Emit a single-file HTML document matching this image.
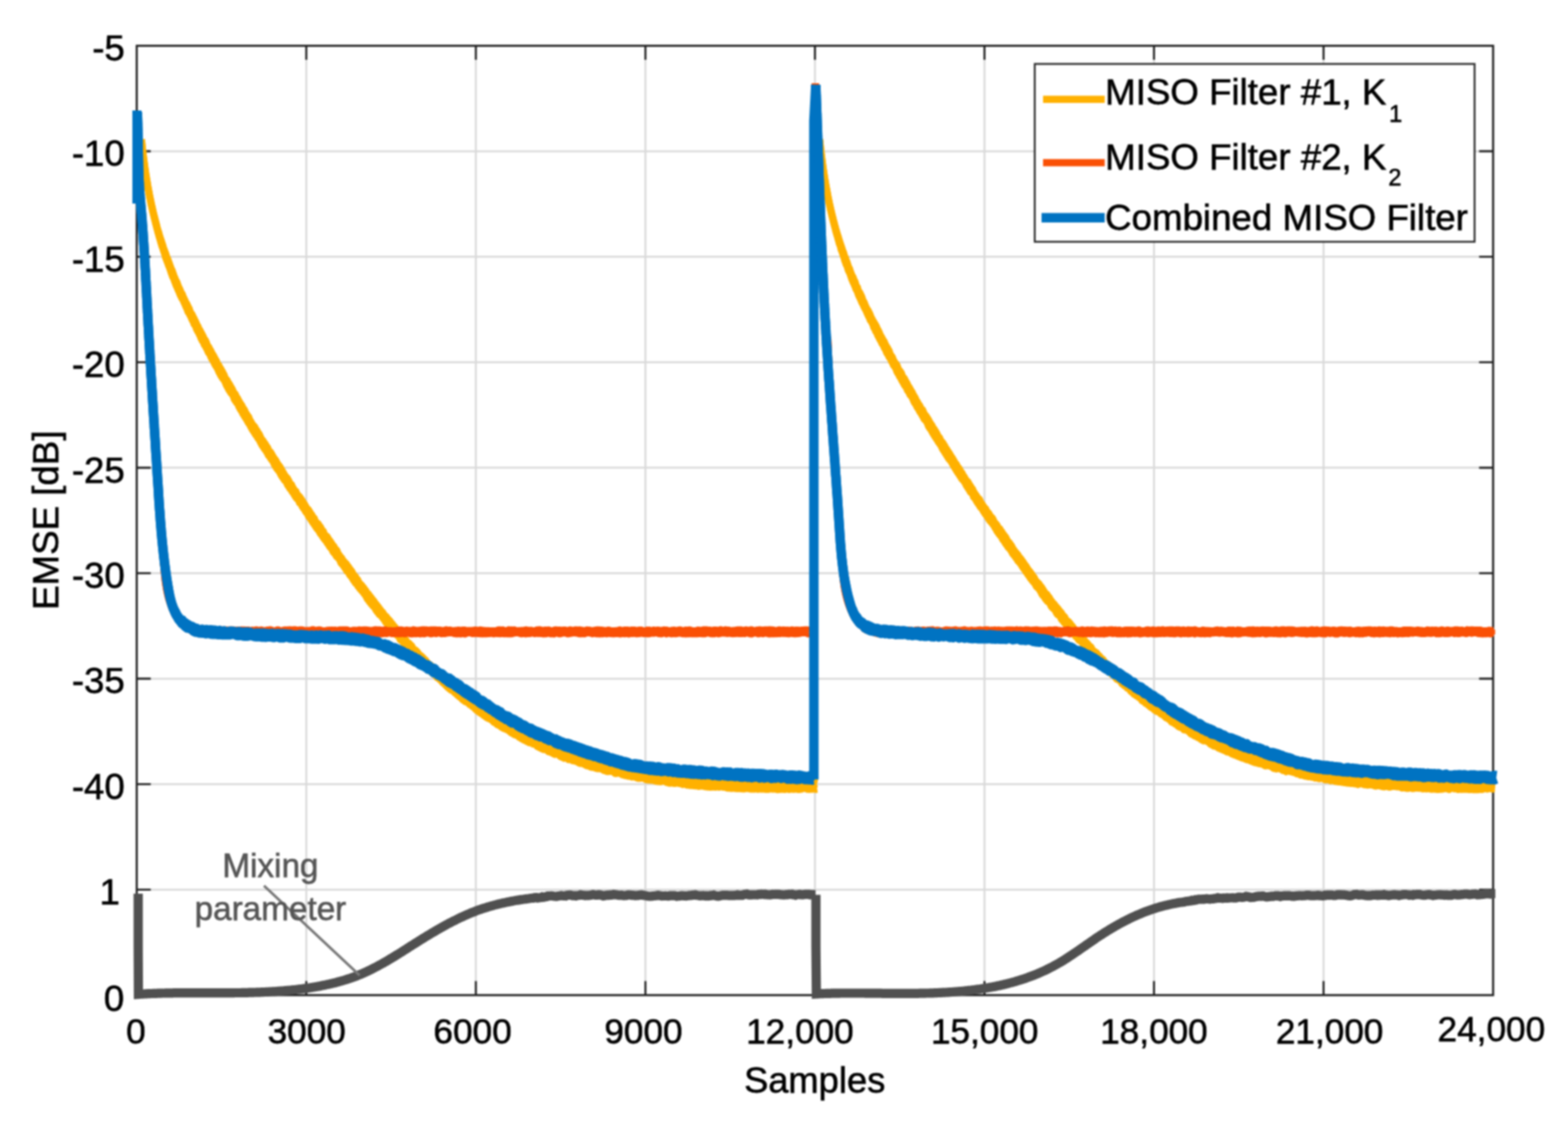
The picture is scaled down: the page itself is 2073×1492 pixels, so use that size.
<!DOCTYPE html>
<html><head><meta charset="utf-8"><title>EMSE plot</title>
<style>html,body{margin:0;padding:0;background:#fff;}svg{display:block;}#wrap{filter:blur(0.8px);width:2073px;height:1492px;overflow:hidden;}</style>
</head><body><div id="wrap">
<svg width="2073" height="1492" viewBox="0 0 2073 1492">
<rect width="2073" height="1492" fill="#fff"/>
<path d="M404.95 60.50V1315.10M629.10 60.50V1315.10M853.25 60.50V1315.10M1077.40 60.50V1315.10M1301.55 60.50V1315.10M1525.70 60.50V1315.10M1749.85 60.50V1315.10M180.80 199.90H1974.00M180.80 339.30H1974.00M180.80 478.70H1974.00M180.80 618.10H1974.00M180.80 757.50H1974.00M180.80 896.90H1974.00M180.80 1036.30H1974.00M180.80 1175.70H1974.00" stroke="#d9d9d9" stroke-width="2.5" fill="none"/>
<path d="M404.95 1315.10v-18.5M404.95 60.50v18.5M629.10 1315.10v-18.5M629.10 60.50v18.5M853.25 1315.10v-18.5M853.25 60.50v18.5M1077.40 1315.10v-18.5M1077.40 60.50v18.5M1301.55 1315.10v-18.5M1301.55 60.50v18.5M1525.70 1315.10v-18.5M1525.70 60.50v18.5M1749.85 1315.10v-18.5M1749.85 60.50v18.5M180.80 199.90h18.5M1974.00 199.90h-18.5M180.80 339.30h18.5M1974.00 339.30h-18.5M180.80 478.70h18.5M1974.00 478.70h-18.5M180.80 618.10h18.5M1974.00 618.10h-18.5M180.80 757.50h18.5M1974.00 757.50h-18.5M180.80 896.90h18.5M1974.00 896.90h-18.5M180.80 1036.30h18.5M1974.00 1036.30h-18.5M180.80 1175.70h18.5M1974.00 1175.70h-18.5" stroke="#1e1e1e" stroke-width="2.6" fill="none"/>
<rect x="180.80" y="60.50" width="1793.20" height="1254.60" stroke="#1e1e1e" stroke-width="2.7" fill="none"/>
<path d="M186.9 184.0L187.0 185.5L187.2 187.0L187.3 188.5L187.5 190.0L187.6 191.5L187.8 193.0L188.0 194.5L188.1 196.0L188.3 197.5L188.5 199.0L188.7 200.5L188.8 202.0L189.0 203.5L189.2 205.0L189.4 206.5L189.6 208.0L189.8 209.4L190.0 210.9L190.2 212.4L190.4 213.9L190.6 215.4L190.8 216.9L191.0 218.4L191.2 219.9L191.4 221.3L191.6 222.8L191.8 224.3L192.1 225.8L192.3 227.3L192.5 228.7L192.7 230.2L193.0 231.7L193.2 233.2L193.4 234.6L193.7 236.1L193.9 237.6L194.2 239.1L194.4 240.5L194.7 242.0L194.9 243.5L195.2 244.9L195.4 246.4L195.7 247.9L196.0 249.3L196.2 250.8L196.5 252.3L196.8 253.7L197.1 255.2L197.3 256.6L197.6 258.1L197.9 259.6L198.2 261.0L198.5 262.4L198.8 263.8L199.1 265.2L199.4 266.7L199.7 268.1L200.0 269.6L200.3 271.0L200.7 272.4L201.0 273.7L201.3 275.1L201.6 276.5L202.0 278.1L202.3 279.5L202.6 280.9L203.0 282.4L203.3 283.7L203.7 285.0L204.0 286.4L204.4 287.8L204.7 289.1L205.1 290.5L205.5 292.0L205.8 293.3L206.2 294.8L206.6 296.3L207.0 297.4L207.3 299.1L207.7 300.7L208.1 302.1L208.5 303.5L208.9 304.7L209.3 305.9L209.7 307.1L210.1 308.6L210.5 310.1L211.0 311.7L211.4 313.2L211.8 314.4L212.2 315.5L212.7 317.0L213.1 318.1L213.6 319.8L214.0 320.8L214.4 322.4L214.9 323.5L215.4 325.2L215.8 327.0L216.3 328.4L216.7 329.2L217.2 330.6L217.7 331.8L218.2 333.5L218.7 334.5L219.2 335.8L219.6 337.1L220.1 338.8L220.6 340.0L221.1 341.2L221.7 342.4L222.2 343.7L222.7 345.5L223.2 346.6L223.7 347.9L224.3 349.8L224.8 351.1L225.3 352.6L225.9 354.4L226.4 355.6L227.0 356.5L227.5 357.6L228.1 359.4L228.6 360.8L229.2 362.4L229.8 364.3L230.3 365.5L230.9 367.0L231.5 368.4L232.1 369.7L232.6 371.2L233.2 372.0L233.8 372.8L234.4 374.8L235.0 376.4L235.6 378.0L236.2 379.4L236.8 380.7L237.4 381.7L238.0 383.5L238.6 384.7L239.2 386.3L239.9 387.6L240.5 388.2L241.1 389.1L241.7 391.7L242.4 392.6L243.0 394.0L243.6 395.4L244.2 396.4L244.9 398.1L245.5 399.3L246.2 401.0L246.8 401.3L247.5 403.1L248.1 404.8L248.8 405.5L249.4 407.3L250.1 408.0L250.7 410.3L251.4 411.7L252.0 413.2L252.7 414.1L253.4 414.8L254.0 416.1L254.7 417.5L255.4 419.1L256.1 420.3L256.7 421.4L257.4 423.2L258.1 424.3L258.8 425.8L259.4 427.2L260.1 428.8L260.8 430.4L261.5 430.8L262.2 433.1L262.9 434.6L263.5 436.2L264.2 436.2L264.9 438.4L265.6 438.9L266.3 441.0L267.0 441.5L267.7 444.1L268.4 444.2L269.1 446.8L269.8 447.4L270.5 449.0L271.2 449.4L271.9 450.7L272.6 452.2L273.3 454.4L274.0 456.3L274.7 457.1L275.4 458.6L276.1 458.9L276.8 460.8L277.5 462.0L278.3 462.8L279.0 464.4L279.7 466.3L280.4 467.1L281.1 468.5L281.8 469.4L282.5 470.6L283.3 472.4L284.0 473.5L284.7 475.2L285.4 475.8L286.2 477.4L286.9 479.7L287.6 481.0L288.3 481.9L289.1 482.5L289.8 484.5L290.5 485.3L291.2 486.9L292.0 487.7L292.7 489.3L293.4 490.4L294.2 491.6L294.9 493.5L295.6 494.5L296.4 496.1L297.1 498.4L297.9 499.8L298.6 500.8L299.3 501.6L300.1 502.4L300.8 503.8L301.6 506.0L302.3 506.3L303.1 507.8L303.8 508.7L304.6 510.4L305.3 511.8L306.1 512.7L306.8 514.2L307.6 515.6L308.3 517.8L309.1 518.9L309.8 520.2L310.6 520.5L311.3 521.7L312.1 523.7L312.8 524.9L313.6 525.8L314.4 527.2L315.1 528.7L315.9 530.0L316.6 532.3L317.4 532.6L318.2 533.7L318.9 535.2L319.7 536.0L320.5 538.0L321.2 539.3L322.0 540.2L322.8 541.2L323.5 542.7L324.3 544.6L325.1 546.4L325.9 547.0L326.6 548.6L327.4 549.6L328.2 550.3L329.0 551.8L329.7 554.1L330.5 555.4L331.3 556.7L332.1 558.3L332.9 559.6L333.6 560.8L334.4 562.1L335.2 562.5L336.0 563.5L336.8 564.3L337.6 566.7L338.4 567.5L339.1 568.7L339.9 569.4L340.7 572.2L341.5 572.4L342.3 573.3L343.1 575.0L343.9 576.6L344.7 578.5L345.5 580.0L346.3 581.3L347.1 581.7L347.9 582.9L348.7 584.6L349.5 585.4L350.2 586.3L351.0 587.6L351.8 589.1L352.6 591.0L353.5 591.1L354.3 593.1L355.1 594.7L355.9 596.6L356.7 597.3L357.5 597.5L358.3 598.9L359.1 600.0L359.9 602.2L360.7 602.9L361.5 604.2L362.3 606.0L363.1 606.5L363.9 607.7L364.8 608.9L365.6 610.7L366.4 612.0L367.2 613.4L368.0 615.1L368.8 615.1L369.6 616.5L370.5 617.6L371.3 619.7L372.1 620.4L372.9 621.9L373.7 623.8L374.5 624.7L375.4 626.8L376.2 627.6L377.0 628.9L377.8 630.4L378.7 630.9L379.5 631.5L380.3 632.9L381.1 634.4L382.0 635.9L382.8 638.1L383.6 639.4L384.4 640.0L385.3 640.5L386.1 642.7L386.9 643.9L387.8 645.6L388.6 646.9L389.4 648.1L390.3 648.9L391.1 649.3L391.9 651.6L392.8 653.1L393.6 653.9L394.4 655.3L395.3 656.8L396.1 656.5L396.9 658.0L397.8 659.1L398.6 660.9L399.4 661.4L400.3 663.6L401.1 664.5L402.0 665.6L402.8 666.8L403.6 668.8L404.5 669.8L405.3 671.7L406.2 673.0L407.0 673.0L407.9 673.9L408.7 675.4L409.6 676.7L410.4 678.3L411.2 679.6L412.1 680.1L412.9 682.7L413.8 683.2L414.6 684.3L415.5 685.1L416.3 687.8L417.2 689.1L418.0 690.3L418.9 691.5L419.7 691.8L420.6 692.3L421.4 693.7L422.3 695.5L423.2 696.0L424.0 697.3L424.9 699.6L425.7 700.7L426.6 701.4L427.4 702.2L428.3 705.1L429.1 706.3L430.0 707.5L430.9 708.7L431.7 708.5L432.6 709.7L433.4 710.8L434.3 713.4L435.2 713.3L436.0 714.9L436.9 715.8L437.7 717.4L438.6 718.4L439.5 720.8L440.3 721.1L441.2 721.8L442.1 723.7L442.9 725.1L443.8 726.1L444.7 726.8L445.5 728.1L446.4 730.8L447.2 732.0L448.1 733.2L449.0 734.4L449.8 735.4L450.7 736.9L451.6 737.5L452.5 739.3L453.3 740.5L454.2 741.5L455.1 742.7L455.9 743.5L456.8 744.2L457.7 745.1L458.5 746.5L459.4 748.4L460.3 748.6L461.2 750.2L462.0 751.3L462.9 752.5L463.8 753.9L464.7 754.7L465.5 756.0L466.4 758.3L467.3 759.3L468.2 761.0L469.1 761.6L469.9 762.0L470.8 763.9L471.7 765.4L472.6 765.8L473.5 767.8L474.4 769.6L475.3 770.8L476.1 771.7L477.0 773.0L477.9 773.2L478.8 774.7L479.7 775.7L480.6 776.7L481.5 778.1L482.4 780.4L483.3 780.1L484.2 781.9L485.1 783.9L486.0 784.6L486.9 785.0L487.8 786.5L488.7 787.7L489.6 788.5L490.5 790.0L491.4 790.9L492.3 792.2L493.2 793.2L494.2 794.4L495.1 796.3L496.0 797.0L496.9 798.4L497.8 799.2L498.8 800.8L499.7 801.6L500.6 802.9L501.5 804.5L502.5 805.3L503.4 807.6L504.3 807.9L505.3 808.5L506.2 809.9L507.1 811.7L508.1 812.8L509.0 813.5L510.0 814.7L510.9 815.3L511.9 817.2L512.8 818.0L513.8 818.9L514.7 820.0L515.7 821.1L516.6 822.4L517.6 823.6L518.6 824.6L519.5 825.9L520.5 827.6L521.5 828.2L522.4 829.2L523.4 831.7L524.4 831.5L525.4 833.7L526.3 834.4L527.3 835.3L528.3 836.2L529.3 837.6L530.3 838.9L531.3 841.0L532.3 842.1L533.3 843.2L534.3 843.7L535.3 844.7L536.3 845.5L537.3 847.7L538.3 848.8L539.3 849.9L540.3 849.9L541.3 850.8L542.4 852.2L543.4 852.9L544.4 853.9L545.4 856.2L546.5 857.4L547.5 858.5L548.5 858.8L549.6 859.5L550.6 861.0L551.7 861.4L552.7 863.3L553.8 864.6L554.8 866.3L555.9 866.2L556.9 867.0L558.0 868.3L559.1 868.9L560.1 871.0L561.2 872.2L562.3 872.1L563.3 873.8L564.4 875.7L565.5 876.4L566.6 878.0L567.6 878.3L568.7 878.9L569.8 879.6L570.9 881.2L572.0 881.6L573.1 882.7L574.2 884.1L575.3 886.3L576.4 886.4L577.5 887.2L578.6 888.8L579.7 889.8L580.8 891.0L581.9 891.8L583.0 892.0L584.2 893.1L585.3 894.5L586.4 895.0L587.5 896.6L588.6 898.2L589.8 899.5L590.9 900.5L592.0 901.5L593.2 901.9L594.3 902.9L595.5 903.4L596.6 904.8L597.8 905.5L598.9 905.7L600.1 907.0L601.2 908.0L602.4 909.5L603.5 910.3L604.7 910.8L605.9 912.1L607.0 912.7L608.2 914.6L609.4 916.0L610.5 916.9L611.7 917.3L612.9 918.4L614.1 919.5L615.2 920.6L616.4 921.6L617.6 922.5L618.8 922.5L620.0 923.5L621.2 924.0L622.4 925.2L623.6 925.6L624.8 926.8L626.0 928.3L627.2 929.6L628.4 930.1L629.6 930.2L630.8 932.5L632.0 933.4L633.2 934.2L634.5 935.1L635.7 935.1L636.9 936.2L638.1 936.6L639.4 938.6L640.6 939.4L641.8 940.2L643.1 941.1L644.3 941.5L645.5 941.7L646.8 942.2L648.0 942.9L649.3 944.2L650.5 944.9L651.8 945.4L653.0 946.5L654.3 947.8L655.5 948.7L656.8 948.6L658.0 949.8L659.3 950.6L660.6 951.5L661.8 952.3L663.1 953.2L664.4 953.5L665.7 954.3L666.9 955.0L668.2 957.0L669.5 956.9L670.8 958.1L672.1 958.3L673.3 959.4L674.6 960.9L675.9 962.0L677.2 961.7L678.5 961.9L679.8 963.6L681.1 963.9L682.4 964.4L683.7 965.5L685.0 966.4L686.3 966.4L687.6 967.1L689.0 968.4L690.3 968.7L691.6 969.2L692.9 970.7L694.2 970.7L695.6 971.5L696.9 973.2L698.2 973.1L699.5 974.6L700.9 974.8L702.2 975.6L703.5 975.2L704.9 976.9L706.2 977.8L707.6 978.6L708.9 977.8L710.2 978.7L711.6 979.2L712.9 980.0L714.3 980.8L715.6 981.7L717.0 982.4L718.4 983.7L719.7 984.4L721.1 984.5L722.4 984.1L723.8 984.7L725.2 985.9L726.5 986.7L727.9 987.9L729.3 988.3L730.7 987.6L732.0 988.6L733.4 989.2L734.8 989.2L736.2 989.8L737.6 990.3L739.0 992.0L740.3 992.9L741.7 993.5L743.1 993.1L744.5 993.4L745.9 993.6L747.3 994.3L748.7 994.9L750.1 995.7L751.5 995.9L752.9 996.7L754.3 997.5L755.7 998.3L757.1 998.5L758.5 998.7L760.0 999.5L761.4 999.0L762.8 999.9L764.2 1000.0L765.6 1000.8L767.0 1001.3L768.5 1001.4L769.9 1003.2L771.3 1003.2L772.7 1004.1L774.2 1004.3L775.6 1003.5L777.0 1004.5L778.4 1005.4L779.9 1006.4L781.3 1006.9L782.7 1007.3L784.2 1006.2L785.6 1007.1L787.1 1007.1L788.5 1008.3L789.9 1008.3L791.4 1009.6L792.8 1010.1L794.3 1009.6L795.7 1010.5L797.2 1010.0L798.6 1010.3L800.1 1010.6L801.5 1011.0L803.0 1011.9L804.4 1013.2L805.9 1013.5L807.3 1013.9L808.8 1013.1L810.3 1014.0L811.7 1013.5L813.2 1014.0L814.7 1014.2L816.1 1014.4L817.6 1015.0L819.0 1015.2L820.5 1015.4L822.0 1016.4L823.5 1017.6L824.9 1017.9L826.4 1018.2L827.9 1017.1L829.3 1018.0L830.8 1017.9L832.3 1019.2L833.8 1018.4L835.2 1018.7L836.7 1019.2L838.2 1020.2L839.7 1019.7L841.2 1020.0L842.6 1020.0L844.1 1020.1L845.6 1020.5L847.1 1020.6L848.6 1021.5L850.1 1022.2L851.5 1021.7L853.0 1021.8L854.5 1022.1L856.0 1023.1L857.5 1023.2L859.0 1023.4L860.5 1023.3L862.0 1024.3L863.5 1024.7L865.0 1024.4L866.5 1023.9L868.0 1025.1L869.4 1024.7L870.9 1024.7L872.4 1025.0L873.9 1025.6L875.4 1025.9L876.9 1026.0L878.4 1025.8L879.9 1026.5L881.4 1026.0L882.9 1026.6L884.4 1027.3L885.9 1028.1L887.4 1028.4L888.9 1028.6L890.4 1027.8L891.9 1027.9L893.4 1028.0L894.9 1028.7L896.5 1028.4L898.0 1028.3L899.5 1028.7L901.0 1028.7L902.5 1028.6L904.0 1028.8L905.5 1029.5L907.0 1029.3L908.5 1029.2L910.0 1029.9L911.5 1030.3L913.0 1030.4L914.5 1030.2L916.0 1030.1L917.5 1030.6L919.1 1031.0L920.6 1031.0L922.1 1031.0L923.6 1030.7L925.1 1031.0L926.6 1031.1L928.1 1031.0L929.6 1031.4L931.1 1031.5L932.6 1031.9L934.2 1032.4L935.7 1032.8L937.2 1032.4L938.7 1032.1L940.2 1032.3L941.7 1033.5L943.2 1033.8L944.7 1033.4L946.2 1033.4L947.7 1032.4L949.3 1032.7L950.8 1033.4L952.3 1034.3L953.8 1034.4L955.3 1034.0L956.8 1033.3L958.3 1033.4L959.8 1033.7L961.3 1033.2L962.8 1033.8L964.4 1033.5L965.9 1034.3L967.4 1034.1L968.9 1034.5L970.4 1035.0L971.9 1033.7L973.4 1034.0L974.9 1034.6L976.4 1035.4L977.9 1034.9L979.4 1035.4L980.9 1035.6L982.4 1034.3L983.9 1035.5L985.5 1035.9L987.0 1034.6L988.5 1035.2L990.0 1035.1L991.5 1035.5L993.0 1035.1L994.5 1035.5L996.0 1034.9L997.5 1036.2L999.0 1036.2L1000.5 1036.3L1002.0 1036.3L1003.5 1035.2L1005.0 1035.4L1006.5 1034.8L1008.0 1035.5L1009.5 1036.4L1011.0 1036.5L1012.5 1036.3L1014.0 1036.0L1015.5 1035.3L1017.0 1036.0L1018.5 1036.5L1019.9 1036.4L1021.4 1036.2L1022.9 1035.1L1024.4 1035.4L1025.9 1035.2L1027.4 1035.1L1028.9 1035.0L1030.4 1035.1L1031.9 1035.8L1033.4 1036.5L1034.8 1036.7L1036.3 1035.8L1037.8 1035.2L1039.3 1036.2L1040.8 1036.7L1042.3 1036.3L1043.7 1036.3L1045.2 1035.7L1046.7 1035.6L1048.2 1035.5L1049.7 1035.4L1051.1 1035.7L1052.6 1035.2L1054.1 1035.8L1055.6 1035.8L1057.0 1034.9L1058.5 1035.1L1060.0 1035.4L1061.4 1035.9L1062.9 1035.2L1064.4 1035.2L1065.8 1035.9L1067.3 1035.8L1068.8 1035.0L1070.2 1035.3L1071.7 1034.8L1073.2 1035.5L1074.6 1036.2L1076.1 1036.4L1077.5 1035.4L1079.0 1034.7L1080.5 1035.1" stroke="#ffb100" stroke-width="9.6" fill="none" stroke-linejoin="round" stroke-linecap="butt"/>
<path d="M186.9 184.0L187.0 185.5L187.2 187.0L187.3 188.5L187.5 190.0L187.6 191.5L187.8 193.0L188.0 194.5L188.1 196.0L188.3 197.5L188.5 199.0L188.7 200.5L188.8 202.0L189.0 203.5L189.2 205.0L189.4 206.5L189.6 208.0L189.8 209.4L190.0 210.9L190.2 212.4L190.4 213.9L190.6 215.4L190.8 216.9L191.0 218.4L191.2 219.9L191.4 221.3L191.6 222.8L191.8 224.3L192.1 225.8L192.3 227.3L192.5 228.7L192.7 230.2L193.0 231.7L193.2 233.2L193.4 234.6L193.7 236.1L193.9 237.6L194.2 239.1L194.4 240.5L194.7 242.0L194.9 243.5L195.2 244.9L195.4 246.4L195.7 247.9L196.0 249.3L196.2 250.8L196.5 252.3L196.8 253.7L197.1 255.2L197.3 256.6L197.6 258.1L197.9 259.6L198.2 261.0L198.5 262.5L198.8 264.0L199.1 265.5L199.4 266.9L199.7 268.5L200.0 269.9L200.3 271.4L200.7 272.9L201.0 274.4L201.3 275.8L201.6 277.3L202.0 278.9L202.3 280.4L202.6 281.8L203.0 283.3L203.3 284.7L203.7 286.3L204.0 287.7L204.4 289.2L204.7 290.4L205.1 292.1L205.5 293.6L205.8 295.2L206.2 296.4L206.6 297.9L207.0 299.5L207.3 300.9L207.7 302.3L208.1 303.8L208.5 305.4L208.9 307.0L209.3 308.4L209.7 309.8L210.1 311.2L210.5 312.8L211.0 314.3L211.4 315.6L211.8 316.8L212.2 318.5L212.7 320.1L213.1 321.7L213.6 323.1L214.0 324.4L214.4 325.9L214.9 326.8L215.4 328.3L215.8 329.7L216.3 331.2L216.7 332.6L217.2 334.1L217.7 335.5L218.2 337.2L218.7 339.2L219.2 340.7L219.6 341.8L220.1 343.2L220.6 344.2L221.1 346.0L221.7 347.0L222.2 348.6L222.7 350.2L223.2 351.3L223.7 352.7L224.3 354.1L224.8 355.5L225.3 357.0L225.9 358.5L226.4 360.5L227.0 361.8L227.5 363.5L228.1 364.9L228.6 366.3L229.2 366.9L229.8 368.6L230.3 369.9L230.9 371.8L231.5 373.1L232.1 374.8L232.6 376.2L233.2 377.7L233.8 379.0L234.4 380.1L235.0 381.7L235.6 383.2L236.2 384.6L236.8 385.2L237.4 387.4L238.0 388.7L238.6 390.2L239.2 391.5L239.9 392.6L240.5 394.2L241.1 394.5L241.7 395.8L242.4 397.3L243.0 398.6L243.6 400.0L244.2 401.3L244.9 402.7L245.5 404.3L246.2 406.0L246.8 407.2L247.5 408.8L248.1 410.6L248.8 412.3L249.4 413.0L250.1 414.0L250.7 415.4L251.4 416.6L252.0 417.8L252.7 419.2L253.4 420.9L254.0 422.2L254.7 423.7L255.4 424.6L256.1 426.5L256.7 428.6L257.4 428.7L258.1 430.1L258.8 431.7L259.4 433.2L260.1 435.4L260.8 436.5L261.5 438.0L262.2 438.9L262.9 439.9L263.5 441.7L264.2 442.7L264.9 444.5L265.6 446.5L266.3 447.9L267.0 449.1L267.7 450.6L268.4 451.0L269.1 452.3L269.8 454.6L270.5 456.0L271.2 457.0L271.9 457.4L272.6 459.6L273.3 460.6L274.0 461.9L274.7 463.8L275.4 465.2L276.1 466.7L276.8 466.7L277.5 468.4L278.3 469.8L279.0 471.9L279.7 473.1L280.4 474.6L281.1 475.5L281.8 476.5L282.5 478.2L283.3 479.5L284.0 481.5L284.7 482.0L285.4 483.7L286.2 484.9L286.9 485.7L287.6 487.2L288.3 488.5L289.1 490.6L289.8 492.0L290.5 493.2L291.2 494.7L292.0 496.1L292.7 497.4L293.4 498.1L294.2 499.8L294.9 500.5L295.6 501.0L296.4 502.3L297.1 503.6L297.9 505.0L298.6 507.1L299.3 508.6L300.1 510.4L300.8 511.6L301.6 512.9L302.3 514.5L303.1 515.8L303.8 516.9L304.6 517.8L305.3 519.6L306.1 519.7L306.8 520.7L307.6 522.0L308.3 523.3L309.1 525.0L309.8 527.5L310.6 528.7L311.3 529.8L312.1 530.1L312.8 532.3L313.6 532.6L314.4 533.8L315.1 535.0L315.9 537.3L316.6 538.2L317.4 540.5L318.2 540.6L318.9 542.9L319.7 543.5L320.5 544.8L321.2 547.0L322.0 547.6L322.8 549.4L323.5 550.5L324.3 551.8L325.1 553.1L325.9 554.0L326.6 555.4L327.4 556.7L328.2 558.3L329.0 559.5L329.7 560.3L330.5 561.5L331.3 563.4L332.1 564.8L332.9 566.2L333.6 567.5L334.4 568.9L335.2 569.7L336.0 571.3L336.8 572.3L337.6 573.8L338.4 575.0L339.1 575.4L339.9 577.0L340.7 578.3L341.5 579.9L342.3 580.1L343.1 581.8L343.9 583.3L344.7 585.2L345.5 586.2L346.3 588.1L347.1 589.2L347.9 589.9L348.7 591.6L349.5 592.8L350.2 593.9L351.0 594.7L351.8 595.8L352.6 597.4L353.5 598.5L354.3 600.4L355.1 602.0L355.9 602.1L356.7 603.7L357.5 605.3L358.3 605.8L359.1 607.6L359.9 608.4L360.7 609.3L361.5 610.8L362.3 612.7L363.1 614.5L363.9 615.5L364.8 617.2L365.6 618.5L366.4 619.7L367.2 620.8L368.0 621.4L368.8 622.6L369.6 623.6L370.5 625.6L371.3 626.9L372.1 628.5L372.9 629.5L373.7 631.1L374.5 631.6L375.4 633.4L376.2 634.6L377.0 635.4L377.8 636.2L378.7 637.0L379.5 639.1L380.3 641.0L381.1 641.9L382.0 643.2L382.8 644.6L383.6 646.0L384.4 645.9L385.3 647.7L386.1 649.5L386.9 649.5L387.8 651.5L388.6 652.9L389.4 654.3L390.3 655.8L391.1 657.0L391.9 658.1L392.8 659.2L393.6 659.4L394.4 660.8L395.3 662.0L396.1 664.8L396.9 665.0L397.8 665.7L398.6 666.9L399.4 668.9L400.3 670.0L401.1 671.6L402.0 672.3L402.8 673.1L403.6 675.2L404.5 676.6L405.3 677.7L406.2 678.1L407.0 680.0L407.9 682.2L408.7 683.2L409.6 684.2L410.4 685.3L411.2 686.6L412.1 688.1L412.9 689.2L413.8 690.8L414.6 691.8L415.5 693.0L416.3 694.3L417.2 695.5L418.0 697.0L418.9 698.0L419.7 699.4L420.6 699.9L421.4 701.1L422.3 702.7L423.2 704.3L424.0 705.7L424.9 706.3L425.7 707.7L426.6 709.1L427.4 709.7L428.3 711.7L429.1 712.3L430.0 713.9L430.9 714.1L431.7 715.6L432.6 717.5L433.4 718.0L434.3 719.8L435.2 720.9L436.0 722.6L436.9 722.4L437.7 723.7L438.6 725.6L439.5 726.8L440.3 729.0L441.2 730.0L442.1 731.3L442.9 731.1L443.8 733.3L444.7 735.0L445.5 735.8L446.4 736.1L447.2 737.4L448.1 738.3L449.0 739.6L449.8 741.3L450.7 743.6L451.6 744.8L452.5 745.7L453.3 746.3L454.2 747.9L455.1 748.6L455.9 750.5L456.8 751.4L457.7 752.8L458.5 754.5L459.4 755.4L460.3 755.5L461.2 757.0L462.0 758.9L462.9 760.3L463.8 761.3L464.7 762.0L465.5 763.6L466.4 764.3L467.3 766.7L468.2 767.1L469.1 769.2L469.9 770.4L470.8 771.4L471.7 771.8L472.6 773.1L473.5 774.9L474.4 775.6L475.3 777.1L476.1 778.3L477.0 778.8L477.9 780.2L478.8 781.2L479.7 782.0L480.6 783.3L481.5 784.5L482.4 785.7L483.3 786.8L484.2 788.5L485.1 790.2L486.0 792.0L486.9 792.0L487.8 794.2L488.7 795.5L489.6 795.9L490.5 797.9L491.4 798.7L492.3 799.6L493.2 801.1L494.2 801.4L495.1 802.6L496.0 803.8L496.9 806.0L497.8 806.9L498.8 808.5L499.7 809.7L500.6 810.3L501.5 812.1L502.5 811.6L503.4 812.8L504.3 814.0L505.3 815.6L506.2 816.4L507.1 817.9L508.1 819.0L509.0 820.0L510.0 822.5L510.9 823.2L511.9 823.8L512.8 825.4L513.8 826.7L514.7 827.7L515.7 828.5L516.6 829.5L517.6 830.8L518.6 831.6L519.5 833.3L520.5 834.0L521.5 836.1L522.4 836.5L523.4 838.1L524.4 838.6L525.4 839.8L526.3 840.5L527.3 841.6L528.3 842.9L529.3 845.5L530.3 846.2L531.3 846.9L532.3 847.3L533.3 849.1L534.3 850.8L535.3 850.6L536.3 851.7L537.3 852.8L538.3 854.1L539.3 855.9L540.3 857.8L541.3 858.3L542.4 859.7L543.4 860.3L544.4 861.2L545.4 862.8L546.5 864.0L547.5 865.2L548.5 866.5L549.6 867.3L550.6 868.1L551.7 869.6L552.7 870.0L553.8 870.6L554.8 871.4L555.9 872.5L556.9 873.6L558.0 874.6L559.1 875.8L560.1 876.8L561.2 878.6L562.3 880.2L563.3 881.6L564.4 881.7L565.5 883.3L566.6 884.4L567.6 885.1L568.7 886.7L569.8 887.7L570.9 888.7L572.0 889.8L573.1 890.5L574.2 891.4L575.3 892.2L576.4 893.2L577.5 894.9L578.6 895.9L579.7 896.1L580.8 896.6L581.9 898.4L583.0 899.3L584.2 900.6L585.3 901.9L586.4 903.1L587.5 903.3L588.6 904.8L589.8 906.3L590.9 907.0L592.0 908.3L593.2 909.0L594.3 910.2L595.5 911.0L596.6 912.1L597.8 912.0L598.9 912.6L600.1 913.8L601.2 915.3L602.4 916.0L603.5 917.1L604.7 918.4L605.9 919.1L607.0 920.5L608.2 920.8L609.4 922.0L610.5 923.2L611.7 924.6L612.9 925.4L614.1 926.1L615.2 927.1L616.4 926.7L617.6 927.9L618.8 929.0L620.0 929.5L621.2 931.2L622.4 931.9L623.6 932.2L624.8 933.8L626.0 934.0L627.2 935.0L628.4 937.1L629.6 937.5L630.8 939.2L632.0 939.5L633.2 940.9L634.5 941.4L635.7 942.7L636.9 943.1L638.1 943.8L639.4 945.3L640.6 945.8L641.8 947.1L643.1 947.8L644.3 948.7L645.5 949.3L646.8 949.6L648.0 950.3L649.3 950.5L650.5 951.3L651.8 953.2L653.0 954.4L654.3 954.6L655.5 955.5L656.8 956.9L658.0 957.8L659.3 958.3L660.6 959.0L661.8 959.6L663.1 961.0L664.4 961.3L665.7 962.5L666.9 962.1L668.2 963.4L669.5 963.8L670.8 964.0L672.1 965.3L673.3 965.9L674.6 967.1L675.9 968.4L677.2 969.0L678.5 969.6L679.8 970.7L681.1 970.0L682.4 971.5L683.7 971.8L685.0 972.2L686.3 974.3L687.6 974.5L689.0 975.8L690.3 976.5L691.6 976.1L692.9 978.1L694.2 978.4L695.6 978.9L696.9 980.0L698.2 980.1L699.5 981.4L700.9 981.0L702.2 981.2L703.5 981.9L704.9 983.3L706.2 983.2L707.6 983.8L708.9 984.5L710.2 986.3L711.6 986.7L712.9 987.8L714.3 987.9L715.6 989.0L717.0 989.6L718.4 990.4L719.7 989.7L721.1 990.7L722.4 990.7L723.8 991.7L725.2 993.3L726.5 993.6L727.9 994.1L729.3 994.7L730.7 995.2L732.0 996.1L733.4 996.8L734.8 996.0L736.2 996.4L737.6 996.9L739.0 997.5L740.3 999.0L741.7 1000.0L743.1 1000.6L744.5 1001.2L745.9 1001.9L747.3 1001.1L748.7 1001.4L750.1 1001.8L751.5 1003.8L752.9 1002.7L754.3 1003.3L755.7 1004.2L757.1 1005.3L758.5 1005.2L760.0 1005.7L761.4 1005.7L762.8 1006.7L764.2 1007.3L765.6 1008.2L767.0 1008.8L768.5 1008.5L769.9 1009.0L771.3 1009.5L772.7 1009.7L774.2 1011.0L775.6 1011.7L777.0 1012.0L778.4 1011.5L779.9 1012.9L781.3 1013.6L782.7 1014.0L784.2 1013.5L785.6 1013.8L787.1 1014.9L788.5 1015.3L789.9 1015.7L791.4 1015.1L792.8 1015.8L794.3 1015.6L795.7 1016.5L797.2 1017.2L798.6 1018.1L800.1 1018.0L801.5 1019.1L803.0 1019.5L804.4 1019.4L805.9 1018.6L807.3 1019.0L808.8 1019.3L810.3 1019.7L811.7 1020.6L813.2 1022.0L814.7 1022.1L816.1 1021.6L817.6 1021.7L819.0 1021.7L820.5 1022.1L822.0 1023.4L823.5 1023.9L824.9 1024.1L826.4 1024.7L827.9 1024.9L829.3 1025.0L830.8 1025.8L832.3 1025.6L833.8 1025.9L835.2 1026.8L836.7 1026.4L838.2 1026.1L839.7 1026.2L841.2 1027.5L842.6 1028.1L844.1 1028.5L845.6 1028.5L847.1 1028.1L848.6 1028.2L850.1 1027.9L851.5 1028.2L853.0 1029.7L854.5 1030.4L856.0 1030.2L857.5 1030.7L859.0 1030.5L860.5 1031.0L862.0 1030.8L863.5 1030.4L865.0 1031.7L866.5 1031.4L868.0 1032.4L869.4 1032.6L870.9 1032.6L872.4 1032.9L873.9 1032.7L875.4 1032.4L876.9 1032.1L878.4 1032.4L879.9 1032.6L881.4 1034.0L882.9 1034.0L884.4 1034.8L885.9 1034.9L887.4 1034.5L888.9 1034.4L890.4 1035.0L891.9 1035.2L893.4 1035.0L894.9 1034.8L896.5 1034.6L898.0 1035.2L899.5 1035.5L901.0 1035.8L902.5 1036.6L904.0 1035.5L905.5 1035.7L907.0 1036.7L908.5 1037.5L910.0 1037.5L911.5 1037.7L913.0 1038.0L914.5 1037.8L916.0 1038.1L917.5 1037.8L919.1 1038.4L920.6 1038.2L922.1 1038.4L923.6 1039.1L925.1 1038.8L926.6 1038.7L928.1 1038.6L929.6 1038.1L931.1 1039.3L932.6 1039.6L934.2 1039.8L935.7 1039.9L937.2 1039.8L938.7 1040.2L940.2 1039.9L941.7 1040.0L943.2 1039.9L944.7 1039.1L946.2 1040.1L947.7 1039.2L949.3 1039.6L950.8 1040.1L952.3 1039.4L953.8 1039.8L955.3 1039.9L956.8 1040.3L958.3 1039.8L959.8 1040.5L961.3 1041.3L962.8 1041.4L964.4 1040.8L965.9 1041.6L967.4 1041.5L968.9 1041.6L970.4 1041.3L971.9 1041.9L973.4 1041.9L974.9 1042.1L976.4 1042.0L977.9 1042.0L979.4 1042.2L980.9 1042.2L982.4 1042.4L983.9 1042.5L985.5 1042.0L987.0 1041.9L988.5 1041.1L990.0 1041.9L991.5 1042.5L993.0 1042.6L994.5 1042.7L996.0 1042.8L997.5 1042.8L999.0 1042.2L1000.5 1041.7L1002.0 1042.9L1003.5 1042.4L1005.0 1042.6L1006.5 1042.2L1008.0 1042.8L1009.5 1042.4L1011.0 1042.8L1012.5 1043.1L1014.0 1042.7L1015.5 1043.1L1017.0 1042.8L1018.5 1042.0L1019.9 1042.0L1021.4 1042.8L1022.9 1042.4L1024.4 1042.7L1025.9 1042.8L1027.4 1043.4L1028.9 1042.4L1030.4 1043.1L1031.9 1043.0L1033.4 1042.9L1034.8 1042.8L1036.3 1043.0L1037.8 1043.3L1039.3 1042.3L1040.8 1042.3L1042.3 1043.0L1043.7 1043.2L1045.2 1042.0L1046.7 1042.8L1048.2 1042.9L1049.7 1043.0L1051.1 1042.8L1052.6 1042.1L1054.1 1042.6L1055.6 1043.3L1057.0 1043.2L1058.5 1042.8L1060.0 1042.8L1061.4 1041.7L1062.9 1041.6L1064.4 1041.6L1065.8 1042.1L1067.3 1043.0L1068.8 1042.6L1070.2 1043.1L1071.7 1042.3L1073.2 1042.9L1074.6 1042.5L1076.1 1042.7L1077.5 1042.2L1079.0 1043.1L1080.5 1042.9" stroke="#ffb100" stroke-width="9.6" fill="none" stroke-linejoin="round" stroke-linecap="butt"/>
<path d="M1083.5 184.0L1083.6 185.5L1083.8 187.0L1083.9 188.5L1084.1 190.0L1084.3 191.5L1084.4 193.0L1084.6 194.5L1084.7 196.0L1084.9 197.5L1085.1 199.0L1085.3 200.5L1085.4 202.0L1085.6 203.5L1085.8 205.0L1086.0 206.5L1086.2 208.0L1086.4 209.5L1086.6 211.0L1086.8 212.4L1087.0 213.9L1087.2 215.4L1087.4 216.9L1087.6 218.4L1087.8 219.9L1088.0 221.4L1088.2 222.9L1088.4 224.3L1088.7 225.8L1088.9 227.3L1089.1 228.8L1089.3 230.3L1089.6 231.7L1089.8 233.2L1090.0 234.7L1090.3 236.2L1090.5 237.6L1090.8 239.1L1091.0 240.6L1091.3 242.0L1091.5 243.5L1091.8 245.0L1092.0 246.4L1092.3 247.9L1092.6 249.4L1092.8 250.8L1093.1 252.3L1093.4 253.8L1093.7 255.2L1094.0 256.7L1094.2 258.1L1094.5 259.6L1094.8 261.0L1095.1 262.5L1095.4 263.9L1095.7 265.3L1096.0 266.7L1096.3 268.2L1096.6 269.6L1097.0 271.0L1097.3 272.5L1097.6 273.8L1097.9 275.2L1098.2 276.6L1098.6 278.0L1098.9 279.5L1099.3 280.9L1099.6 282.4L1099.9 283.8L1100.3 285.0L1100.6 286.4L1101.0 287.8L1101.4 289.2L1101.7 290.6L1102.1 292.0L1102.5 293.5L1102.8 294.8L1103.2 296.3L1103.6 297.9L1104.0 299.1L1104.4 300.4L1104.7 301.8L1105.1 303.2L1105.5 304.5L1105.9 305.9L1106.3 307.2L1106.8 308.7L1107.2 310.3L1107.6 311.6L1108.0 312.6L1108.4 314.1L1108.9 315.6L1109.3 317.3L1109.7 318.5L1110.2 319.5L1110.6 321.0L1111.1 322.4L1111.5 323.6L1112.0 324.9L1112.4 326.4L1112.9 327.6L1113.4 329.3L1113.9 330.9L1114.3 332.1L1114.8 333.2L1115.3 334.4L1115.8 336.4L1116.3 338.1L1116.8 339.3L1117.3 340.4L1117.8 341.1L1118.3 342.9L1118.8 344.0L1119.3 345.7L1119.9 346.9L1120.4 348.6L1120.9 350.0L1121.4 351.7L1122.0 353.3L1122.5 354.7L1123.1 355.1L1123.6 357.1L1124.2 358.9L1124.7 360.2L1125.3 361.6L1125.8 363.0L1126.4 364.4L1127.0 365.4L1127.6 366.2L1128.1 367.5L1128.7 369.3L1129.3 371.0L1129.9 371.5L1130.5 372.8L1131.1 375.0L1131.6 376.8L1132.2 377.9L1132.8 379.2L1133.5 379.7L1134.1 382.3L1134.7 383.7L1135.3 385.0L1135.9 385.8L1136.5 386.5L1137.1 387.8L1137.8 389.4L1138.4 390.5L1139.0 391.9L1139.6 393.4L1140.3 395.6L1140.9 397.3L1141.6 398.7L1142.2 399.2L1142.8 400.7L1143.5 402.7L1144.1 404.1L1144.8 405.5L1145.4 406.8L1146.1 408.2L1146.7 409.2L1147.4 409.9L1148.1 411.3L1148.7 413.2L1149.4 413.6L1150.0 415.5L1150.7 417.0L1151.4 419.0L1152.1 420.3L1152.7 421.2L1153.4 422.9L1154.1 424.3L1154.8 424.8L1155.4 426.8L1156.1 427.2L1156.8 428.4L1157.5 429.7L1158.2 430.9L1158.9 432.2L1159.5 434.3L1160.2 435.3L1160.9 436.3L1161.6 437.8L1162.3 439.2L1163.0 441.3L1163.7 442.7L1164.4 444.5L1165.1 445.0L1165.8 446.5L1166.5 447.5L1167.2 449.0L1167.9 450.5L1168.6 450.9L1169.3 452.6L1170.0 454.6L1170.7 455.6L1171.4 457.4L1172.1 458.3L1172.8 459.0L1173.5 460.3L1174.2 462.1L1175.0 462.9L1175.7 464.6L1176.4 467.0L1177.1 468.3L1177.8 469.7L1178.5 471.0L1179.2 471.1L1180.0 472.9L1180.7 474.9L1181.4 476.3L1182.1 477.6L1182.9 478.7L1183.6 480.0L1184.3 480.7L1185.0 481.6L1185.8 482.7L1186.5 484.6L1187.2 486.5L1187.9 488.2L1188.7 489.3L1189.4 489.8L1190.1 490.9L1190.9 491.9L1191.6 493.2L1192.4 495.6L1193.1 497.4L1193.8 498.7L1194.6 499.4L1195.3 499.7L1196.1 501.4L1196.8 503.1L1197.5 504.1L1198.3 505.4L1199.0 506.4L1199.8 508.5L1200.5 509.9L1201.3 511.0L1202.0 511.9L1202.8 513.6L1203.5 514.7L1204.3 516.1L1205.0 517.3L1205.8 518.1L1206.5 520.6L1207.3 521.3L1208.0 522.7L1208.8 524.2L1209.6 525.2L1210.3 527.0L1211.1 528.8L1211.8 530.1L1212.6 530.8L1213.4 532.7L1214.1 533.6L1214.9 534.8L1215.7 536.0L1216.4 537.4L1217.2 539.1L1218.0 540.5L1218.7 541.2L1219.5 541.4L1220.3 543.4L1221.1 545.2L1221.8 546.7L1222.6 548.0L1223.4 548.9L1224.2 549.6L1224.9 550.8L1225.7 552.0L1226.5 553.3L1227.3 554.5L1228.0 555.8L1228.8 558.4L1229.6 558.6L1230.4 560.1L1231.2 561.4L1232.0 562.2L1232.7 564.2L1233.5 565.2L1234.3 566.5L1235.1 567.1L1235.9 569.3L1236.7 569.7L1237.5 571.5L1238.3 572.6L1239.0 574.1L1239.8 576.4L1240.6 576.8L1241.4 577.9L1242.2 578.6L1243.0 581.1L1243.8 582.6L1244.6 583.1L1245.4 584.4L1246.2 585.0L1247.0 586.4L1247.8 588.4L1248.6 588.8L1249.4 590.6L1250.2 591.8L1251.0 593.7L1251.8 593.9L1252.6 596.0L1253.4 596.5L1254.2 598.4L1255.0 598.9L1255.8 600.8L1256.7 602.0L1257.5 603.6L1258.3 604.4L1259.1 605.4L1259.9 607.3L1260.7 608.2L1261.5 609.7L1262.3 611.4L1263.1 612.7L1264.0 613.2L1264.8 614.6L1265.6 616.4L1266.4 617.6L1267.2 618.1L1268.0 619.8L1268.9 620.7L1269.7 622.7L1270.5 624.3L1271.3 624.3L1272.1 625.9L1273.0 627.9L1273.8 629.1L1274.6 630.0L1275.4 631.5L1276.3 633.1L1277.1 634.6L1277.9 635.9L1278.7 636.9L1279.6 636.7L1280.4 638.4L1281.2 639.7L1282.1 641.2L1282.9 642.3L1283.7 643.7L1284.5 645.4L1285.4 645.9L1286.2 647.9L1287.0 649.6L1287.9 650.9L1288.7 652.1L1289.5 653.4L1290.4 654.4L1291.2 655.9L1292.1 657.1L1292.9 658.4L1293.7 659.6L1294.6 659.5L1295.4 661.4L1296.2 663.3L1297.1 664.6L1297.9 665.8L1298.8 667.1L1299.6 668.3L1300.5 669.6L1301.3 670.8L1302.1 671.5L1303.0 672.3L1303.8 674.2L1304.7 675.8L1305.5 677.0L1306.4 677.6L1307.2 678.6L1308.1 680.2L1308.9 681.7L1309.8 682.5L1310.6 683.5L1311.5 684.2L1312.3 685.4L1313.2 687.2L1314.0 689.4L1314.9 690.6L1315.7 691.3L1316.6 692.2L1317.4 693.3L1318.3 694.7L1319.1 696.6L1320.0 698.0L1320.8 699.2L1321.7 698.8L1322.5 700.7L1323.4 701.8L1324.3 702.6L1325.1 704.9L1326.0 705.5L1326.8 706.6L1327.7 707.9L1328.5 708.8L1329.4 709.9L1330.3 711.6L1331.1 713.9L1332.0 714.7L1332.8 715.9L1333.7 716.7L1334.6 717.6L1335.4 719.2L1336.3 720.1L1337.2 721.4L1338.0 723.0L1338.9 725.0L1339.8 726.2L1340.6 726.9L1341.5 728.6L1342.4 729.7L1343.2 730.2L1344.1 731.9L1345.0 732.3L1345.8 733.5L1346.7 735.6L1347.6 736.7L1348.4 737.1L1349.3 738.5L1350.2 739.4L1351.0 741.0L1351.9 741.8L1352.8 743.2L1353.6 744.6L1354.5 745.6L1355.4 747.4L1356.3 747.8L1357.1 749.8L1358.0 750.7L1358.9 752.6L1359.8 753.5L1360.6 754.4L1361.5 755.4L1362.4 756.8L1363.3 758.0L1364.2 759.1L1365.0 761.5L1365.9 762.4L1366.8 762.5L1367.7 764.4L1368.6 766.4L1369.5 767.6L1370.3 768.8L1371.2 769.2L1372.1 770.7L1373.0 771.0L1373.9 772.0L1374.8 774.1L1375.7 774.8L1376.6 775.6L1377.5 777.1L1378.4 778.4L1379.3 780.1L1380.2 781.2L1381.1 783.2L1382.0 784.4L1382.9 784.8L1383.8 785.2L1384.7 786.7L1385.6 788.3L1386.5 788.9L1387.4 790.1L1388.3 792.1L1389.2 793.1L1390.1 794.3L1391.0 796.0L1392.0 796.9L1392.9 797.8L1393.8 798.5L1394.7 800.2L1395.6 801.2L1396.6 802.2L1397.5 803.1L1398.4 804.1L1399.4 805.4L1400.3 807.2L1401.2 807.8L1402.2 809.1L1403.1 809.9L1404.0 812.1L1405.0 813.2L1405.9 813.8L1406.9 814.8L1407.8 816.1L1408.8 818.5L1409.7 819.2L1410.7 820.6L1411.6 821.1L1412.6 821.5L1413.5 823.0L1414.5 823.8L1415.5 825.5L1416.4 826.3L1417.4 827.4L1418.4 828.7L1419.3 830.2L1420.3 832.1L1421.3 833.0L1422.3 833.0L1423.3 835.6L1424.2 836.6L1425.2 837.7L1426.2 837.5L1427.2 838.9L1428.2 839.9L1429.2 841.2L1430.2 842.3L1431.2 843.4L1432.2 844.2L1433.2 846.3L1434.2 846.9L1435.2 848.6L1436.3 849.0L1437.3 850.4L1438.3 851.3L1439.3 853.2L1440.3 853.9L1441.4 854.4L1442.4 855.4L1443.4 857.6L1444.5 859.1L1445.5 859.9L1446.5 861.2L1447.6 861.4L1448.6 862.2L1449.7 862.9L1450.7 864.5L1451.8 865.8L1452.8 866.4L1453.9 867.7L1455.0 869.1L1456.0 870.4L1457.1 870.8L1458.2 871.7L1459.2 873.6L1460.3 874.9L1461.4 876.3L1462.5 877.3L1463.5 878.1L1464.6 878.0L1465.7 878.8L1466.8 879.9L1467.9 881.6L1469.0 882.4L1470.1 883.8L1471.2 885.7L1472.3 886.7L1473.4 887.1L1474.5 888.2L1475.6 888.1L1476.7 889.2L1477.8 890.3L1478.9 891.8L1480.0 893.2L1481.2 894.5L1482.3 895.0L1483.4 896.0L1484.5 896.5L1485.7 897.9L1486.8 898.4L1487.9 899.2L1489.1 900.2L1490.2 901.2L1491.3 902.7L1492.5 904.8L1493.6 905.2L1494.8 905.2L1495.9 907.1L1497.1 908.7L1498.2 909.7L1499.4 910.0L1500.6 910.7L1501.7 910.9L1502.9 912.9L1504.1 913.2L1505.2 913.8L1506.4 914.8L1507.6 916.9L1508.8 916.8L1509.9 918.4L1511.1 918.6L1512.3 920.0L1513.5 920.6L1514.7 922.9L1515.9 923.8L1517.1 924.7L1518.2 925.6L1519.4 926.5L1520.6 926.9L1521.8 927.4L1523.1 927.6L1524.3 928.6L1525.5 929.7L1526.7 930.6L1527.9 932.2L1529.1 932.6L1530.3 933.9L1531.5 934.4L1532.8 934.8L1534.0 936.4L1535.2 937.1L1536.5 938.1L1537.7 938.2L1538.9 939.3L1540.2 940.9L1541.4 942.0L1542.6 941.9L1543.9 943.3L1545.1 944.7L1546.4 945.1L1547.6 945.3L1548.9 946.3L1550.1 946.7L1551.4 947.6L1552.6 948.2L1553.9 950.0L1555.2 949.9L1556.4 950.9L1557.7 951.8L1559.0 953.0L1560.2 954.1L1561.5 954.3L1562.8 954.9L1564.1 956.4L1565.3 956.2L1566.6 957.7L1567.9 959.1L1569.2 959.8L1570.5 960.6L1571.8 960.5L1573.1 961.0L1574.4 961.5L1575.7 962.4L1577.0 963.3L1578.3 963.8L1579.6 964.6L1580.9 966.3L1582.2 966.8L1583.5 967.8L1584.8 968.2L1586.1 968.2L1587.4 969.5L1588.7 970.4L1590.1 971.6L1591.4 972.2L1592.7 971.6L1594.0 972.1L1595.4 973.1L1596.7 973.8L1598.0 974.3L1599.4 975.1L1600.7 976.0L1602.0 976.0L1603.4 977.0L1604.7 977.9L1606.1 978.5L1607.4 979.1L1608.8 979.4L1610.1 980.4L1611.5 981.8L1612.8 982.3L1614.2 983.4L1615.6 984.0L1616.9 984.1L1618.3 985.2L1619.6 985.2L1621.0 986.3L1622.4 987.0L1623.7 987.6L1625.1 987.6L1626.5 987.2L1627.9 988.5L1629.3 989.3L1630.6 990.4L1632.0 991.0L1633.4 991.5L1634.8 992.1L1636.2 991.9L1637.6 992.0L1639.0 992.7L1640.3 993.2L1641.7 994.2L1643.1 995.3L1644.5 995.3L1645.9 995.8L1647.3 995.6L1648.7 995.9L1650.1 996.8L1651.6 997.2L1653.0 998.2L1654.4 998.5L1655.8 999.2L1657.2 999.7L1658.6 999.8L1660.0 1000.7L1661.4 1001.2L1662.9 1002.2L1664.3 1002.7L1665.7 1003.1L1667.1 1003.1L1668.6 1003.0L1670.0 1003.3L1671.4 1004.2L1672.8 1003.9L1674.3 1004.5L1675.7 1005.5L1677.1 1005.4L1678.6 1006.5L1680.0 1007.5L1681.5 1007.1L1682.9 1008.1L1684.3 1008.7L1685.8 1009.1L1687.2 1009.3L1688.7 1009.5L1690.1 1009.8L1691.6 1009.9L1693.0 1010.1L1694.5 1010.2L1695.9 1010.5L1697.4 1010.6L1698.8 1011.0L1700.3 1011.3L1701.7 1011.7L1703.2 1012.7L1704.6 1012.5L1706.1 1012.9L1707.6 1013.5L1709.0 1013.7L1710.5 1014.1L1712.0 1014.6L1713.4 1015.5L1714.9 1014.8L1716.4 1015.5L1717.8 1017.1L1719.3 1017.4L1720.8 1017.1L1722.2 1017.2L1723.7 1018.1L1725.2 1017.6L1726.7 1017.4L1728.1 1017.9L1729.6 1019.5L1731.1 1018.4L1732.6 1018.5L1734.1 1019.4L1735.5 1020.0L1737.0 1019.7L1738.5 1020.5L1740.0 1020.2L1741.5 1020.2L1742.9 1020.7L1744.4 1021.3L1745.9 1021.9L1747.4 1021.4L1748.9 1022.0L1750.4 1022.1L1751.9 1022.3L1753.4 1022.5L1754.9 1022.6L1756.3 1023.0L1757.8 1023.2L1759.3 1023.9L1760.8 1023.7L1762.3 1024.0L1763.8 1024.6L1765.3 1025.8L1766.8 1026.0L1768.3 1026.1L1769.8 1025.9L1771.3 1025.8L1772.8 1026.1L1774.3 1025.9L1775.8 1025.8L1777.3 1025.9L1778.8 1026.3L1780.3 1026.8L1781.8 1026.6L1783.3 1027.6L1784.8 1028.5L1786.3 1028.7L1787.8 1028.5L1789.3 1027.9L1790.8 1028.7L1792.3 1029.1L1793.8 1028.8L1795.3 1028.8L1796.8 1028.5L1798.4 1028.6L1799.9 1029.0L1801.4 1029.1L1802.9 1029.4L1804.4 1029.2L1805.9 1029.5L1807.4 1030.5L1808.9 1030.2L1810.4 1030.6L1811.9 1030.8L1813.4 1031.1L1814.9 1031.0L1816.5 1031.0L1818.0 1030.5L1819.5 1032.2L1821.0 1032.3L1822.5 1032.5L1824.0 1032.1L1825.5 1031.1L1827.0 1031.7L1828.5 1032.4L1830.1 1032.5L1831.6 1032.5L1833.1 1031.9L1834.6 1031.7L1836.1 1032.1L1837.6 1032.1L1839.1 1033.5L1840.6 1033.8L1842.1 1033.1L1843.7 1033.0L1845.2 1033.0L1846.7 1033.5L1848.2 1032.9L1849.7 1033.2L1851.2 1033.5L1852.7 1032.9L1854.2 1033.7L1855.7 1034.6L1857.3 1034.3L1858.8 1033.4L1860.3 1034.1L1861.8 1034.5L1863.3 1033.9L1864.8 1034.5L1866.3 1034.8L1867.8 1034.3L1869.3 1033.9L1870.8 1034.8L1872.3 1034.0L1873.9 1034.9L1875.4 1034.8L1876.9 1035.4L1878.4 1034.1L1879.9 1034.1L1881.4 1035.3L1882.9 1035.4L1884.4 1035.9L1885.9 1034.9L1887.4 1034.6L1888.9 1034.8L1890.4 1034.7L1891.9 1035.4L1893.4 1035.7L1894.9 1036.2L1896.4 1036.1L1897.9 1035.7L1899.4 1035.9L1900.9 1035.5L1902.4 1035.7L1903.9 1036.0L1905.4 1035.2L1906.9 1035.7L1908.4 1035.3L1909.9 1035.4L1911.4 1035.0L1912.9 1035.0L1914.4 1035.3L1915.9 1035.1L1917.4 1035.2L1918.9 1036.0L1920.4 1036.6L1921.9 1036.4L1923.4 1036.3L1924.9 1034.9L1926.3 1035.1L1927.8 1035.1L1929.3 1035.5L1930.8 1036.0L1932.3 1035.1L1933.8 1035.5L1935.3 1035.4L1936.8 1036.2L1938.2 1036.1L1939.7 1035.5L1941.2 1035.7L1942.7 1035.1L1944.2 1035.4L1945.6 1036.0L1947.1 1036.1L1948.6 1036.1L1950.1 1035.3L1951.5 1035.4L1953.0 1035.7L1954.5 1035.7L1956.0 1036.0L1957.4 1036.6L1958.9 1036.0L1960.4 1035.1L1961.8 1034.9L1963.3 1035.8L1964.8 1035.1L1966.2 1034.8L1967.7 1035.2L1969.2 1035.1L1970.6 1035.5L1972.1 1035.2L1973.5 1034.9L1975.0 1035.6L1976.5 1035.6" stroke="#ffb100" stroke-width="9.6" fill="none" stroke-linejoin="round" stroke-linecap="butt"/>
<path d="M1083.5 184.0L1083.6 185.5L1083.8 187.0L1083.9 188.5L1084.1 190.0L1084.3 191.5L1084.4 193.0L1084.6 194.5L1084.7 196.0L1084.9 197.5L1085.1 199.0L1085.3 200.5L1085.4 202.0L1085.6 203.5L1085.8 205.0L1086.0 206.5L1086.2 208.0L1086.4 209.5L1086.6 211.0L1086.8 212.4L1087.0 213.9L1087.2 215.4L1087.4 216.9L1087.6 218.4L1087.8 219.9L1088.0 221.4L1088.2 222.9L1088.4 224.3L1088.7 225.8L1088.9 227.3L1089.1 228.8L1089.3 230.3L1089.6 231.7L1089.8 233.2L1090.0 234.7L1090.3 236.2L1090.5 237.6L1090.8 239.1L1091.0 240.6L1091.3 242.0L1091.5 243.5L1091.8 245.0L1092.0 246.4L1092.3 247.9L1092.6 249.4L1092.8 250.8L1093.1 252.3L1093.4 253.8L1093.7 255.2L1094.0 256.7L1094.2 258.1L1094.5 259.6L1094.8 261.1L1095.1 262.6L1095.4 264.0L1095.7 265.5L1096.0 267.0L1096.3 268.5L1096.6 270.0L1097.0 271.4L1097.3 272.9L1097.6 274.4L1097.9 276.0L1098.2 277.4L1098.6 278.8L1098.9 280.3L1099.3 281.8L1099.6 283.3L1099.9 284.8L1100.3 286.2L1100.6 287.6L1101.0 289.2L1101.4 290.7L1101.7 292.2L1102.1 293.7L1102.5 295.3L1102.8 296.6L1103.2 298.1L1103.6 299.7L1104.0 300.9L1104.4 302.5L1104.7 304.0L1105.1 305.5L1105.5 307.1L1105.9 308.3L1106.3 309.9L1106.8 311.4L1107.2 312.6L1107.6 314.2L1108.0 315.7L1108.4 316.9L1108.9 318.7L1109.3 320.2L1109.7 321.9L1110.2 323.0L1110.6 324.0L1111.1 325.5L1111.5 327.0L1112.0 329.2L1112.4 330.6L1112.9 331.5L1113.4 332.8L1113.9 334.6L1114.3 335.8L1114.8 337.2L1115.3 338.5L1115.8 340.3L1116.3 341.5L1116.8 343.9L1117.3 345.2L1117.8 346.5L1118.3 348.2L1118.8 349.6L1119.3 350.5L1119.9 351.6L1120.4 352.8L1120.9 354.8L1121.4 356.5L1122.0 358.1L1122.5 358.7L1123.1 360.1L1123.6 361.2L1124.2 362.6L1124.7 364.2L1125.3 366.0L1125.8 367.6L1126.4 369.2L1127.0 370.5L1127.6 372.1L1128.1 373.5L1128.7 374.1L1129.3 375.6L1129.9 377.2L1130.5 378.5L1131.1 380.1L1131.6 381.7L1132.2 383.0L1132.8 383.5L1133.5 385.3L1134.1 386.9L1134.7 388.9L1135.3 390.1L1135.9 391.8L1136.5 392.5L1137.1 393.9L1137.8 395.7L1138.4 396.2L1139.0 398.5L1139.6 400.0L1140.3 401.0L1140.9 402.2L1141.6 403.6L1142.2 405.1L1142.8 406.3L1143.5 407.4L1144.1 408.8L1144.8 409.9L1145.4 411.1L1146.1 413.0L1146.7 414.3L1147.4 416.0L1148.1 417.1L1148.7 418.7L1149.4 419.5L1150.0 421.4L1150.7 423.3L1151.4 423.7L1152.1 424.8L1152.7 426.2L1153.4 427.5L1154.1 429.0L1154.8 431.1L1155.4 433.0L1156.1 433.0L1156.8 434.6L1157.5 437.2L1158.2 438.5L1158.9 439.1L1159.5 440.0L1160.2 442.4L1160.9 443.8L1161.6 445.0L1162.3 446.5L1163.0 447.8L1163.7 449.4L1164.4 449.8L1165.1 451.5L1165.8 453.4L1166.5 454.4L1167.2 455.3L1167.9 456.7L1168.6 457.9L1169.3 460.1L1170.0 460.2L1170.7 461.9L1171.4 463.6L1172.1 465.5L1172.8 466.9L1173.5 467.9L1174.2 468.7L1175.0 470.4L1175.7 472.2L1176.4 472.5L1177.1 473.7L1177.8 475.0L1178.5 476.8L1179.2 478.4L1180.0 479.0L1180.7 481.2L1181.4 482.7L1182.1 483.6L1182.9 484.3L1183.6 485.7L1184.3 486.7L1185.0 488.7L1185.8 491.0L1186.5 492.2L1187.2 493.6L1187.9 494.4L1188.7 495.1L1189.4 497.6L1190.1 498.4L1190.9 499.2L1191.6 501.3L1192.4 502.5L1193.1 504.1L1193.8 505.1L1194.6 506.6L1195.3 507.9L1196.1 509.2L1196.8 510.1L1197.5 511.2L1198.3 511.9L1199.0 513.6L1199.8 515.9L1200.5 516.8L1201.3 517.7L1202.0 519.0L1202.8 520.7L1203.5 522.2L1204.3 522.9L1205.0 523.5L1205.8 524.8L1206.5 526.4L1207.3 528.0L1208.0 529.8L1208.8 531.6L1209.6 532.7L1210.3 533.8L1211.1 534.3L1211.8 536.7L1212.6 538.0L1213.4 539.5L1214.1 539.5L1214.9 541.4L1215.7 543.2L1216.4 544.5L1217.2 545.5L1218.0 546.5L1218.7 548.1L1219.5 549.4L1220.3 550.0L1221.1 552.3L1221.8 553.6L1222.6 554.7L1223.4 554.6L1224.2 555.9L1224.9 557.2L1225.7 558.5L1226.5 560.0L1227.3 562.5L1228.0 564.0L1228.8 565.1L1229.6 566.4L1230.4 567.2L1231.2 568.3L1232.0 570.1L1232.7 571.2L1233.5 572.8L1234.3 573.8L1235.1 575.5L1235.9 576.4L1236.7 577.9L1237.5 578.7L1238.3 580.4L1239.0 581.3L1239.8 582.3L1240.6 584.2L1241.4 585.0L1242.2 586.2L1243.0 587.2L1243.8 588.4L1244.6 589.7L1245.4 591.5L1246.2 593.3L1247.0 594.5L1247.8 595.8L1248.6 596.6L1249.4 598.4L1250.2 599.6L1251.0 600.6L1251.8 602.2L1252.6 603.2L1253.4 604.5L1254.2 606.1L1255.0 606.5L1255.8 608.0L1256.7 608.6L1257.5 609.8L1258.3 611.3L1259.1 612.8L1259.9 614.1L1260.7 615.7L1261.5 616.4L1262.3 618.1L1263.1 619.2L1264.0 620.9L1264.8 622.3L1265.6 623.0L1266.4 625.0L1267.2 625.0L1268.0 627.1L1268.9 628.3L1269.7 630.0L1270.5 630.0L1271.3 632.3L1272.1 633.6L1273.0 633.9L1273.8 635.0L1274.6 636.0L1275.4 637.2L1276.3 638.7L1277.1 640.3L1277.9 642.3L1278.7 642.8L1279.6 644.7L1280.4 645.7L1281.2 647.1L1282.1 648.3L1282.9 650.1L1283.7 650.8L1284.5 651.0L1285.4 652.3L1286.2 653.5L1287.0 656.3L1287.9 657.7L1288.7 657.9L1289.5 659.4L1290.4 660.7L1291.2 662.5L1292.1 663.7L1292.9 665.2L1293.7 665.9L1294.6 667.5L1295.4 668.6L1296.2 670.0L1297.1 671.2L1297.9 670.9L1298.8 672.3L1299.6 674.5L1300.5 676.1L1301.3 677.1L1302.1 678.4L1303.0 679.7L1303.8 680.4L1304.7 682.0L1305.5 683.4L1306.4 684.4L1307.2 685.9L1308.1 687.0L1308.9 688.6L1309.8 688.5L1310.6 689.5L1311.5 691.4L1312.3 692.0L1313.2 693.6L1314.0 694.5L1314.9 695.7L1315.7 697.7L1316.6 698.5L1317.4 700.4L1318.3 702.3L1319.1 702.8L1320.0 704.5L1320.8 705.7L1321.7 706.5L1322.5 707.9L1323.4 708.4L1324.3 709.7L1325.1 711.6L1326.0 713.4L1326.8 713.8L1327.7 715.0L1328.5 716.6L1329.4 718.2L1330.3 719.3L1331.1 720.5L1332.0 721.2L1332.8 723.2L1333.7 723.8L1334.6 724.9L1335.4 725.3L1336.3 727.0L1337.2 728.5L1338.0 729.7L1338.9 731.7L1339.8 732.8L1340.6 733.6L1341.5 734.8L1342.4 735.6L1343.2 737.4L1344.1 738.1L1345.0 739.6L1345.8 741.5L1346.7 741.6L1347.6 743.2L1348.4 744.0L1349.3 744.8L1350.2 746.2L1351.0 747.8L1351.9 748.9L1352.8 750.7L1353.6 751.4L1354.5 752.5L1355.4 753.8L1356.3 755.6L1357.1 756.3L1358.0 757.5L1358.9 759.2L1359.8 759.8L1360.6 761.5L1361.5 762.6L1362.4 764.3L1363.3 765.3L1364.2 766.2L1365.0 767.6L1365.9 768.3L1366.8 769.7L1367.7 770.3L1368.6 771.8L1369.5 773.6L1370.3 775.3L1371.2 775.9L1372.1 776.3L1373.0 777.5L1373.9 778.7L1374.8 779.9L1375.7 781.6L1376.6 783.1L1377.5 785.1L1378.4 786.4L1379.3 787.4L1380.2 788.4L1381.1 788.9L1382.0 791.2L1382.9 792.4L1383.8 793.2L1384.7 794.6L1385.6 794.6L1386.5 795.5L1387.4 796.6L1388.3 797.8L1389.2 799.8L1390.1 801.7L1391.0 802.6L1392.0 803.9L1392.9 804.3L1393.8 805.1L1394.7 806.1L1395.6 807.3L1396.6 809.7L1397.5 811.1L1398.4 812.2L1399.4 812.9L1400.3 813.2L1401.2 814.3L1402.2 815.5L1403.1 817.8L1404.0 819.2L1405.0 820.2L1405.9 821.1L1406.9 822.7L1407.8 823.4L1408.8 824.6L1409.7 824.8L1410.7 826.8L1411.6 827.3L1412.6 828.9L1413.5 831.0L1414.5 832.3L1415.5 832.1L1416.4 833.9L1417.4 835.5L1418.4 836.6L1419.3 837.4L1420.3 838.1L1421.3 839.7L1422.3 841.1L1423.3 841.9L1424.2 842.6L1425.2 844.1L1426.2 845.7L1427.2 846.5L1428.2 846.5L1429.2 847.6L1430.2 848.7L1431.2 849.8L1432.2 851.1L1433.2 853.6L1434.2 854.8L1435.2 855.0L1436.3 856.5L1437.3 857.4L1438.3 858.3L1439.3 858.7L1440.3 859.8L1441.4 860.9L1442.4 862.0L1443.4 863.2L1444.5 864.3L1445.5 866.9L1446.5 867.2L1447.6 867.5L1448.6 868.6L1449.7 869.6L1450.7 870.9L1451.8 873.0L1452.8 874.1L1453.9 875.3L1455.0 876.5L1456.0 877.8L1457.1 878.8L1458.2 879.3L1459.2 880.2L1460.3 881.6L1461.4 882.8L1462.5 883.2L1463.5 884.6L1464.6 885.2L1465.7 887.0L1466.8 887.5L1467.9 888.3L1469.0 888.8L1470.1 891.2L1471.2 891.6L1472.3 892.1L1473.4 892.9L1474.5 894.7L1475.6 896.4L1476.7 897.6L1477.8 898.1L1478.9 898.1L1480.0 899.2L1481.2 900.3L1482.3 901.4L1483.4 903.6L1484.5 903.5L1485.7 905.3L1486.8 906.4L1487.9 906.4L1489.1 907.0L1490.2 909.3L1491.3 908.9L1492.5 909.9L1493.6 910.9L1494.8 913.2L1495.9 914.2L1497.1 915.3L1498.2 915.9L1499.4 917.4L1500.6 918.1L1501.7 918.7L1502.9 919.7L1504.1 920.3L1505.2 921.3L1506.4 922.0L1507.6 922.4L1508.8 923.6L1509.9 925.8L1511.1 926.7L1512.3 926.9L1513.5 928.1L1514.7 929.4L1515.9 929.6L1517.1 930.4L1518.2 931.9L1519.4 932.4L1520.6 933.8L1521.8 934.8L1523.1 935.2L1524.3 936.3L1525.5 937.1L1526.7 938.6L1527.9 938.4L1529.1 940.2L1530.3 940.0L1531.5 940.6L1532.8 941.4L1534.0 942.4L1535.2 943.7L1536.5 944.1L1537.7 944.9L1538.9 945.7L1540.2 946.9L1541.4 948.2L1542.6 948.7L1543.9 949.1L1545.1 950.4L1546.4 950.8L1547.6 952.1L1548.9 954.1L1550.1 954.3L1551.4 955.4L1552.6 955.2L1553.9 957.1L1555.2 957.3L1556.4 958.3L1557.7 959.7L1559.0 960.6L1560.2 961.1L1561.5 961.0L1562.8 961.9L1564.1 962.8L1565.3 964.4L1566.6 964.2L1567.9 964.7L1569.2 965.1L1570.5 965.9L1571.8 966.6L1573.1 968.1L1574.4 969.6L1575.7 970.4L1577.0 970.7L1578.3 971.7L1579.6 972.6L1580.9 972.2L1582.2 973.2L1583.5 974.4L1584.8 974.8L1586.1 975.8L1587.4 976.8L1588.7 977.5L1590.1 978.3L1591.4 979.0L1592.7 978.2L1594.0 978.8L1595.4 979.5L1596.7 980.2L1598.0 980.8L1599.4 982.2L1600.7 983.8L1602.0 983.5L1603.4 984.1L1604.7 985.8L1606.1 986.1L1607.4 986.3L1608.8 987.0L1610.1 987.8L1611.5 988.8L1612.8 988.6L1614.2 989.9L1615.6 989.8L1616.9 991.1L1618.3 990.7L1619.6 992.1L1621.0 992.8L1622.4 993.7L1623.7 993.5L1625.1 993.3L1626.5 994.8L1627.9 995.7L1629.3 996.5L1630.6 996.7L1632.0 997.7L1633.4 997.6L1634.8 998.5L1636.2 999.2L1637.6 999.7L1639.0 1000.2L1640.3 1000.8L1641.7 1001.5L1643.1 1001.8L1644.5 1002.1L1645.9 1002.9L1647.3 1003.3L1648.7 1004.0L1650.1 1004.0L1651.6 1004.0L1653.0 1005.4L1654.4 1005.5L1655.8 1006.6L1657.2 1006.4L1658.6 1007.6L1660.0 1007.7L1661.4 1008.2L1662.9 1008.6L1664.3 1009.1L1665.7 1008.8L1667.1 1009.4L1668.6 1009.5L1670.0 1010.4L1671.4 1011.2L1672.8 1011.9L1674.3 1011.9L1675.7 1011.3L1677.1 1011.7L1678.6 1012.2L1680.0 1012.6L1681.5 1013.3L1682.9 1014.6L1684.3 1015.5L1685.8 1015.6L1687.2 1016.1L1688.7 1015.8L1690.1 1015.4L1691.6 1015.8L1693.0 1016.2L1694.5 1016.7L1695.9 1018.1L1697.4 1018.1L1698.8 1018.1L1700.3 1019.6L1701.7 1018.4L1703.2 1018.8L1704.6 1019.2L1706.1 1019.5L1707.6 1019.9L1709.0 1020.2L1710.5 1020.8L1712.0 1020.9L1713.4 1021.9L1714.9 1022.6L1716.4 1022.8L1717.8 1022.8L1719.3 1024.2L1720.8 1023.6L1722.2 1023.7L1723.7 1024.9L1725.2 1025.4L1726.7 1025.8L1728.1 1025.3L1729.6 1026.4L1731.1 1025.7L1732.6 1025.6L1734.1 1026.9L1735.5 1026.7L1737.0 1026.4L1738.5 1028.1L1740.0 1027.3L1741.5 1027.3L1742.9 1028.8L1744.4 1029.0L1745.9 1028.6L1747.4 1028.1L1748.9 1028.4L1750.4 1029.5L1751.9 1030.5L1753.4 1030.4L1754.9 1030.3L1756.3 1029.8L1757.8 1030.9L1759.3 1031.7L1760.8 1031.4L1762.3 1031.3L1763.8 1031.3L1765.3 1032.6L1766.8 1032.8L1768.3 1032.7L1769.8 1033.3L1771.3 1033.1L1772.8 1033.4L1774.3 1033.7L1775.8 1033.8L1777.3 1034.2L1778.8 1033.6L1780.3 1034.7L1781.8 1034.5L1783.3 1035.0L1784.8 1034.7L1786.3 1035.3L1787.8 1034.9L1789.3 1035.3L1790.8 1035.8L1792.3 1035.1L1793.8 1035.0L1795.3 1036.6L1796.8 1035.9L1798.4 1035.3L1799.9 1035.6L1801.4 1036.0L1802.9 1036.6L1804.4 1037.0L1805.9 1036.6L1807.4 1037.5L1808.9 1037.1L1810.4 1037.3L1811.9 1036.6L1813.4 1036.8L1814.9 1037.7L1816.5 1037.6L1818.0 1038.8L1819.5 1038.7L1821.0 1038.0L1822.5 1038.1L1824.0 1038.1L1825.5 1038.8L1827.0 1039.1L1828.5 1039.6L1830.1 1039.8L1831.6 1039.3L1833.1 1039.2L1834.6 1039.1L1836.1 1039.9L1837.6 1040.1L1839.1 1039.5L1840.6 1038.9L1842.1 1039.3L1843.7 1039.1L1845.2 1039.3L1846.7 1039.7L1848.2 1039.7L1849.7 1039.8L1851.2 1040.1L1852.7 1041.0L1854.2 1041.3L1855.7 1040.8L1857.3 1040.9L1858.8 1041.5L1860.3 1041.7L1861.8 1041.8L1863.3 1041.3L1864.8 1040.6L1866.3 1041.7L1867.8 1041.9L1869.3 1041.7L1870.8 1041.5L1872.3 1041.0L1873.9 1041.5L1875.4 1041.0L1876.9 1041.5L1878.4 1041.8L1879.9 1041.6L1881.4 1042.4L1882.9 1041.8L1884.4 1042.2L1885.9 1042.4L1887.4 1042.3L1888.9 1041.7L1890.4 1042.5L1891.9 1042.8L1893.4 1043.0L1894.9 1042.3L1896.4 1042.8L1897.9 1042.9L1899.4 1043.1L1900.9 1043.0L1902.4 1043.1L1903.9 1042.8L1905.4 1042.9L1906.9 1042.8L1908.4 1042.5L1909.9 1042.0L1911.4 1041.7L1912.9 1042.2L1914.4 1042.8L1915.9 1043.3L1917.4 1042.1L1918.9 1041.7L1920.4 1041.7L1921.9 1041.9L1923.4 1042.5L1924.9 1041.8L1926.3 1042.2L1927.8 1043.3L1929.3 1043.1L1930.8 1042.8L1932.3 1043.1L1933.8 1042.4L1935.3 1042.9L1936.8 1042.9L1938.2 1043.0L1939.7 1043.0L1941.2 1043.1L1942.7 1043.4L1944.2 1043.1L1945.6 1043.1L1947.1 1043.4L1948.6 1043.3L1950.1 1043.4L1951.5 1043.3L1953.0 1043.4L1954.5 1043.4L1956.0 1042.0L1957.4 1042.2L1958.9 1043.3L1960.4 1042.9L1961.8 1041.6L1963.3 1041.6L1964.8 1041.6L1966.2 1042.7L1967.7 1042.2L1969.2 1041.6L1970.6 1041.5L1972.1 1042.3L1973.5 1042.7L1975.0 1042.2L1976.5 1042.3" stroke="#ffb100" stroke-width="9.6" fill="none" stroke-linejoin="round" stroke-linecap="butt"/>
<path d="M181.5 149.8L181.7 151.4L181.8 152.9L181.9 154.4L182.0 155.9L182.2 157.4L182.3 158.9L182.4 160.4L182.4 161.9L182.5 163.5L182.6 165.0L182.6 166.5L182.7 168.0L182.7 169.5L182.8 171.0L182.8 172.5L182.8 174.0L182.8 175.5L182.9 177.0L182.9 178.5L182.9 180.1L182.9 181.6L182.9 183.1L182.9 184.6L182.8 186.1L182.8 187.6L182.8 189.1L182.8 190.6L182.8 192.1L182.7 193.6L182.7 195.1L182.7 196.6L182.7 198.1L182.6 199.7L182.6 201.2L182.6 202.7L182.5 204.2L182.5 205.7L182.5 207.2L182.5 208.7L182.4 210.2L182.4 211.7L182.4 213.2L182.4 214.7L182.3 216.2L182.3 217.7L182.3 219.2L182.3 220.7L182.3 222.2L182.3 223.7L182.3 225.2L182.3 226.7L182.3 228.2L182.3 229.7L182.4 231.2L182.4 232.7L182.4 234.3L182.5 235.8L182.5 237.3L182.6 238.8L182.7 240.3L182.7 241.8L182.8 243.3L182.9 244.8L183.0 246.3L183.1 247.8L183.2 249.3L183.4 250.8L183.5 252.3L183.7 253.8L183.8 255.3L184.0 256.8L184.2 258.3L184.4 259.8L184.6 261.3L184.8 262.8L185.0 264.3L185.2 265.8L185.4 267.3L185.7 268.8L185.9 270.3L186.1 271.8L186.3 273.3L186.5 274.8L186.7 276.3L186.9 277.8L187.1 279.3L187.2 280.8L187.4 282.3L187.6 283.8L187.7 285.3L187.8 286.8L188.0 288.3L188.1 289.8L188.2 291.3L188.3 292.8L188.4 294.3L188.5 295.8L188.6 297.3L188.7 298.8L188.7 300.3L188.8 301.7L188.9 303.2L189.0 304.7L189.0 306.2L189.1 307.7L189.2 309.2L189.2 310.7L189.3 312.2L189.4 313.7L189.4 315.2L189.5 316.7L189.6 318.2L189.7 319.7L189.7 321.2L189.8 322.7L189.9 324.2L190.0 325.7L190.0 327.2L190.1 328.7L190.2 330.2L190.3 331.7L190.3 333.2L190.4 334.7L190.5 336.2L190.6 337.7L190.7 339.2L190.8 340.7L190.8 342.2L190.9 343.7L191.0 345.2L191.1 346.7L191.2 348.2L191.3 349.7L191.3 351.2L191.4 352.6L191.5 354.1L191.6 355.6L191.7 357.1L191.8 358.6L191.9 360.1L192.0 361.6L192.0 363.1L192.1 364.6L192.2 366.1L192.3 367.6L192.4 369.1L192.5 370.6L192.6 372.1L192.6 373.6L192.7 375.1L192.8 376.6L192.9 378.1L193.0 379.6L193.1 381.1L193.1 382.6L193.2 384.1L193.3 385.6L193.4 387.1L193.5 388.6L193.6 390.1L193.7 391.6L193.7 393.0L193.8 394.5L193.9 396.0L194.0 397.5L194.1 399.0L194.2 400.5L194.2 402.0L194.3 403.5L194.4 405.0L194.5 406.5L194.6 408.0L194.7 409.5L194.8 411.0L194.8 412.5L194.9 414.0L195.0 415.5L195.1 417.0L195.2 418.5L195.3 420.0L195.3 421.5L195.4 423.0L195.5 424.5L195.6 426.0L195.7 427.5L195.8 429.0L195.8 430.5L195.9 432.0L196.0 433.5L196.1 435.0L196.2 436.5L196.3 438.0L196.3 439.5L196.4 441.0L196.5 442.5L196.6 443.9L196.7 445.4L196.8 446.9L196.8 448.4L196.9 449.9L197.0 451.4L197.1 452.9L197.2 454.4L197.3 455.9L197.4 457.4L197.4 458.9L197.5 460.4L197.6 461.9L197.7 463.4L197.8 464.9L197.9 466.4L197.9 467.9L198.0 469.4L198.1 470.9L198.2 472.4L198.3 473.9L198.4 475.4L198.5 476.9L198.5 478.4L198.6 479.9L198.7 481.4L198.8 482.9L198.9 484.4L199.0 485.9L199.0 487.4L199.1 488.9L199.2 490.4L199.3 491.9L199.4 493.4L199.5 494.9L199.6 496.4L199.6 497.9L199.7 499.4L199.8 500.9L199.9 502.4L200.0 503.9L200.1 505.4L200.2 507.0L200.3 508.5L200.3 510.0L200.4 511.5L200.5 513.0L200.6 514.5L200.7 516.0L200.8 517.5L200.9 519.0L201.0 520.5L201.0 522.0L201.1 523.5L201.2 525.0L201.3 526.5L201.4 528.0L201.5 529.5L201.6 531.0L201.7 532.5L201.7 534.0L201.8 535.5L201.9 537.0L202.0 538.5L202.1 540.0L202.2 541.5L202.3 543.1L202.4 544.6L202.5 546.1L202.6 547.6L202.6 549.1L202.7 550.6L202.8 552.1L202.9 553.6L203.0 555.1L203.1 556.6L203.2 558.1L203.3 559.6L203.4 561.1L203.5 562.7L203.6 564.2L203.7 565.7L203.7 567.2L203.8 568.7L203.9 570.2L204.0 571.7L204.1 573.2L204.2 574.7L204.3 576.2L204.4 577.8L204.5 579.3L204.6 580.8L204.7 582.3L204.8 583.8L204.9 585.3L205.0 586.8L205.1 588.3L205.2 589.8L205.3 591.4L205.4 592.9L205.5 594.4L205.6 595.9L205.6 597.4L205.7 598.9L205.8 600.4L205.9 601.9L206.0 603.5L206.1 605.0L206.2 606.5L206.3 608.0L206.4 609.5L206.5 611.0L206.6 612.5L206.7 614.1L206.8 615.6L206.9 617.1L207.0 618.6L207.1 620.1L207.2 621.6L207.3 623.1L207.4 624.7L207.5 626.2L207.6 627.7L207.7 629.2L207.9 630.7L208.0 632.2L208.1 633.7L208.2 635.3L208.3 636.8L208.4 638.3L208.5 639.8L208.6 641.3L208.7 642.8L208.8 644.3L208.9 645.8L209.0 647.4L209.1 648.9L209.2 650.4L209.3 651.9L209.4 653.4L209.5 654.9L209.6 656.4L209.7 657.9L209.9 659.5L210.0 661.0L210.1 662.5L210.2 664.0L210.3 665.5L210.4 667.0L210.5 668.5L210.6 670.0L210.7 671.5L210.8 673.0L210.9 674.5L211.1 676.0L211.2 677.6L211.3 679.1L211.4 680.6L211.5 682.1L211.6 683.6L211.7 685.1L211.8 686.6L212.0 688.1L212.1 689.6L212.2 691.1L212.3 692.6L212.4 694.1L212.5 695.6L212.6 697.1L212.8 698.6L212.9 700.1L213.0 701.6L213.1 703.1L213.2 704.6L213.3 706.1L213.5 707.6L213.6 709.1L213.7 710.6L213.8 712.1L213.9 713.6L214.0 715.1L214.2 716.6L214.3 718.0L214.4 719.5L214.5 721.0L214.6 722.5L214.8 724.0L214.9 725.5L215.0 727.0L215.1 728.5L215.3 730.0L215.4 731.4L215.5 732.9L215.6 734.4L215.7 735.9L215.9 737.4L216.0 738.8L216.1 740.3L216.2 741.8L216.4 743.3L216.5 744.8L216.6 746.2L216.7 747.7L216.9 749.2L217.0 750.7L217.1 752.1L217.3 753.6L217.4 755.1L217.5 756.6L217.7 758.0L217.8 759.5L218.0 761.0L218.1 762.4L218.3 763.9L218.4 765.4L218.6 766.8L218.8 768.3L219.0 769.7L219.2 771.2L219.4 772.7L219.7 774.1L219.9 775.6L220.1 777.0L220.4 778.5L220.7 779.9L221.0 781.4L221.3 782.8L221.6 784.3L221.9 785.7L222.3 787.2L222.6 788.6L223.0 790.1L223.4 791.5L223.9 792.9L224.3 794.2L224.8 795.7L225.3 797.0L225.8 798.4L226.3 799.7L226.8 801.2L227.4 802.4L228.0 803.5L228.6 804.8L229.3 806.5L230.0 807.9L230.7 808.8L231.4 810.1L232.1 811.3L232.9 812.4L233.7 813.4L234.6 814.5L235.4 815.9L236.3 817.4L237.3 818.3L238.2 819.8L239.2 820.8L240.2 821.7L241.3 822.1L242.4 823.1L243.5 824.8L244.7 825.1L245.9 825.8L247.1 826.7L248.3 827.4L249.7 828.2L251.0 829.6L252.4 830.2L253.8 830.9L255.2 831.5L256.7 832.2L258.2 832.0L259.7 832.0L261.2 832.8L262.7 833.8L264.3 833.4L265.8 833.2L267.4 833.8L269.0 833.5L270.6 833.6L272.1 833.9L273.7 834.6L275.3 833.4L275.0 833.0L276.5 832.9L278.0 833.2L279.5 832.7L281.0 832.6L282.5 832.6L284.0 832.5L285.5 832.8L287.0 833.2L288.5 833.5L290.0 833.2L291.5 832.5L293.0 832.6L294.5 833.0L296.0 833.0L297.5 832.7L299.0 832.6L300.5 832.8L302.0 832.9L303.5 832.6L305.0 832.7L306.5 832.7L308.0 832.6L309.5 832.9L311.0 833.1L312.5 833.1L314.0 832.9L315.5 833.0L317.0 832.8L318.5 833.0L320.0 832.6L321.5 833.1L323.0 832.6L324.5 833.4L326.0 833.0L327.5 833.0L329.0 833.0L330.5 833.8L332.0 833.8L333.5 833.0L335.0 833.3L336.5 833.3L338.0 832.6L339.5 832.6L341.0 833.1L342.5 833.8L344.0 833.1L345.5 832.7L347.0 833.4L348.5 833.5L350.0 833.9L351.5 833.8L353.0 832.8L354.5 832.8L356.0 832.6L357.5 832.5L359.0 832.9L360.5 833.5L362.0 833.9L363.5 833.9L365.0 833.9L366.5 832.7L368.0 832.7L369.5 833.9L371.0 833.9L372.5 833.8L374.0 833.5L375.5 832.8L377.0 832.7L378.5 833.2L380.0 832.6L381.5 832.8L383.0 832.5L384.5 832.6L386.0 832.6L387.5 832.9L389.0 832.5L390.5 832.5L392.0 832.8L393.5 833.4L395.0 832.8L396.5 832.6L398.0 832.9L399.5 832.7L401.0 833.2L402.5 833.3L404.0 833.9L405.5 833.5L407.0 833.4L408.5 833.5L410.0 833.4L411.5 833.9L413.0 832.5L414.5 832.5L416.0 833.5L417.5 833.9L419.0 833.0L420.5 832.8L422.0 832.6L423.5 832.8L425.0 833.9L426.5 833.9L428.0 833.9L429.5 833.9L431.0 833.9L432.5 833.2L434.0 833.4L435.5 833.0L437.0 833.5L438.5 832.8L440.0 833.0L441.5 833.3L443.0 832.9L444.5 833.4L446.0 833.9L447.5 833.2L449.0 832.7L450.5 832.8L452.0 832.6L453.5 832.7L455.0 832.6L456.5 832.6L458.0 832.7L459.5 832.9L461.0 833.7L462.5 833.9L464.0 833.9L465.5 833.6L467.0 833.2L468.5 833.1L470.0 833.2L471.5 833.3L473.0 833.4L474.5 832.6L476.0 833.0L477.5 832.9L479.0 833.2L480.5 832.7L482.0 832.8L483.5 832.6L485.0 832.8L486.5 832.9L488.0 833.3L489.5 833.7L491.0 833.4L492.5 833.4L494.0 833.0L495.5 832.6L497.0 832.5L498.5 833.0L500.0 832.7L501.5 832.7L503.0 832.8L504.5 833.3L506.0 833.1L507.5 832.9L509.0 832.6L510.5 833.1L512.0 833.7L513.5 833.6L515.0 833.9L516.5 833.7L518.0 833.8L519.5 833.9L521.0 833.9L522.5 833.9L524.0 833.4L525.5 833.7L527.0 833.0L528.5 832.9L530.0 832.7L531.5 832.8L533.0 833.5L534.5 833.6L536.0 833.5L537.5 833.0L539.0 833.1L540.5 833.3L542.0 833.6L543.5 833.3L545.0 833.3L546.5 832.5L548.0 832.9L549.5 833.1L551.0 833.9L552.5 833.4L554.0 833.2L555.5 833.3L557.0 832.6L558.5 832.9L560.0 832.5L561.5 832.8L563.0 832.6L564.5 833.0L566.0 833.0L567.5 833.4L569.0 832.7L570.5 832.8L572.0 832.6L573.5 832.7L575.0 832.9L576.5 832.7L578.0 833.0L579.5 833.0L581.0 832.8L582.5 833.1L584.0 833.3L585.5 833.9L587.0 833.4L588.5 832.9L590.0 832.5L591.5 833.1L593.0 833.2L594.5 832.8L596.0 833.2L597.5 833.6L599.0 833.9L600.5 833.7L602.0 833.4L603.5 833.3L605.0 833.1L606.5 832.9L608.0 833.7L609.5 833.2L611.0 833.2L612.5 832.8L614.0 832.9L615.5 833.2L617.0 833.7L618.5 833.9L620.0 833.4L621.5 833.9L623.0 833.7L624.5 833.3L626.0 833.9L627.5 833.0L629.0 832.9L630.5 833.1L632.0 833.6L633.5 833.4L635.0 832.6L636.5 833.1L638.0 833.1L639.5 833.6L641.0 833.9L642.5 833.6L644.0 833.8L645.5 833.7L647.0 833.9L648.5 833.9L650.0 833.9L651.5 833.9L653.0 833.9L654.5 833.9L656.0 833.9L657.5 833.2L659.0 832.6L660.5 832.6L662.0 833.0L663.5 832.9L665.0 832.7L666.5 833.5L668.0 833.9L669.5 833.7L671.0 833.6L672.5 832.6L674.0 833.6L675.5 832.6L677.0 832.9L678.5 832.8L680.0 832.6L681.5 833.6L683.0 833.9L684.5 833.9L686.0 833.6L687.5 833.6L689.0 833.9L690.5 833.3L692.0 833.7L693.5 833.4L695.0 832.6L696.5 832.9L698.0 833.1L699.5 833.4L701.0 833.4L702.5 833.2L704.0 833.9L705.5 833.9L707.0 833.9L708.5 833.4L710.0 832.6L711.5 832.6L713.0 832.5L714.5 832.6L716.0 833.1L717.5 833.6L719.0 833.5L720.5 832.9L722.0 833.1L723.5 833.0L725.0 832.7L726.5 833.2L728.0 833.9L729.5 833.9L731.0 833.7L732.5 833.1L734.0 832.6L735.5 832.6L737.0 833.1L738.5 832.9L740.0 832.9L741.5 833.1L743.0 833.9L744.5 832.8L746.0 833.0L747.5 832.9L749.0 833.9L750.5 833.9L752.0 833.2L753.5 832.6L755.0 833.0L756.5 833.5L758.0 833.9L759.5 833.0L761.0 832.6L762.5 832.6L764.0 833.2L765.5 832.6L767.0 832.7L768.5 833.0L770.0 833.3L771.5 833.7L773.0 833.8L774.5 833.3L776.0 832.6L777.5 833.1L779.0 832.8L780.5 833.3L782.0 833.9L783.5 833.9L785.0 833.3L786.5 833.1L788.0 832.8L789.5 832.6L791.0 832.6L792.5 833.0L794.0 832.8L795.5 832.9L797.0 833.4L798.5 833.4L800.0 833.7L801.5 833.9L803.0 833.4L804.5 832.8L806.0 833.4L807.5 833.9L809.0 833.9L810.5 833.9L812.0 833.9L813.5 833.9L815.0 833.7L816.5 833.7L818.0 833.2L819.5 832.6L821.0 833.4L822.5 833.9L824.0 833.9L825.5 832.8L827.0 832.9L828.5 833.0L830.0 832.8L831.5 833.9L833.0 833.7L834.5 832.9L836.0 833.0L837.5 832.8L839.0 832.9L840.5 833.7L842.0 833.6L843.5 833.3L845.0 832.8L846.5 832.9L848.0 833.0L849.5 833.9L851.0 833.9L852.5 833.9L854.0 833.9L855.5 833.0L857.0 833.1L858.5 833.0L860.0 833.3L861.5 833.5L863.0 833.2L864.5 832.8L866.0 833.4L867.5 833.9L869.0 832.9L870.5 833.0L872.0 833.3L873.5 833.7L875.0 833.3L876.5 833.2L878.0 832.7L879.5 833.1L881.0 832.8L882.5 833.4L884.0 833.9L885.5 833.9L887.0 833.5L888.5 833.2L890.0 833.1L891.5 833.0L893.0 833.7L894.5 833.5L896.0 833.6L897.5 832.8L899.0 832.6L900.5 833.2L902.0 833.7L903.5 833.7L905.0 833.5L906.5 833.0L908.0 833.1L909.5 833.3L911.0 832.6L912.5 832.8L914.0 833.9L915.5 833.9L917.0 833.9L918.5 833.9L920.0 833.9L921.5 833.5L923.0 832.8L924.5 833.0L926.0 833.8L927.5 833.5L929.0 832.8L930.5 832.5L932.0 832.8L933.5 832.5L935.0 832.7L936.5 833.3L938.0 832.9L939.5 833.2L941.0 833.7L942.5 833.5L944.0 832.9L945.5 832.8L947.0 832.9L948.5 833.6L950.0 833.5L951.5 832.6L953.0 832.5L954.5 833.5L956.0 833.1L957.5 833.1L959.0 832.5L960.5 832.9L962.0 832.8L963.5 832.9L965.0 833.8L966.5 833.9L968.0 833.6L969.5 833.5L971.0 833.6L972.5 833.2L974.0 832.8L975.5 832.6L977.0 832.6L978.5 832.6L980.0 832.7L981.5 833.3L983.0 833.6L984.5 833.1L986.0 832.7L987.5 832.9L989.0 833.5L990.5 833.5L992.0 832.7L993.5 832.5L995.0 833.1L996.5 833.9L998.0 833.6L999.5 833.5L1001.0 832.8L1002.5 832.8L1004.0 832.5L1005.5 832.7L1007.0 833.4L1008.5 832.9L1010.0 832.8L1011.5 832.6L1013.0 832.8L1014.5 832.6L1016.0 832.6L1017.5 832.5L1019.0 832.6L1020.5 832.6L1022.0 832.8L1023.5 833.2L1025.0 833.9L1026.5 833.7L1028.0 833.4L1029.5 832.6L1031.0 832.6L1032.5 833.1L1034.0 833.4L1035.5 832.6L1037.0 833.4L1038.5 832.8L1040.0 833.6L1041.5 832.9L1043.0 833.9L1044.5 833.4L1046.0 832.8L1047.5 832.7L1049.0 833.7L1050.5 833.6L1052.0 832.8L1053.5 833.2L1055.0 833.0L1056.5 833.1L1058.0 833.9L1059.5 833.0L1061.0 833.0L1062.5 832.9L1064.0 832.6L1065.5 832.9L1067.0 832.6L1068.5 833.0L1070.0 833.5" stroke="#fa5005" stroke-width="9.8" fill="none" stroke-linejoin="round" stroke-linecap="butt"/>
<path d="M181.5 149.8L181.7 151.4L181.8 152.9L181.9 154.4L182.0 155.9L182.2 157.4L182.3 158.9L182.4 160.4L182.4 161.9L182.5 163.5L182.6 165.0L182.6 166.5L182.7 168.0L182.7 169.5L182.8 171.0L182.8 172.5L182.8 174.0L182.8 175.5L182.9 177.0L182.9 178.5L182.9 180.1L182.9 181.6L182.9 183.1L182.9 184.6L182.8 186.1L182.8 187.6L182.8 189.1L182.8 190.6L182.8 192.1L182.7 193.6L182.7 195.1L182.7 196.6L182.7 198.1L182.6 199.7L182.6 201.2L182.6 202.7L182.5 204.2L182.5 205.7L182.5 207.2L182.5 208.7L182.4 210.2L182.4 211.7L182.4 213.2L182.4 214.7L182.3 216.2L182.3 217.7L182.3 219.2L182.3 220.7L182.3 222.2L182.3 223.7L182.3 225.2L182.3 226.7L182.3 228.2L182.3 229.7L182.4 231.2L182.4 232.7L182.4 234.3L182.5 235.8L182.5 237.3L182.6 238.8L182.7 240.3L182.7 241.8L182.8 243.3L182.9 244.8L183.0 246.3L183.1 247.8L183.2 249.3L183.4 250.8L183.5 252.3L183.7 253.8L183.8 255.3L184.0 256.8L184.2 258.3L184.4 259.8L184.6 261.3L184.8 262.8L185.0 264.3L185.2 265.8L185.4 267.3L185.7 268.8L185.9 270.3L186.1 271.8L186.3 273.3L186.5 274.8L186.7 276.3L186.9 277.8L187.1 279.3L187.2 280.8L187.4 282.3L187.6 283.8L187.7 285.3L187.8 286.8L188.0 288.3L188.1 289.8L188.2 291.3L188.3 292.8L188.4 294.3L188.5 295.8L188.6 297.3L188.7 298.8L188.7 300.3L188.8 301.7L188.9 303.2L189.0 304.7L189.0 306.2L189.1 307.7L189.2 309.2L189.2 310.7L189.3 312.2L189.4 313.7L189.4 315.2L189.5 316.7L189.6 318.2L189.7 319.7L189.7 321.2L189.8 322.7L189.9 324.2L190.0 325.7L190.0 327.2L190.1 328.7L190.2 330.2L190.3 331.7L190.3 333.2L190.4 334.7L190.5 336.2L190.6 337.7L190.7 339.2L190.8 340.7L190.8 342.2L190.9 343.7L191.0 345.2L191.1 346.7L191.2 348.2L191.3 349.7L191.3 351.2L191.4 352.6L191.5 354.1L191.6 355.6L191.7 357.1L191.8 358.6L191.9 360.1L192.0 361.6L192.0 363.1L192.1 364.6L192.2 366.1L192.3 367.6L192.4 369.1L192.5 370.6L192.6 372.1L192.6 373.6L192.7 375.1L192.8 376.6L192.9 378.1L193.0 379.6L193.1 381.1L193.1 382.6L193.2 384.1L193.3 385.6L193.4 387.1L193.5 388.6L193.6 390.1L193.7 391.6L193.7 393.0L193.8 394.5L193.9 396.0L194.0 397.5L194.1 399.0L194.2 400.5L194.2 402.0L194.3 403.5L194.4 405.0L194.5 406.5L194.6 408.0L194.7 409.5L194.8 411.0L194.8 412.5L194.9 414.0L195.0 415.5L195.1 417.0L195.2 418.5L195.3 420.0L195.3 421.5L195.4 423.0L195.5 424.5L195.6 426.0L195.7 427.5L195.8 429.0L195.8 430.5L195.9 432.0L196.0 433.5L196.1 435.0L196.2 436.5L196.3 438.0L196.3 439.5L196.4 441.0L196.5 442.5L196.6 443.9L196.7 445.4L196.8 446.9L196.8 448.4L196.9 449.9L197.0 451.4L197.1 452.9L197.2 454.4L197.3 455.9L197.4 457.4L197.4 458.9L197.5 460.4L197.6 461.9L197.7 463.4L197.8 464.9L197.9 466.4L197.9 467.9L198.0 469.4L198.1 470.9L198.2 472.4L198.3 473.9L198.4 475.4L198.5 476.9L198.5 478.4L198.6 479.9L198.7 481.4L198.8 482.9L198.9 484.4L199.0 485.9L199.0 487.4L199.1 488.9L199.2 490.4L199.3 491.9L199.4 493.4L199.5 494.9L199.6 496.4L199.6 497.9L199.7 499.4L199.8 500.9L199.9 502.4L200.0 503.9L200.1 505.4L200.2 507.0L200.3 508.5L200.3 510.0L200.4 511.5L200.5 513.0L200.6 514.5L200.7 516.0L200.8 517.5L200.9 519.0L201.0 520.5L201.0 522.0L201.1 523.5L201.2 525.0L201.3 526.5L201.4 528.0L201.5 529.5L201.6 531.0L201.7 532.5L201.7 534.0L201.8 535.5L201.9 537.0L202.0 538.5L202.1 540.0L202.2 541.5L202.3 543.1L202.4 544.6L202.5 546.1L202.6 547.6L202.6 549.1L202.7 550.6L202.8 552.1L202.9 553.6L203.0 555.1L203.1 556.6L203.2 558.1L203.3 559.6L203.4 561.1L203.5 562.7L203.6 564.2L203.7 565.7L203.7 567.2L203.8 568.7L203.9 570.2L204.0 571.7L204.1 573.2L204.2 574.7L204.3 576.2L204.4 577.8L204.5 579.3L204.6 580.8L204.7 582.3L204.8 583.8L204.9 585.3L205.0 586.8L205.1 588.3L205.2 589.8L205.3 591.4L205.4 592.9L205.5 594.4L205.6 595.9L205.6 597.4L205.7 598.9L205.8 600.4L205.9 601.9L206.0 603.5L206.1 605.0L206.2 606.5L206.3 608.0L206.4 609.5L206.5 611.0L206.6 612.5L206.7 614.1L206.8 615.6L206.9 617.1L207.0 618.6L207.1 620.1L207.2 621.6L207.3 623.1L207.4 624.7L207.5 626.2L207.6 627.7L207.7 629.2L207.9 630.7L208.0 632.2L208.1 633.7L208.2 635.3L208.3 636.8L208.4 638.3L208.5 639.8L208.6 641.3L208.7 642.8L208.8 644.3L208.9 645.8L209.0 647.4L209.1 648.9L209.2 650.4L209.3 651.9L209.4 653.4L209.5 654.9L209.6 656.4L209.7 657.9L209.9 659.5L210.0 661.0L210.1 662.5L210.2 664.0L210.3 665.5L210.4 667.0L210.5 668.5L210.6 670.0L210.7 671.5L210.8 673.0L210.9 674.5L211.1 676.0L211.2 677.6L211.3 679.1L211.4 680.6L211.5 682.1L211.6 683.6L211.7 685.1L211.8 686.6L212.0 688.1L212.1 689.6L212.2 691.1L212.3 692.6L212.4 694.1L212.5 695.6L212.6 697.1L212.8 698.6L212.9 700.1L213.0 701.6L213.1 703.1L213.2 704.6L213.3 706.1L213.5 707.6L213.6 709.1L213.7 710.6L213.8 712.1L213.9 713.6L214.0 715.1L214.2 716.6L214.3 718.0L214.4 719.5L214.5 721.0L214.6 722.5L214.8 724.0L214.9 725.5L215.0 727.0L215.1 728.5L215.3 730.0L215.4 731.4L215.5 732.9L215.6 734.4L215.7 735.9L215.9 737.4L216.0 738.8L216.1 740.3L216.2 741.8L216.4 743.3L216.5 744.8L216.6 746.2L216.7 747.7L216.9 749.2L217.0 750.7L217.1 752.1L217.3 753.6L217.4 755.1L217.5 756.6L217.7 758.0L217.8 759.5L218.0 761.0L218.1 762.4L218.3 763.9L218.4 765.4L218.6 766.8L218.8 768.3L219.0 769.7L219.2 771.2L219.4 772.7L219.7 774.1L219.9 775.6L220.1 777.0L220.4 778.5L220.7 779.9L221.0 781.4L221.3 782.8L221.6 784.3L221.9 785.7L222.3 787.2L222.6 788.6L223.0 790.1L223.4 791.6L223.9 793.1L224.3 794.5L224.8 796.0L225.3 797.5L225.8 798.9L226.3 800.4L226.8 801.8L227.4 803.3L228.0 805.1L228.6 806.4L229.3 807.8L230.0 809.2L230.7 810.9L231.4 812.3L232.1 813.7L232.9 814.4L233.7 815.8L234.6 817.6L235.4 818.6L236.3 819.2L237.3 820.4L238.2 822.0L239.2 823.1L240.2 823.8L241.3 825.0L242.4 826.4L243.5 827.9L244.7 828.0L245.9 829.9L247.1 830.3L248.3 830.8L249.7 831.3L251.0 831.9L252.4 832.8L253.8 833.5L255.2 835.1L256.7 834.9L258.2 835.6L259.7 835.3L261.2 835.8L262.7 836.8L264.3 837.2L265.8 837.5L267.4 837.4L269.0 837.4L270.6 836.9L272.1 837.0L273.7 837.5L275.3 837.5L275.0 837.3L276.5 836.7L278.0 837.1L279.5 837.3L281.0 837.4L282.5 837.3L284.0 836.8L285.5 836.8L287.0 837.2L288.5 837.5L290.0 836.7L291.5 836.8L293.0 836.9L294.5 836.3L296.0 836.3L297.5 836.2L299.0 836.6L300.5 837.4L302.0 836.8L303.5 836.6L305.0 837.3L306.5 837.5L308.0 836.3L309.5 836.4L311.0 836.7L312.5 836.7L314.0 836.9L315.5 837.4L317.0 837.4L318.5 836.5L320.0 836.3L321.5 836.1L323.0 837.2L324.5 837.0L326.0 836.1L327.5 836.2L329.0 837.5L330.5 836.4L332.0 836.8L333.5 836.8L335.0 836.7L336.5 837.2L338.0 836.3L339.5 836.1L341.0 836.1L342.5 837.1L344.0 837.1L345.5 836.8L347.0 836.5L348.5 837.2L350.0 837.3L351.5 836.3L353.0 837.1L354.5 836.6L356.0 837.0L357.5 836.3L359.0 836.7L360.5 836.5L362.0 836.2L363.5 836.5L365.0 837.3L366.5 837.3L368.0 836.5L369.5 836.6L371.0 836.1L372.5 836.1L374.0 836.1L375.5 836.1L377.0 836.1L378.5 836.5L380.0 836.4L381.5 837.0L383.0 837.2L384.5 836.8L386.0 836.7L387.5 836.1L389.0 836.1L390.5 836.7L392.0 837.5L393.5 836.5L395.0 837.1L396.5 836.8L398.0 836.4L399.5 836.5L401.0 836.3L402.5 837.1L404.0 837.1L405.5 837.2L407.0 837.1L408.5 837.4L410.0 837.4L411.5 837.5L413.0 836.7L414.5 837.5L416.0 836.8L417.5 837.3L419.0 836.9L420.5 837.2L422.0 837.4L423.5 837.2L425.0 837.4L426.5 836.2L428.0 836.1L429.5 836.4L431.0 837.0L432.5 837.3L434.0 836.2L435.5 836.1L437.0 836.3L438.5 836.2L440.0 837.0L441.5 836.6L443.0 837.1L444.5 837.1L446.0 837.5L447.5 836.5L449.0 836.9L450.5 836.1L452.0 836.1L453.5 836.3L455.0 836.1L456.5 836.3L458.0 836.7L459.5 837.0L461.0 837.2L462.5 836.9L464.0 836.7L465.5 836.4L467.0 837.4L468.5 837.0L470.0 836.7L471.5 837.3L473.0 836.5L474.5 836.3L476.0 836.1L477.5 836.5L479.0 837.0L480.5 836.3L482.0 836.4L483.5 836.9L485.0 837.4L486.5 836.2L488.0 836.6L489.5 836.6L491.0 836.8L492.5 837.0L494.0 837.0L495.5 837.3L497.0 837.4L498.5 836.6L500.0 837.0L501.5 836.8L503.0 837.1L504.5 837.3L506.0 837.3L507.5 836.6L509.0 836.7L510.5 837.1L512.0 836.9L513.5 836.1L515.0 836.1L516.5 836.1L518.0 837.1L519.5 837.1L521.0 836.8L522.5 837.1L524.0 836.4L525.5 837.2L527.0 837.4L528.5 836.2L530.0 837.1L531.5 836.8L533.0 836.4L534.5 837.4L536.0 837.4L537.5 836.5L539.0 836.1L540.5 836.2L542.0 837.2L543.5 837.5L545.0 837.4L546.5 837.3L548.0 836.4L549.5 837.3L551.0 836.8L552.5 837.2L554.0 836.9L555.5 837.5L557.0 837.1L558.5 836.8L560.0 837.3L561.5 837.3L563.0 836.6L564.5 836.1L566.0 836.3L567.5 836.2L569.0 837.3L570.5 837.3L572.0 836.9L573.5 836.1L575.0 836.8L576.5 837.1L578.0 836.3L579.5 836.1L581.0 836.2L582.5 836.9L584.0 837.3L585.5 837.0L587.0 837.2L588.5 837.1L590.0 836.1L591.5 836.4L593.0 836.1L594.5 836.1L596.0 836.1L597.5 836.1L599.0 836.1L600.5 837.1L602.0 837.2L603.5 837.5L605.0 837.2L606.5 837.3L608.0 837.1L609.5 837.5L611.0 836.7L612.5 837.1L614.0 837.5L615.5 837.5L617.0 836.3L618.5 836.1L620.0 836.1L621.5 836.1L623.0 836.1L624.5 837.1L626.0 836.8L627.5 837.0L629.0 836.9L630.5 836.5L632.0 837.2L633.5 837.2L635.0 837.4L636.5 836.8L638.0 837.5L639.5 837.3L641.0 837.4L642.5 837.3L644.0 837.3L645.5 837.0L647.0 837.1L648.5 836.7L650.0 836.5L651.5 837.0L653.0 837.4L654.5 836.8L656.0 836.6L657.5 837.2L659.0 837.0L660.5 837.3L662.0 837.1L663.5 837.0L665.0 836.3L666.5 837.4L668.0 836.6L669.5 837.3L671.0 837.1L672.5 837.3L674.0 837.5L675.5 837.2L677.0 837.3L678.5 836.7L680.0 836.3L681.5 836.1L683.0 836.1L684.5 836.1L686.0 836.1L687.5 836.9L689.0 837.3L690.5 837.3L692.0 837.0L693.5 836.9L695.0 837.5L696.5 837.2L698.0 836.6L699.5 837.1L701.0 836.9L702.5 836.5L704.0 836.1L705.5 836.1L707.0 837.1L708.5 836.6L710.0 836.7L711.5 837.0L713.0 836.6L714.5 837.0L716.0 836.7L717.5 837.4L719.0 837.5L720.5 836.9L722.0 837.4L723.5 836.1L725.0 836.5L726.5 836.8L728.0 837.4L729.5 836.4L731.0 837.4L732.5 837.5L734.0 836.4L735.5 836.1L737.0 836.4L738.5 837.1L740.0 837.4L741.5 837.1L743.0 836.3L744.5 836.4L746.0 836.4L747.5 836.3L749.0 836.6L750.5 837.4L752.0 837.3L753.5 837.0L755.0 836.7L756.5 836.3L758.0 836.1L759.5 836.2L761.0 836.4L762.5 836.4L764.0 836.7L765.5 837.4L767.0 837.2L768.5 837.4L770.0 837.0L771.5 837.3L773.0 837.3L774.5 836.4L776.0 836.1L777.5 836.1L779.0 836.1L780.5 836.5L782.0 836.8L783.5 837.3L785.0 836.7L786.5 836.9L788.0 837.1L789.5 837.4L791.0 836.9L792.5 837.5L794.0 837.4L795.5 837.4L797.0 837.3L798.5 836.1L800.0 836.4L801.5 837.4L803.0 837.1L804.5 836.3L806.0 836.1L807.5 837.2L809.0 837.1L810.5 837.4L812.0 837.3L813.5 837.2L815.0 837.2L816.5 836.8L818.0 837.1L819.5 837.5L821.0 837.4L822.5 837.2L824.0 836.6L825.5 837.3L827.0 837.1L828.5 836.1L830.0 837.0L831.5 837.5L833.0 837.1L834.5 836.5L836.0 837.0L837.5 836.3L839.0 837.0L840.5 836.8L842.0 837.4L843.5 836.9L845.0 837.2L846.5 836.6L848.0 836.1L849.5 836.9L851.0 837.1L852.5 836.5L854.0 836.9L855.5 837.3L857.0 836.8L858.5 837.4L860.0 836.7L861.5 836.6L863.0 836.6L864.5 836.7L866.0 836.1L867.5 836.1L869.0 836.2L870.5 837.1L872.0 837.0L873.5 837.4L875.0 837.3L876.5 836.5L878.0 836.5L879.5 836.1L881.0 837.5L882.5 836.6L884.0 836.5L885.5 836.1L887.0 837.4L888.5 837.4L890.0 837.0L891.5 836.8L893.0 837.3L894.5 837.2L896.0 836.4L897.5 836.7L899.0 836.1L900.5 836.5L902.0 837.1L903.5 837.4L905.0 836.8L906.5 837.5L908.0 837.4L909.5 837.3L911.0 837.3L912.5 836.9L914.0 837.4L915.5 837.4L917.0 837.0L918.5 837.4L920.0 837.4L921.5 837.4L923.0 837.1L924.5 836.6L926.0 837.2L927.5 837.1L929.0 837.3L930.5 837.3L932.0 837.4L933.5 836.2L935.0 836.3L936.5 836.1L938.0 836.1L939.5 837.2L941.0 837.4L942.5 837.2L944.0 837.4L945.5 836.6L947.0 836.5L948.5 836.9L950.0 837.4L951.5 836.9L953.0 836.8L954.5 836.2L956.0 836.4L957.5 836.5L959.0 836.3L960.5 836.8L962.0 837.0L963.5 836.1L965.0 836.1L966.5 837.1L968.0 836.9L969.5 837.3L971.0 836.6L972.5 837.0L974.0 836.9L975.5 836.9L977.0 837.0L978.5 837.2L980.0 836.9L981.5 837.0L983.0 836.6L984.5 837.1L986.0 836.1L987.5 836.1L989.0 836.1L990.5 837.0L992.0 837.4L993.5 837.5L995.0 837.0L996.5 836.4L998.0 836.1L999.5 836.2L1001.0 836.9L1002.5 837.4L1004.0 837.0L1005.5 836.6L1007.0 837.0L1008.5 837.3L1010.0 836.3L1011.5 836.4L1013.0 836.6L1014.5 836.2L1016.0 837.4L1017.5 837.5L1019.0 837.1L1020.5 837.4L1022.0 837.4L1023.5 837.4L1025.0 837.0L1026.5 837.3L1028.0 836.9L1029.5 836.9L1031.0 837.2L1032.5 836.1L1034.0 836.4L1035.5 837.0L1037.0 836.8L1038.5 836.9L1040.0 837.2L1041.5 837.0L1043.0 837.4L1044.5 836.9L1046.0 836.7L1047.5 837.1L1049.0 837.2L1050.5 837.4L1052.0 837.3L1053.5 837.2L1055.0 837.0L1056.5 836.9L1058.0 836.6L1059.5 836.1L1061.0 836.1L1062.5 836.1L1064.0 836.1L1065.5 836.1L1067.0 836.7L1068.5 837.5L1070.0 837.3" stroke="#fa5005" stroke-width="9.8" fill="none" stroke-linejoin="round" stroke-linecap="butt"/>
<path d="M1078.0 110.0L1078.0 111.5L1078.1 113.0L1078.2 114.5L1078.3 116.0L1078.3 117.6L1078.4 119.1L1078.5 120.6L1078.6 122.1L1078.6 123.6L1078.7 125.1L1078.8 126.6L1078.8 128.2L1078.9 129.7L1079.0 131.2L1079.0 132.7L1079.1 134.2L1079.2 135.7L1079.2 137.2L1079.3 138.7L1079.4 140.2L1079.4 141.7L1079.5 143.3L1079.6 144.8L1079.6 146.3L1079.7 147.8L1079.8 149.3L1079.8 150.8L1079.9 152.3L1080.0 153.8L1080.0 155.3L1080.1 156.8L1080.1 158.3L1080.2 159.8L1080.3 161.3L1080.3 162.8L1080.4 164.3L1080.4 165.8L1080.5 167.3L1080.6 168.8L1080.6 170.3L1080.7 171.8L1080.7 173.3L1080.8 174.8L1080.9 176.3L1080.9 177.8L1081.0 179.3L1081.0 180.8L1081.1 182.3L1081.1 183.8L1081.2 185.3L1081.3 186.8L1081.3 188.3L1081.4 189.8L1081.4 191.2L1081.5 192.7L1081.5 194.2L1081.6 195.7L1081.7 197.2L1081.7 198.7L1081.8 200.2L1081.8 201.7L1081.9 203.2L1081.9 204.7L1082.0 206.2L1082.0 207.7L1082.1 209.2L1082.1 210.7L1082.2 212.2L1082.3 213.7L1082.3 215.2L1082.4 216.7L1082.4 218.2L1082.5 219.7L1082.5 221.1L1082.6 222.6L1082.6 224.1L1082.7 225.6L1082.7 227.1L1082.8 228.6L1082.8 230.1L1082.9 231.6L1082.9 233.1L1083.0 234.6L1083.0 236.1L1083.1 237.6L1083.2 239.1L1083.2 240.6L1083.3 242.1L1083.3 243.6L1083.4 245.1L1083.4 246.6L1083.5 248.1L1083.5 249.6L1083.6 251.1L1083.6 252.6L1083.7 254.1L1083.7 255.6L1083.8 257.1L1083.8 258.6L1083.9 260.1L1083.9 261.6L1084.0 263.1L1084.0 264.6L1084.1 266.1L1084.2 267.6L1084.2 269.1L1084.3 270.6L1084.3 272.1L1084.4 273.6L1084.4 275.1L1084.5 276.6L1084.5 278.1L1084.6 279.7L1084.6 281.2L1084.7 282.7L1084.7 284.2L1084.8 285.7L1084.9 287.2L1084.9 288.7L1085.0 290.2L1085.0 291.7L1085.1 293.3L1085.1 294.8L1085.2 296.3L1085.2 297.8L1085.3 299.3L1085.3 300.8L1085.4 302.3L1085.5 303.9L1085.5 305.4L1085.6 306.9L1085.6 308.4L1085.7 309.9L1085.7 311.5L1085.8 313.0L1085.9 314.5L1085.9 316.0L1086.0 317.5L1086.0 319.1L1086.1 320.6L1086.2 322.1L1086.2 323.6L1086.3 325.1L1086.3 326.7L1086.4 328.2L1086.5 329.7L1086.5 331.2L1086.6 332.8L1086.6 334.3L1086.7 335.8L1086.8 337.3L1086.8 338.8L1086.9 340.3L1087.0 341.9L1087.0 343.4L1087.1 344.9L1087.1 346.4L1087.2 347.9L1087.3 349.4L1087.3 350.9L1087.4 352.4L1087.5 353.9L1087.5 355.5L1087.6 357.0L1087.7 358.5L1087.7 360.0L1087.8 361.5L1087.9 363.0L1088.0 364.5L1088.0 366.0L1088.1 367.4L1088.2 368.9L1088.2 370.4L1088.3 371.9L1088.4 373.4L1088.5 374.9L1088.5 376.4L1088.6 377.9L1088.7 379.3L1088.7 380.8L1088.8 382.3L1088.9 383.8L1089.0 385.2L1089.0 386.7L1089.1 388.2L1089.2 389.6L1089.3 391.1L1089.4 392.5L1089.4 394.0L1089.5 395.4L1089.6 396.9L1089.7 398.3L1089.8 399.8L1089.8 401.2L1089.9 402.6L1090.0 404.1L1090.1 405.5L1090.2 406.9L1090.3 408.4L1090.3 409.8L1090.4 411.2L1090.5 412.6L1090.6 414.1L1090.7 415.5L1090.8 417.0L1090.9 418.5L1091.0 420.0L1091.1 421.6L1091.1 423.2L1091.2 424.8L1091.3 426.5L1091.4 428.3L1091.5 430.1L1091.6 432.0L1091.7 434.0L1091.8 436.0L1091.9 438.1L1092.0 440.3L1092.1 442.5L1092.2 444.7L1092.3 446.9L1092.4 449.1L1092.5 451.3L1092.6 453.5L1092.6 455.7L1092.7 457.8L1092.8 459.8L1092.9 461.8L1093.0 463.7L1093.1 465.5L1093.2 467.2L1093.2 468.8L1093.3 470.2L1093.4 471.6L1093.4 472.7L1093.5 473.7L1093.6 474.5L1093.6 475.2L1093.7 475.6L1093.7 475.8L1093.7 475.8L1093.8 475.6L1093.8 475.1L1093.8 474.3L1093.8 473.3L1093.9 472.2L1093.9 470.8L1093.9 469.3L1093.9 467.6L1093.9 465.9L1093.9 464.1L1093.9 462.3L1093.9 460.4L1093.9 458.6L1093.9 456.8L1093.9 455.1L1093.9 453.5L1093.9 452.0L1093.9 450.7L1093.9 449.6L1093.9 448.7L1093.9 448.0L1094.0 447.5L1094.0 447.3L1094.0 447.3L1094.1 447.5L1094.1 447.8L1094.2 448.4L1094.2 449.1L1094.3 450.0L1094.3 451.1L1094.4 452.3L1094.5 453.6L1094.5 455.1L1094.6 456.7L1094.7 458.4L1094.7 460.2L1094.8 462.1L1094.9 464.1L1095.0 466.1L1095.1 468.2L1095.2 470.4L1095.2 472.6L1095.3 474.9L1095.4 477.2L1095.5 479.5L1095.6 481.8L1095.7 484.1L1095.8 486.4L1095.9 488.7L1096.0 490.9L1096.1 493.2L1096.2 495.3L1096.3 497.5L1096.3 499.5L1096.4 501.5L1096.5 503.4L1096.6 505.3L1096.7 507.1L1096.8 508.8L1096.9 510.5L1097.0 512.2L1097.1 513.8L1097.2 515.3L1097.3 516.8L1097.3 518.3L1097.4 519.8L1097.5 521.2L1097.6 522.6L1097.7 524.0L1097.8 525.3L1097.9 526.7L1098.0 528.0L1098.0 529.3L1098.1 530.7L1098.2 532.0L1098.3 533.3L1098.4 534.7L1098.5 536.0L1098.6 537.4L1098.6 538.8L1098.7 540.2L1098.8 541.6L1098.9 543.0L1099.0 544.4L1099.1 545.8L1099.2 547.2L1099.2 548.7L1099.3 550.1L1099.4 551.6L1099.5 553.0L1099.6 554.5L1099.7 555.9L1099.8 557.4L1099.8 558.9L1099.9 560.4L1100.0 561.9L1100.1 563.4L1100.2 564.9L1100.3 566.4L1100.4 567.9L1100.5 569.4L1100.5 570.9L1100.6 572.4L1100.7 574.0L1100.8 575.5L1100.9 577.0L1101.0 578.5L1101.1 580.1L1101.2 581.6L1101.3 583.1L1101.4 584.7L1101.4 586.2L1101.5 587.7L1101.6 589.2L1101.7 590.8L1101.8 592.3L1101.9 593.8L1102.0 595.4L1102.1 596.9L1102.2 598.4L1102.3 599.9L1102.4 601.5L1102.5 603.0L1102.6 604.5L1102.7 606.0L1102.8 607.6L1102.9 609.1L1103.0 610.6L1103.1 612.1L1103.2 613.7L1103.3 615.2L1103.4 616.7L1103.5 618.2L1103.6 619.7L1103.7 621.3L1103.8 622.8L1103.9 624.3L1104.0 625.8L1104.1 627.3L1104.2 628.9L1104.3 630.4L1104.5 631.9L1104.6 633.4L1104.7 634.9L1104.8 636.4L1104.9 638.0L1105.0 639.5L1105.1 641.0L1105.2 642.5L1105.3 644.0L1105.4 645.5L1105.5 647.0L1105.6 648.6L1105.8 650.1L1105.9 651.6L1106.0 653.1L1106.1 654.6L1106.2 656.1L1106.3 657.6L1106.4 659.1L1106.5 660.6L1106.7 662.2L1106.8 663.7L1106.9 665.2L1107.0 666.7L1107.1 668.2L1107.2 669.7L1107.3 671.2L1107.4 672.7L1107.6 674.2L1107.7 675.7L1107.8 677.2L1107.9 678.7L1108.0 680.2L1108.1 681.7L1108.3 683.2L1108.4 684.7L1108.5 686.2L1108.6 687.7L1108.7 689.2L1108.8 690.7L1109.0 692.2L1109.1 693.7L1109.2 695.2L1109.3 696.7L1109.4 698.2L1109.6 699.7L1109.7 701.2L1109.8 702.7L1109.9 704.2L1110.0 705.7L1110.1 707.2L1110.3 708.7L1110.4 710.2L1110.5 711.7L1110.6 713.2L1110.7 714.7L1110.9 716.2L1111.0 717.7L1111.1 719.2L1111.2 720.7L1111.3 722.1L1111.5 723.6L1111.6 725.1L1111.7 726.6L1111.8 728.1L1112.0 729.6L1112.1 731.1L1112.2 732.6L1112.3 734.1L1112.4 735.5L1112.6 737.0L1112.7 738.5L1112.8 740.0L1112.9 741.5L1113.0 743.0L1113.2 744.5L1113.3 745.9L1113.4 747.4L1113.5 748.9L1113.7 750.4L1113.8 751.9L1113.9 753.3L1114.0 754.8L1114.2 756.3L1114.3 757.8L1114.4 759.3L1114.6 760.7L1114.7 762.2L1114.9 763.7L1115.0 765.2L1115.2 766.7L1115.4 768.1L1115.6 769.6L1115.8 771.1L1116.0 772.5L1116.2 774.0L1116.4 775.5L1116.7 777.0L1117.0 778.4L1117.2 779.9L1117.5 781.4L1117.8 782.9L1118.1 784.3L1118.5 785.8L1118.8 787.3L1119.2 788.7L1119.6 790.2L1120.0 791.6L1120.4 793.0L1120.9 794.4L1121.3 795.7L1121.8 797.1L1122.3 798.6L1122.9 799.9L1123.4 801.2L1124.0 802.5L1124.6 804.1L1125.2 805.5L1125.9 807.0L1126.6 807.9L1127.3 809.0L1128.0 810.3L1128.8 811.5L1129.6 813.0L1130.4 814.1L1131.2 815.3L1132.1 816.1L1133.0 817.3L1133.9 818.8L1134.9 820.2L1135.9 821.3L1136.9 822.0L1138.0 822.5L1139.0 823.5L1140.2 824.4L1141.3 825.1L1142.5 825.9L1143.7 826.6L1145.0 827.4L1146.3 828.0L1147.6 829.7L1149.0 829.9L1150.4 830.1L1151.8 830.8L1153.2 831.8L1154.7 832.8L1156.2 832.7L1157.7 832.6L1159.2 833.6L1160.8 834.0L1162.3 834.2L1163.9 834.2L1165.5 833.5L1167.1 833.5L1168.7 833.5L1170.3 833.4L1171.9 832.3L1171.6 833.4L1173.1 833.6L1174.6 833.8L1176.1 833.5L1177.6 833.7L1179.1 833.0L1180.6 833.7L1182.1 833.8L1183.6 832.6L1185.1 833.2L1186.6 833.1L1188.1 832.6L1189.6 833.4L1191.1 833.3L1192.6 833.2L1194.1 833.5L1195.6 833.0L1197.1 833.3L1198.6 832.8L1200.1 832.8L1201.6 832.8L1203.1 833.0L1204.6 833.3L1206.1 833.9L1207.6 833.9L1209.1 833.5L1210.6 833.0L1212.1 833.1L1213.6 832.7L1215.1 833.1L1216.6 833.3L1218.1 833.6L1219.6 832.8L1221.1 832.8L1222.6 833.2L1224.1 833.5L1225.6 833.2L1227.1 832.8L1228.6 833.1L1230.1 832.6L1231.6 832.6L1233.1 832.5L1234.6 833.5L1236.1 833.4L1237.6 833.6L1239.1 833.0L1240.6 833.2L1242.1 833.6L1243.6 833.9L1245.1 833.9L1246.6 833.8L1248.1 833.6L1249.6 832.8L1251.1 832.6L1252.6 832.9L1254.1 832.8L1255.6 833.3L1257.1 833.1L1258.6 833.8L1260.1 832.8L1261.6 832.8L1263.1 832.5L1264.6 833.5L1266.1 833.1L1267.6 833.6L1269.1 833.8L1270.6 833.1L1272.1 833.2L1273.6 833.0L1275.1 832.5L1276.6 832.9L1278.1 833.7L1279.6 833.3L1281.1 833.6L1282.6 833.9L1284.1 833.0L1285.6 833.2L1287.1 833.9L1288.6 833.5L1290.1 833.4L1291.6 833.5L1293.1 832.9L1294.6 833.0L1296.1 832.6L1297.6 833.1L1299.1 833.1L1300.6 832.9L1302.1 832.8L1303.6 832.5L1305.1 832.7L1306.6 832.7L1308.1 833.5L1309.6 833.4L1311.1 832.9L1312.6 833.4L1314.1 832.8L1315.6 832.7L1317.1 833.4L1318.6 833.0L1320.1 832.7L1321.6 833.0L1323.1 833.2L1324.6 833.1L1326.1 833.6L1327.6 833.1L1329.1 833.1L1330.6 832.9L1332.1 832.7L1333.6 833.0L1335.1 832.6L1336.6 833.1L1338.1 832.6L1339.6 833.3L1341.1 832.9L1342.6 833.5L1344.1 832.6L1345.6 833.8L1347.1 833.6L1348.6 832.7L1350.1 832.9L1351.6 833.1L1353.1 833.3L1354.6 832.9L1356.1 832.5L1357.6 832.7L1359.1 832.7L1360.6 832.9L1362.1 833.7L1363.6 833.1L1365.1 833.4L1366.6 832.8L1368.1 832.9L1369.6 832.6L1371.1 832.6L1372.6 833.2L1374.1 833.1L1375.6 833.4L1377.1 833.8L1378.6 833.2L1380.1 833.5L1381.6 833.2L1383.1 833.3L1384.6 833.3L1386.1 832.8L1387.6 832.8L1389.1 832.9L1390.6 833.1L1392.1 833.3L1393.6 832.7L1395.1 832.6L1396.6 832.7L1398.1 833.2L1399.6 833.5L1401.1 833.3L1402.6 833.9L1404.1 833.9L1405.6 833.6L1407.1 833.2L1408.6 833.4L1410.1 833.0L1411.6 832.6L1413.1 832.9L1414.6 833.9L1416.1 833.9L1417.6 833.6L1419.1 833.7L1420.6 833.7L1422.1 833.1L1423.6 833.6L1425.1 833.4L1426.6 833.4L1428.1 833.7L1429.6 833.0L1431.1 832.6L1432.6 833.6L1434.1 833.8L1435.6 833.1L1437.1 833.0L1438.6 832.7L1440.1 833.5L1441.6 833.5L1443.1 832.6L1444.6 833.2L1446.1 833.0L1447.6 833.2L1449.1 833.3L1450.6 833.9L1452.1 833.7L1453.6 833.9L1455.1 833.2L1456.6 833.1L1458.1 833.1L1459.6 832.7L1461.1 832.9L1462.6 833.1L1464.1 833.7L1465.6 832.9L1467.1 832.7L1468.6 832.6L1470.1 832.5L1471.6 833.1L1473.1 833.0L1474.6 832.7L1476.1 833.8L1477.6 833.9L1479.1 832.8L1480.6 833.1L1482.1 833.9L1483.6 833.9L1485.1 833.9L1486.6 833.1L1488.1 833.0L1489.6 832.8L1491.1 832.9L1492.6 832.8L1494.1 833.1L1495.6 833.0L1497.1 832.9L1498.6 833.4L1500.1 833.2L1501.6 833.5L1503.1 833.3L1504.6 832.7L1506.1 832.7L1507.6 833.6L1509.1 833.9L1510.6 833.9L1512.1 833.9L1513.6 833.8L1515.1 833.1L1516.6 832.7L1518.1 832.7L1519.6 833.1L1521.1 833.6L1522.6 833.7L1524.1 832.7L1525.6 832.8L1527.1 833.3L1528.6 833.6L1530.1 833.1L1531.6 832.6L1533.1 833.2L1534.6 833.2L1536.1 832.6L1537.6 832.5L1539.1 833.3L1540.6 833.3L1542.1 832.8L1543.6 833.1L1545.1 832.6L1546.6 832.7L1548.1 832.6L1549.6 832.6L1551.1 832.9L1552.6 833.0L1554.1 832.9L1555.6 832.7L1557.1 832.7L1558.6 832.7L1560.1 832.8L1561.6 833.5L1563.1 833.2L1564.6 832.6L1566.1 833.1L1567.6 833.3L1569.1 833.9L1570.6 832.6L1572.1 833.0L1573.6 832.9L1575.1 833.1L1576.6 833.0L1578.1 833.1L1579.6 832.5L1581.1 832.9L1582.6 833.7L1584.1 833.9L1585.6 833.9L1587.1 833.9L1588.6 833.9L1590.1 832.9L1591.6 833.2L1593.1 833.4L1594.6 833.9L1596.1 833.5L1597.6 833.6L1599.1 833.7L1600.6 833.9L1602.1 833.9L1603.6 833.9L1605.1 833.9L1606.6 833.2L1608.1 833.1L1609.6 832.7L1611.1 833.6L1612.6 833.7L1614.1 833.0L1615.6 833.7L1617.1 833.4L1618.6 833.9L1620.1 833.9L1621.6 833.8L1623.1 833.2L1624.6 832.9L1626.1 833.0L1627.6 833.8L1629.1 832.9L1630.6 833.0L1632.1 833.7L1633.6 833.9L1635.1 833.7L1636.6 832.6L1638.1 833.4L1639.6 833.0L1641.1 833.6L1642.6 833.9L1644.1 833.9L1645.6 833.9L1647.1 833.8L1648.6 833.2L1650.1 833.1L1651.6 832.7L1653.1 833.7L1654.6 832.9L1656.1 832.6L1657.6 832.6L1659.1 833.5L1660.6 833.5L1662.1 832.9L1663.6 833.1L1665.1 833.6L1666.6 832.9L1668.1 833.2L1669.6 832.7L1671.1 833.1L1672.6 832.8L1674.1 833.2L1675.6 832.9L1677.1 833.2L1678.6 832.9L1680.1 833.6L1681.6 833.3L1683.1 833.3L1684.6 833.7L1686.1 832.7L1687.6 832.6L1689.1 833.2L1690.6 833.8L1692.1 833.4L1693.6 832.6L1695.1 832.6L1696.6 832.5L1698.1 832.7L1699.6 833.0L1701.1 832.7L1702.6 832.8L1704.1 832.5L1705.6 832.7L1707.1 832.6L1708.6 832.7L1710.1 833.4L1711.6 833.2L1713.1 833.9L1714.6 833.9L1716.1 833.5L1717.6 833.8L1719.1 833.3L1720.6 833.1L1722.1 833.1L1723.6 833.2L1725.1 833.0L1726.6 833.4L1728.1 833.8L1729.6 833.4L1731.1 833.6L1732.6 832.9L1734.1 832.5L1735.6 832.6L1737.1 833.5L1738.6 833.7L1740.1 832.7L1741.6 832.7L1743.1 833.9L1744.6 833.9L1746.1 833.7L1747.6 833.1L1749.1 832.8L1750.6 832.7L1752.1 832.6L1753.6 832.8L1755.1 832.9L1756.6 832.9L1758.1 833.3L1759.6 833.5L1761.1 833.4L1762.6 832.8L1764.1 833.0L1765.6 833.5L1767.1 833.6L1768.6 833.9L1770.1 833.0L1771.6 832.9L1773.1 832.6L1774.6 832.6L1776.1 833.1L1777.6 832.9L1779.1 833.0L1780.6 833.2L1782.1 833.0L1783.6 833.2L1785.1 832.9L1786.6 833.9L1788.1 833.9L1789.6 833.9L1791.1 833.9L1792.6 833.4L1794.1 833.6L1795.6 832.8L1797.1 833.0L1798.6 833.5L1800.1 833.8L1801.6 833.2L1803.1 833.1L1804.6 833.0L1806.1 832.8L1807.6 833.0L1809.1 832.6L1810.6 832.6L1812.1 832.6L1813.6 833.6L1815.1 833.2L1816.6 833.1L1818.1 832.8L1819.6 833.6L1821.1 833.3L1822.6 832.6L1824.1 832.6L1825.6 833.2L1827.1 833.7L1828.6 832.7L1830.1 832.8L1831.6 833.9L1833.1 833.1L1834.6 833.5L1836.1 833.7L1837.6 832.7L1839.1 832.7L1840.6 832.6L1842.1 833.1L1843.6 833.8L1845.1 833.3L1846.6 833.7L1848.1 833.9L1849.6 833.9L1851.1 833.9L1852.6 833.9L1854.1 833.6L1855.6 832.9L1857.1 833.2L1858.6 832.8L1860.1 832.8L1861.6 833.0L1863.1 832.8L1864.6 832.9L1866.1 833.1L1867.6 833.4L1869.1 833.3L1870.6 833.9L1872.1 833.6L1873.6 832.8L1875.1 832.9L1876.6 833.5L1878.1 833.5L1879.6 833.3L1881.1 833.8L1882.6 833.9L1884.1 833.9L1885.6 833.4L1887.1 832.7L1888.6 833.1L1890.1 833.2L1891.6 833.2L1893.1 833.0L1894.6 833.1L1896.1 833.3L1897.6 833.0L1899.1 833.5L1900.6 833.3L1902.1 833.9L1903.6 833.9L1905.1 832.8L1906.6 832.6L1908.1 833.4L1909.6 833.9L1911.1 833.7L1912.6 833.1L1914.1 832.8L1915.6 833.2L1917.1 833.5L1918.6 833.6L1920.1 833.3L1921.6 833.3L1923.1 832.7L1924.6 832.7L1926.1 832.9L1927.6 832.7L1929.1 833.0L1930.6 833.5L1932.1 832.9L1933.6 833.1L1935.1 833.8L1936.6 833.9L1938.1 833.5L1939.6 832.5L1941.1 832.7L1942.6 833.1L1944.1 832.7L1945.6 832.7L1947.1 832.7L1948.6 832.8L1950.1 833.0L1951.6 833.0L1953.1 832.8L1954.6 833.0L1956.1 833.0L1957.6 833.0L1959.1 833.7L1960.6 833.9L1962.1 833.9L1963.6 833.9L1965.1 833.8L1966.6 833.8L1968.1 833.1L1969.6 833.1L1971.1 833.7L1972.6 833.5L1974.1 833.7L1975.6 833.2" stroke="#fa5005" stroke-width="9.8" fill="none" stroke-linejoin="round" stroke-linecap="butt"/>
<path d="M1078.0 110.0L1078.0 111.5L1078.1 113.0L1078.2 114.5L1078.3 116.0L1078.3 117.6L1078.4 119.1L1078.5 120.6L1078.6 122.1L1078.6 123.6L1078.7 125.1L1078.8 126.6L1078.8 128.2L1078.9 129.7L1079.0 131.2L1079.0 132.7L1079.1 134.2L1079.2 135.7L1079.2 137.2L1079.3 138.7L1079.4 140.2L1079.4 141.7L1079.5 143.3L1079.6 144.8L1079.6 146.3L1079.7 147.8L1079.8 149.3L1079.8 150.8L1079.9 152.3L1080.0 153.8L1080.0 155.3L1080.1 156.8L1080.1 158.3L1080.2 159.8L1080.3 161.3L1080.3 162.8L1080.4 164.3L1080.4 165.8L1080.5 167.3L1080.6 168.8L1080.6 170.3L1080.7 171.8L1080.7 173.3L1080.8 174.8L1080.9 176.3L1080.9 177.8L1081.0 179.3L1081.0 180.8L1081.1 182.3L1081.1 183.8L1081.2 185.3L1081.3 186.8L1081.3 188.3L1081.4 189.8L1081.4 191.2L1081.5 192.7L1081.5 194.2L1081.6 195.7L1081.7 197.2L1081.7 198.7L1081.8 200.2L1081.8 201.7L1081.9 203.2L1081.9 204.7L1082.0 206.2L1082.0 207.7L1082.1 209.2L1082.1 210.7L1082.2 212.2L1082.3 213.7L1082.3 215.2L1082.4 216.7L1082.4 218.2L1082.5 219.7L1082.5 221.1L1082.6 222.6L1082.6 224.1L1082.7 225.6L1082.7 227.1L1082.8 228.6L1082.8 230.1L1082.9 231.6L1082.9 233.1L1083.0 234.6L1083.0 236.1L1083.1 237.6L1083.2 239.1L1083.2 240.6L1083.3 242.1L1083.3 243.6L1083.4 245.1L1083.4 246.6L1083.5 248.1L1083.5 249.6L1083.6 251.1L1083.6 252.6L1083.7 254.1L1083.7 255.6L1083.8 257.1L1083.8 258.6L1083.9 260.1L1083.9 261.6L1084.0 263.1L1084.0 264.6L1084.1 266.1L1084.2 267.6L1084.2 269.1L1084.3 270.6L1084.3 272.1L1084.4 273.6L1084.4 275.1L1084.5 276.6L1084.5 278.1L1084.6 279.7L1084.6 281.2L1084.7 282.7L1084.7 284.2L1084.8 285.7L1084.9 287.2L1084.9 288.7L1085.0 290.2L1085.0 291.7L1085.1 293.3L1085.1 294.8L1085.2 296.3L1085.2 297.8L1085.3 299.3L1085.3 300.8L1085.4 302.3L1085.5 303.9L1085.5 305.4L1085.6 306.9L1085.6 308.4L1085.7 309.9L1085.7 311.5L1085.8 313.0L1085.9 314.5L1085.9 316.0L1086.0 317.5L1086.0 319.1L1086.1 320.6L1086.2 322.1L1086.2 323.6L1086.3 325.1L1086.3 326.7L1086.4 328.2L1086.5 329.7L1086.5 331.2L1086.6 332.8L1086.6 334.3L1086.7 335.8L1086.8 337.3L1086.8 338.8L1086.9 340.3L1087.0 341.9L1087.0 343.4L1087.1 344.9L1087.1 346.4L1087.2 347.9L1087.3 349.4L1087.3 350.9L1087.4 352.4L1087.5 353.9L1087.5 355.5L1087.6 357.0L1087.7 358.5L1087.7 360.0L1087.8 361.5L1087.9 363.0L1088.0 364.5L1088.0 366.0L1088.1 367.4L1088.2 368.9L1088.2 370.4L1088.3 371.9L1088.4 373.4L1088.5 374.9L1088.5 376.4L1088.6 377.9L1088.7 379.3L1088.7 380.8L1088.8 382.3L1088.9 383.8L1089.0 385.2L1089.0 386.7L1089.1 388.2L1089.2 389.6L1089.3 391.1L1089.4 392.5L1089.4 394.0L1089.5 395.4L1089.6 396.9L1089.7 398.3L1089.8 399.8L1089.8 401.2L1089.9 402.6L1090.0 404.1L1090.1 405.5L1090.2 406.9L1090.3 408.4L1090.3 409.8L1090.4 411.2L1090.5 412.6L1090.6 414.1L1090.7 415.5L1090.8 417.0L1090.9 418.5L1091.0 420.0L1091.1 421.6L1091.1 423.2L1091.2 424.8L1091.3 426.5L1091.4 428.3L1091.5 430.1L1091.6 432.0L1091.7 434.0L1091.8 436.0L1091.9 438.1L1092.0 440.3L1092.1 442.5L1092.2 444.7L1092.3 446.9L1092.4 449.1L1092.5 451.3L1092.6 453.5L1092.6 455.7L1092.7 457.8L1092.8 459.8L1092.9 461.8L1093.0 463.7L1093.1 465.5L1093.2 467.2L1093.2 468.8L1093.3 470.2L1093.4 471.6L1093.4 472.7L1093.5 473.7L1093.6 474.5L1093.6 475.2L1093.7 475.6L1093.7 475.8L1093.7 475.8L1093.8 475.6L1093.8 475.1L1093.8 474.3L1093.8 473.3L1093.9 472.2L1093.9 470.8L1093.9 469.3L1093.9 467.6L1093.9 465.9L1093.9 464.1L1093.9 462.3L1093.9 460.4L1093.9 458.6L1093.9 456.8L1093.9 455.1L1093.9 453.5L1093.9 452.0L1093.9 450.7L1093.9 449.6L1093.9 448.7L1093.9 448.0L1094.0 447.5L1094.0 447.3L1094.0 447.3L1094.1 447.5L1094.1 447.8L1094.2 448.4L1094.2 449.1L1094.3 450.0L1094.3 451.1L1094.4 452.3L1094.5 453.6L1094.5 455.1L1094.6 456.7L1094.7 458.4L1094.7 460.2L1094.8 462.1L1094.9 464.1L1095.0 466.1L1095.1 468.2L1095.2 470.4L1095.2 472.6L1095.3 474.9L1095.4 477.2L1095.5 479.5L1095.6 481.8L1095.7 484.1L1095.8 486.4L1095.9 488.7L1096.0 490.9L1096.1 493.2L1096.2 495.3L1096.3 497.5L1096.3 499.5L1096.4 501.5L1096.5 503.4L1096.6 505.3L1096.7 507.1L1096.8 508.8L1096.9 510.5L1097.0 512.2L1097.1 513.8L1097.2 515.3L1097.3 516.8L1097.3 518.3L1097.4 519.8L1097.5 521.2L1097.6 522.6L1097.7 524.0L1097.8 525.3L1097.9 526.7L1098.0 528.0L1098.0 529.3L1098.1 530.7L1098.2 532.0L1098.3 533.3L1098.4 534.7L1098.5 536.0L1098.6 537.4L1098.6 538.8L1098.7 540.2L1098.8 541.6L1098.9 543.0L1099.0 544.4L1099.1 545.8L1099.2 547.2L1099.2 548.7L1099.3 550.1L1099.4 551.6L1099.5 553.0L1099.6 554.5L1099.7 555.9L1099.8 557.4L1099.8 558.9L1099.9 560.4L1100.0 561.9L1100.1 563.4L1100.2 564.9L1100.3 566.4L1100.4 567.9L1100.5 569.4L1100.5 570.9L1100.6 572.4L1100.7 574.0L1100.8 575.5L1100.9 577.0L1101.0 578.5L1101.1 580.1L1101.2 581.6L1101.3 583.1L1101.4 584.7L1101.4 586.2L1101.5 587.7L1101.6 589.2L1101.7 590.8L1101.8 592.3L1101.9 593.8L1102.0 595.4L1102.1 596.9L1102.2 598.4L1102.3 599.9L1102.4 601.5L1102.5 603.0L1102.6 604.5L1102.7 606.0L1102.8 607.6L1102.9 609.1L1103.0 610.6L1103.1 612.1L1103.2 613.7L1103.3 615.2L1103.4 616.7L1103.5 618.2L1103.6 619.7L1103.7 621.3L1103.8 622.8L1103.9 624.3L1104.0 625.8L1104.1 627.3L1104.2 628.9L1104.3 630.4L1104.5 631.9L1104.6 633.4L1104.7 634.9L1104.8 636.4L1104.9 638.0L1105.0 639.5L1105.1 641.0L1105.2 642.5L1105.3 644.0L1105.4 645.5L1105.5 647.0L1105.6 648.6L1105.8 650.1L1105.9 651.6L1106.0 653.1L1106.1 654.6L1106.2 656.1L1106.3 657.6L1106.4 659.1L1106.5 660.6L1106.7 662.2L1106.8 663.7L1106.9 665.2L1107.0 666.7L1107.1 668.2L1107.2 669.7L1107.3 671.2L1107.4 672.7L1107.6 674.2L1107.7 675.7L1107.8 677.2L1107.9 678.7L1108.0 680.2L1108.1 681.7L1108.3 683.2L1108.4 684.7L1108.5 686.2L1108.6 687.7L1108.7 689.2L1108.8 690.7L1109.0 692.2L1109.1 693.7L1109.2 695.2L1109.3 696.7L1109.4 698.2L1109.6 699.7L1109.7 701.2L1109.8 702.7L1109.9 704.2L1110.0 705.7L1110.1 707.2L1110.3 708.7L1110.4 710.2L1110.5 711.7L1110.6 713.2L1110.7 714.7L1110.9 716.2L1111.0 717.7L1111.1 719.2L1111.2 720.7L1111.3 722.1L1111.5 723.6L1111.6 725.1L1111.7 726.6L1111.8 728.1L1112.0 729.6L1112.1 731.1L1112.2 732.6L1112.3 734.1L1112.4 735.5L1112.6 737.0L1112.7 738.5L1112.8 740.0L1112.9 741.5L1113.0 743.0L1113.2 744.5L1113.3 745.9L1113.4 747.4L1113.5 748.9L1113.7 750.4L1113.8 751.9L1113.9 753.3L1114.0 754.8L1114.2 756.3L1114.3 757.8L1114.4 759.3L1114.6 760.7L1114.7 762.2L1114.9 763.7L1115.0 765.2L1115.2 766.7L1115.4 768.1L1115.6 769.6L1115.8 771.1L1116.0 772.5L1116.2 774.0L1116.4 775.5L1116.7 777.0L1117.0 778.4L1117.2 779.9L1117.5 781.4L1117.8 782.9L1118.1 784.3L1118.5 785.8L1118.8 787.3L1119.2 788.7L1119.6 790.2L1120.0 791.7L1120.4 793.3L1120.9 794.9L1121.3 796.4L1121.8 797.7L1122.3 799.5L1122.9 800.9L1123.4 802.5L1124.0 804.0L1124.6 805.5L1125.2 807.0L1125.9 808.3L1126.6 809.6L1127.3 811.4L1128.0 812.5L1128.8 814.2L1129.6 815.4L1130.4 816.7L1131.2 818.3L1132.1 819.3L1133.0 820.8L1133.9 821.7L1134.9 823.2L1135.9 823.7L1136.9 824.4L1138.0 825.4L1139.0 826.4L1140.2 827.9L1141.3 828.9L1142.5 830.4L1143.7 831.4L1145.0 832.1L1146.3 832.8L1147.6 832.6L1149.0 833.1L1150.4 833.6L1151.8 834.1L1153.2 835.0L1154.7 835.2L1156.2 836.1L1157.7 836.4L1159.2 836.8L1160.8 837.3L1162.3 837.4L1163.9 837.7L1165.5 837.7L1167.1 837.4L1168.7 837.1L1170.3 837.0L1171.9 837.3L1171.6 836.7L1173.1 836.3L1174.6 836.9L1176.1 836.8L1177.6 836.6L1179.1 836.6L1180.6 836.1L1182.1 836.3L1183.6 836.8L1185.1 836.4L1186.6 837.2L1188.1 837.4L1189.6 837.1L1191.1 836.5L1192.6 837.0L1194.1 836.9L1195.6 836.5L1197.1 837.5L1198.6 837.2L1200.1 837.5L1201.6 837.2L1203.1 837.1L1204.6 837.3L1206.1 836.6L1207.6 837.5L1209.1 837.4L1210.6 837.4L1212.1 837.4L1213.6 837.0L1215.1 837.2L1216.6 837.1L1218.1 836.7L1219.6 837.2L1221.1 836.7L1222.6 836.1L1224.1 837.1L1225.6 836.6L1227.1 837.0L1228.6 837.0L1230.1 837.3L1231.6 837.5L1233.1 836.9L1234.6 837.3L1236.1 837.5L1237.6 836.9L1239.1 836.9L1240.6 837.3L1242.1 837.5L1243.6 837.3L1245.1 837.3L1246.6 837.5L1248.1 837.2L1249.6 837.0L1251.1 836.6L1252.6 836.9L1254.1 836.5L1255.6 837.0L1257.1 837.3L1258.6 837.3L1260.1 836.5L1261.6 836.5L1263.1 836.3L1264.6 836.7L1266.1 837.5L1267.6 837.3L1269.1 836.8L1270.6 837.5L1272.1 837.5L1273.6 837.1L1275.1 837.4L1276.6 837.3L1278.1 837.5L1279.6 837.4L1281.1 836.4L1282.6 836.6L1284.1 837.1L1285.6 837.1L1287.1 837.4L1288.6 836.6L1290.1 836.5L1291.6 836.7L1293.1 836.3L1294.6 837.1L1296.1 836.1L1297.6 836.1L1299.1 836.1L1300.6 836.1L1302.1 836.1L1303.6 836.9L1305.1 837.3L1306.6 837.1L1308.1 837.1L1309.6 837.0L1311.1 836.9L1312.6 837.0L1314.1 836.1L1315.6 836.5L1317.1 836.9L1318.6 837.4L1320.1 837.4L1321.6 836.7L1323.1 836.6L1324.6 836.1L1326.1 836.7L1327.6 836.8L1329.1 836.1L1330.6 836.4L1332.1 836.1L1333.6 836.1L1335.1 836.3L1336.6 836.1L1338.1 836.1L1339.6 836.9L1341.1 836.9L1342.6 837.0L1344.1 836.9L1345.6 837.1L1347.1 837.4L1348.6 837.4L1350.1 837.3L1351.6 837.2L1353.1 836.9L1354.6 837.5L1356.1 837.3L1357.6 837.2L1359.1 837.1L1360.6 837.4L1362.1 836.6L1363.6 837.2L1365.1 836.8L1366.6 837.2L1368.1 836.1L1369.6 836.1L1371.1 836.1L1372.6 836.3L1374.1 836.7L1375.6 836.7L1377.1 836.7L1378.6 836.4L1380.1 837.4L1381.6 837.0L1383.1 836.7L1384.6 836.2L1386.1 836.1L1387.6 836.1L1389.1 836.1L1390.6 836.1L1392.1 836.1L1393.6 836.7L1395.1 836.9L1396.6 837.0L1398.1 837.5L1399.6 837.2L1401.1 836.9L1402.6 837.5L1404.1 836.1L1405.6 836.1L1407.1 836.1L1408.6 836.1L1410.1 836.1L1411.6 836.1L1413.1 836.8L1414.6 837.3L1416.1 836.1L1417.6 836.1L1419.1 836.1L1420.6 836.1L1422.1 836.1L1423.6 836.1L1425.1 836.3L1426.6 836.8L1428.1 836.9L1429.6 836.8L1431.1 837.1L1432.6 837.4L1434.1 836.7L1435.6 836.5L1437.1 837.3L1438.6 837.0L1440.1 836.7L1441.6 837.4L1443.1 836.6L1444.6 836.9L1446.1 836.1L1447.6 836.3L1449.1 837.3L1450.6 836.4L1452.1 837.3L1453.6 837.4L1455.1 836.8L1456.6 837.4L1458.1 837.0L1459.6 837.5L1461.1 837.0L1462.6 837.1L1464.1 836.3L1465.6 836.5L1467.1 836.3L1468.6 836.2L1470.1 836.8L1471.6 837.0L1473.1 836.6L1474.6 836.7L1476.1 837.2L1477.6 837.4L1479.1 837.1L1480.6 837.1L1482.1 837.4L1483.6 837.0L1485.1 837.1L1486.6 837.3L1488.1 836.7L1489.6 836.4L1491.1 837.5L1492.6 837.3L1494.1 837.3L1495.6 837.2L1497.1 836.7L1498.6 836.6L1500.1 837.0L1501.6 836.7L1503.1 836.8L1504.6 836.6L1506.1 837.0L1507.6 837.5L1509.1 837.2L1510.6 836.8L1512.1 836.8L1513.6 836.2L1515.1 837.0L1516.6 837.2L1518.1 837.3L1519.6 836.1L1521.1 836.9L1522.6 836.9L1524.1 837.1L1525.6 837.4L1527.1 837.0L1528.6 837.4L1530.1 837.1L1531.6 836.9L1533.1 837.0L1534.6 837.1L1536.1 836.6L1537.6 836.8L1539.1 837.1L1540.6 836.6L1542.1 836.9L1543.6 836.1L1545.1 836.8L1546.6 837.1L1548.1 837.1L1549.6 836.6L1551.1 837.3L1552.6 837.2L1554.1 837.3L1555.6 836.7L1557.1 836.4L1558.6 836.8L1560.1 837.2L1561.6 837.5L1563.1 836.5L1564.6 837.0L1566.1 837.2L1567.6 836.9L1569.1 836.3L1570.6 837.4L1572.1 837.2L1573.6 837.1L1575.1 836.5L1576.6 836.6L1578.1 836.2L1579.6 837.5L1581.1 836.4L1582.6 836.4L1584.1 836.5L1585.6 837.0L1587.1 836.3L1588.6 837.3L1590.1 836.7L1591.6 837.4L1593.1 837.3L1594.6 836.8L1596.1 837.1L1597.6 836.7L1599.1 837.3L1600.6 836.3L1602.1 836.4L1603.6 836.4L1605.1 836.1L1606.6 836.1L1608.1 836.1L1609.6 836.1L1611.1 836.3L1612.6 836.6L1614.1 836.1L1615.6 836.2L1617.1 836.3L1618.6 836.1L1620.1 836.9L1621.6 837.1L1623.1 837.1L1624.6 836.9L1626.1 837.2L1627.6 837.4L1629.1 837.5L1630.6 836.8L1632.1 836.8L1633.6 837.0L1635.1 836.7L1636.6 837.5L1638.1 837.1L1639.6 837.3L1641.1 836.4L1642.6 836.2L1644.1 836.4L1645.6 836.1L1647.1 836.1L1648.6 836.5L1650.1 836.7L1651.6 836.9L1653.1 836.8L1654.6 837.2L1656.1 837.5L1657.6 837.2L1659.1 837.3L1660.6 837.2L1662.1 836.1L1663.6 836.5L1665.1 837.0L1666.6 837.1L1668.1 836.4L1669.6 836.2L1671.1 836.3L1672.6 837.4L1674.1 837.5L1675.6 837.2L1677.1 837.0L1678.6 836.7L1680.1 836.8L1681.6 836.9L1683.1 836.9L1684.6 837.2L1686.1 836.8L1687.6 836.8L1689.1 837.4L1690.6 837.3L1692.1 837.5L1693.6 837.4L1695.1 836.5L1696.6 836.4L1698.1 837.3L1699.6 837.5L1701.1 836.5L1702.6 836.7L1704.1 836.4L1705.6 836.4L1707.1 837.1L1708.6 836.9L1710.1 836.8L1711.6 836.2L1713.1 836.1L1714.6 836.1L1716.1 836.4L1717.6 836.6L1719.1 836.8L1720.6 837.0L1722.1 837.0L1723.6 836.8L1725.1 837.2L1726.6 837.5L1728.1 837.5L1729.6 837.0L1731.1 837.0L1732.6 837.2L1734.1 837.2L1735.6 837.4L1737.1 837.2L1738.6 837.4L1740.1 837.1L1741.6 837.0L1743.1 836.3L1744.6 836.2L1746.1 837.1L1747.6 837.0L1749.1 837.4L1750.6 837.1L1752.1 837.5L1753.6 836.2L1755.1 836.2L1756.6 836.2L1758.1 837.0L1759.6 836.7L1761.1 836.6L1762.6 836.3L1764.1 837.0L1765.6 837.5L1767.1 837.4L1768.6 837.5L1770.1 836.7L1771.6 836.4L1773.1 836.2L1774.6 836.1L1776.1 836.8L1777.6 837.0L1779.1 836.8L1780.6 836.5L1782.1 836.5L1783.6 837.4L1785.1 837.4L1786.6 836.7L1788.1 836.6L1789.6 836.5L1791.1 836.7L1792.6 837.4L1794.1 836.9L1795.6 837.2L1797.1 837.5L1798.6 837.4L1800.1 836.8L1801.6 837.5L1803.1 836.9L1804.6 836.6L1806.1 836.8L1807.6 836.2L1809.1 836.1L1810.6 836.1L1812.1 836.5L1813.6 837.1L1815.1 837.2L1816.6 837.5L1818.1 837.1L1819.6 837.2L1821.1 836.8L1822.6 837.1L1824.1 837.5L1825.6 837.2L1827.1 836.9L1828.6 837.2L1830.1 836.1L1831.6 836.4L1833.1 837.0L1834.6 836.8L1836.1 837.1L1837.6 837.3L1839.1 836.8L1840.6 836.9L1842.1 837.0L1843.6 837.0L1845.1 836.4L1846.6 837.1L1848.1 837.5L1849.6 837.2L1851.1 837.2L1852.6 837.1L1854.1 837.3L1855.6 837.2L1857.1 837.1L1858.6 836.9L1860.1 836.6L1861.6 837.2L1863.1 836.8L1864.6 836.1L1866.1 836.2L1867.6 836.7L1869.1 836.1L1870.6 836.1L1872.1 836.1L1873.6 836.1L1875.1 836.4L1876.6 836.6L1878.1 836.9L1879.6 837.1L1881.1 837.1L1882.6 837.0L1884.1 837.1L1885.6 836.1L1887.1 836.5L1888.6 836.7L1890.1 836.6L1891.6 836.9L1893.1 836.7L1894.6 836.1L1896.1 836.1L1897.6 836.2L1899.1 837.3L1900.6 836.9L1902.1 837.4L1903.6 836.6L1905.1 837.0L1906.6 836.6L1908.1 836.7L1909.6 837.0L1911.1 837.1L1912.6 837.2L1914.1 837.0L1915.6 836.9L1917.1 836.5L1918.6 836.1L1920.1 836.1L1921.6 836.4L1923.1 837.2L1924.6 836.7L1926.1 836.4L1927.6 837.2L1929.1 837.2L1930.6 836.4L1932.1 836.1L1933.6 836.4L1935.1 836.1L1936.6 836.6L1938.1 837.1L1939.6 836.9L1941.1 836.2L1942.6 836.1L1944.1 836.2L1945.6 836.8L1947.1 836.1L1948.6 836.1L1950.1 836.1L1951.6 836.1L1953.1 836.5L1954.6 837.0L1956.1 837.1L1957.6 837.3L1959.1 837.4L1960.6 837.5L1962.1 836.9L1963.6 837.4L1965.1 837.4L1966.6 836.8L1968.1 836.3L1969.6 837.5L1971.1 837.4L1972.6 836.4L1974.1 836.8L1975.6 837.3" stroke="#fa5005" stroke-width="9.8" fill="none" stroke-linejoin="round" stroke-linecap="butt"/>
<path d="M181 146V269" stroke="#0073c2" stroke-width="12" fill="none"/>
<path d="M181.5 148.2L181.6 149.6L181.7 151.1L181.7 152.6L181.8 154.1L181.8 155.6L181.9 157.1L181.9 158.6L182.0 160.1L182.0 161.6L182.1 163.1L182.1 164.6L182.1 166.1L182.2 167.6L182.2 169.1L182.3 170.6L182.3 172.1L182.3 173.5L182.3 175.0L182.4 176.5L182.4 178.0L182.4 179.5L182.5 181.0L182.5 182.5L182.5 184.0L182.5 185.5L182.6 187.0L182.6 188.5L182.6 190.0L182.6 191.5L182.7 193.0L182.7 194.5L182.7 196.0L182.7 197.5L182.8 199.0L182.8 200.5L182.8 202.0L182.8 203.5L182.9 205.0L182.9 206.4L182.9 207.9L183.0 209.4L183.0 210.9L183.0 212.4L183.1 213.9L183.1 215.4L183.1 216.9L183.2 218.4L183.2 219.9L183.2 221.4L183.3 222.9L183.3 224.4L183.4 225.9L183.4 227.4L183.5 228.9L183.5 230.4L183.6 231.9L183.6 233.4L183.7 234.9L183.8 236.4L183.8 237.9L183.9 239.4L184.0 240.9L184.1 242.4L184.1 243.9L184.2 245.4L184.3 246.9L184.4 248.4L184.5 249.9L184.6 251.4L184.7 252.9L184.8 254.4L184.9 255.9L185.0 257.4L185.1 258.9L185.2 260.4L185.4 261.9L185.5 263.4L185.6 264.9L185.7 266.4L185.9 267.9L186.0 269.4L186.1 270.9L186.3 272.4L186.4 273.9L186.5 275.4L186.7 276.8L186.8 278.3L186.9 279.8L187.0 281.3L187.2 282.8L187.3 284.3L187.4 285.8L187.5 287.3L187.7 288.8L187.8 290.3L187.9 291.8L188.0 293.3L188.1 294.8L188.2 296.3L188.4 297.8L188.5 299.3L188.6 300.8L188.7 302.3L188.8 303.8L188.9 305.3L189.0 306.8L189.1 308.3L189.2 309.8L189.3 311.3L189.4 312.8L189.5 314.3L189.6 315.8L189.7 317.3L189.8 318.8L189.9 320.3L190.0 321.8L190.1 323.3L190.2 324.8L190.3 326.3L190.4 327.8L190.5 329.3L190.6 330.8L190.7 332.3L190.8 333.8L190.9 335.3L191.0 336.8L191.1 338.3L191.1 339.8L191.2 341.4L191.3 342.9L191.4 344.4L191.5 345.9L191.6 347.4L191.7 348.9L191.8 350.4L191.8 351.9L191.9 353.4L192.0 354.9L192.1 356.4L192.2 357.9L192.3 359.4L192.3 360.9L192.4 362.4L192.5 363.9L192.6 365.4L192.7 366.9L192.7 368.4L192.8 369.9L192.9 371.4L193.0 372.9L193.1 374.4L193.1 375.9L193.2 377.4L193.3 378.9L193.4 380.4L193.5 381.9L193.5 383.4L193.6 384.9L193.7 386.4L193.8 387.9L193.9 389.4L193.9 390.9L194.0 392.4L194.1 393.9L194.2 395.4L194.2 396.9L194.3 398.4L194.4 399.9L194.5 401.4L194.6 402.9L194.6 404.4L194.7 405.9L194.8 407.4L194.9 408.9L195.0 410.4L195.0 411.9L195.1 413.4L195.2 414.9L195.3 416.4L195.4 417.9L195.4 419.4L195.5 420.9L195.6 422.4L195.7 423.9L195.8 425.4L195.8 426.9L195.9 428.4L196.0 429.9L196.1 431.4L196.2 432.9L196.3 434.4L196.3 435.9L196.4 437.4L196.5 438.9L196.6 440.4L196.7 441.9L196.8 443.4L196.8 444.9L196.9 446.4L197.0 447.9L197.1 449.4L197.2 450.9L197.3 452.4L197.4 453.9L197.4 455.4L197.5 456.9L197.6 458.4L197.7 459.9L197.8 461.4L197.9 462.9L198.0 464.4L198.0 465.9L198.1 467.4L198.2 468.9L198.3 470.4L198.4 471.9L198.5 473.4L198.6 474.9L198.7 476.4L198.7 477.9L198.8 479.4L198.9 480.9L199.0 482.4L199.1 483.9L199.2 485.4L199.3 486.9L199.4 488.4L199.5 489.9L199.5 491.4L199.6 492.9L199.7 494.4L199.8 495.9L199.9 497.4L200.0 498.9L200.1 500.4L200.2 501.9L200.3 503.4L200.3 504.9L200.4 506.4L200.5 507.9L200.6 509.4L200.7 510.9L200.8 512.4L200.9 513.9L201.0 515.4L201.1 516.9L201.2 518.4L201.3 519.9L201.3 521.4L201.4 522.9L201.5 524.4L201.6 525.9L201.7 527.4L201.8 528.9L201.9 530.4L202.0 531.9L202.1 533.4L202.2 534.9L202.3 536.4L202.4 537.9L202.5 539.4L202.5 540.9L202.6 542.4L202.7 543.9L202.8 545.4L202.9 546.9L203.0 548.4L203.1 549.9L203.2 551.4L203.3 552.9L203.4 554.4L203.5 555.9L203.6 557.4L203.7 558.9L203.8 560.3L203.9 561.8L203.9 563.3L204.0 564.8L204.1 566.3L204.2 567.8L204.3 569.3L204.4 570.8L204.5 572.3L204.6 573.8L204.7 575.3L204.8 576.8L204.9 578.3L205.0 579.8L205.1 581.3L205.2 582.8L205.3 584.3L205.4 585.8L205.5 587.3L205.5 588.8L205.6 590.3L205.7 591.8L205.8 593.3L205.9 594.8L206.0 596.3L206.1 597.8L206.2 599.2L206.3 600.7L206.4 602.2L206.5 603.7L206.6 605.2L206.7 606.7L206.8 608.2L206.9 609.7L207.0 611.2L207.1 612.7L207.2 614.2L207.3 615.7L207.4 617.2L207.5 618.7L207.5 620.2L207.6 621.7L207.7 623.2L207.8 624.7L207.9 626.1L208.0 627.6L208.1 629.1L208.2 630.6L208.3 632.1L208.4 633.6L208.5 635.1L208.6 636.6L208.7 638.1L208.8 639.6L208.9 641.1L209.0 642.6L209.1 644.1L209.2 645.6L209.3 647.0L209.4 648.5L209.5 650.0L209.6 651.5L209.6 653.0L209.7 654.5L209.8 656.0L209.9 657.5L210.0 659.0L210.1 660.5L210.2 662.0L210.3 663.5L210.4 665.0L210.5 666.4L210.6 667.9L210.7 669.4L210.8 670.9L210.9 672.4L211.0 673.9L211.2 675.4L211.3 676.9L211.4 678.4L211.5 679.9L211.6 681.4L211.7 682.9L211.8 684.4L211.9 685.9L212.0 687.3L212.1 688.8L212.3 690.3L212.4 691.8L212.5 693.3L212.6 694.8L212.7 696.3L212.9 697.8L213.0 699.3L213.1 700.8L213.2 702.3L213.4 703.8L213.5 705.3L213.6 706.8L213.8 708.3L213.9 709.8L214.0 711.3L214.2 712.8L214.3 714.3L214.5 715.8L214.6 717.3L214.8 718.8L214.9 720.3L215.1 721.8L215.2 723.3L215.4 724.8L215.5 726.3L215.7 727.8L215.9 729.3L216.0 730.8L216.2 732.3L216.4 733.8L216.5 735.3L216.7 736.8L216.9 738.3L217.1 739.8L217.2 741.3L217.4 742.8L217.6 744.3L217.8 745.8L218.0 747.3L218.2 748.8L218.4 750.3L218.6 751.8L218.8 753.4L219.0 754.9L219.2 756.4L219.4 757.9L219.7 759.4L219.9 760.9L220.1 762.4L220.3 763.9L220.6 765.4L220.8 767.0L221.0 768.5L221.3 770.0L221.5 771.5L221.7 773.0L222.0 774.5L222.3 776.1L222.5 777.6L222.8 779.1L223.0 780.6L223.3 782.1L223.6 783.6L223.9 785.1L224.2 786.6L224.5 788.1L224.9 789.6L225.2 791.1L225.6 792.5L226.0 793.8L226.4 795.2L226.8 796.6L227.2 798.0L227.7 799.3L228.2 800.6L228.7 802.1L229.2 803.3L229.8 804.4L230.3 805.5L231.0 806.9L231.6 808.2L232.3 809.1L233.0 810.8L233.7 812.3L234.5 813.5L235.3 814.6L236.2 815.8L237.1 816.9L238.0 817.9L238.9 818.9L239.9 820.0L241.0 819.7L242.0 821.5L243.1 822.1L244.3 822.7L245.4 824.2L246.6 824.2L247.8 825.0L249.1 826.2L250.3 826.2L251.6 827.5L252.9 827.5L254.3 828.1L255.7 828.9L257.0 829.8L258.5 830.0L259.9 830.3L261.3 831.5L262.8 832.2L264.3 832.4L265.7 832.5L267.2 831.6L268.7 832.4L270.3 832.4L271.8 832.2L273.3 831.9L274.9 833.0L276.4 833.1L277.9 832.3L279.5 832.5L281.0 832.6L282.5 833.3L284.1 832.7L285.6 833.6L287.1 833.9L288.6 834.4L290.2 833.1L291.7 834.2L293.2 834.6L294.7 834.8L296.2 833.6L297.8 834.9L299.3 835.1L300.8 835.2L302.3 834.7L303.8 834.1L305.3 833.9L306.8 834.2L308.3 834.3L309.8 834.9L311.3 834.8L312.8 835.5L314.4 835.1L315.9 834.5L317.4 836.0L318.9 835.3L320.3 835.2L321.8 836.1L323.3 835.5L324.8 835.3L326.3 835.3L327.8 835.5L329.3 835.6L330.8 835.5L332.3 837.0L333.8 837.1L335.3 837.2L336.8 837.3L338.3 836.8L339.8 837.4L341.2 836.8L342.7 836.7L344.2 836.7L345.7 836.8L347.2 836.7L348.7 836.8L350.2 837.2L351.7 837.4L353.2 837.2L354.6 837.7L356.1 837.9L357.6 837.6L359.1 836.9L360.6 837.1L362.1 838.4L363.6 838.5L365.1 837.5L366.5 838.3L368.0 837.3L369.5 837.7L371.0 838.5L372.5 837.6L374.0 837.5L375.5 837.8L377.0 837.9L378.5 837.7L380.0 838.7L381.5 838.8L383.0 838.1L384.5 838.4L386.0 839.2L387.5 839.5L389.0 839.3L390.5 839.3L392.0 839.6L393.5 839.5L395.0 838.9L396.5 838.7L398.0 838.6L399.5 838.7L401.0 838.9L402.5 839.0L404.0 839.2L405.5 839.3L407.0 840.2L408.6 840.3L410.1 839.9L411.6 839.3L413.1 840.4L414.6 840.4L416.2 839.9L417.7 839.3L419.2 839.8L420.7 840.2L422.2 840.5L423.8 839.1L425.3 840.0L426.8 840.7L428.3 840.7L429.9 839.5L431.4 840.2L432.9 839.6L434.4 839.3L436.0 840.6L437.5 841.1L439.0 841.1L440.5 840.7L442.1 840.2L443.6 841.3L445.1 840.3L446.6 840.8L448.1 840.8L449.6 840.2L451.2 840.6L452.7 840.3L454.2 840.4L455.7 840.7L457.2 841.2L458.7 841.9L460.2 842.0L461.7 842.7L463.2 842.1L464.7 841.6L466.2 842.0L467.7 841.9L469.2 842.1L470.7 842.4L472.2 842.9L473.7 842.8L475.2 843.2L476.6 844.0L478.1 844.3L479.6 843.3L481.1 843.7L482.5 844.3L484.0 844.5L485.5 845.2L486.9 845.1L488.4 846.4L489.8 847.0L491.3 846.7L492.7 846.6L494.2 847.0L495.6 848.0L497.0 847.6L498.4 847.7L499.9 848.0L501.3 849.2L502.7 850.4L504.1 850.9L505.5 851.3L506.9 851.4L508.3 850.7L509.7 851.6L511.1 851.7L512.5 852.1L513.9 853.2L515.3 853.6L516.7 855.2L518.1 855.6L519.4 855.9L520.8 855.8L522.2 855.9L523.5 856.9L524.9 857.5L526.3 858.0L527.6 859.1L529.0 859.2L530.3 859.8L531.7 860.3L533.0 861.2L534.4 863.0L535.7 863.0L537.0 863.2L538.4 863.7L539.7 865.0L541.0 865.4L542.4 865.8L543.7 866.5L545.0 867.8L546.3 868.7L547.7 868.4L549.0 870.3L550.3 870.1L551.6 870.5L552.9 871.5L554.2 872.8L555.5 873.0L556.9 874.0L558.2 875.4L559.5 876.4L560.8 877.2L562.1 878.0L563.4 878.2L564.7 878.6L566.0 879.1L567.3 880.0L568.5 881.1L569.8 882.3L571.1 882.8L572.4 883.5L573.7 883.3L575.0 884.3L576.3 886.1L577.6 887.3L578.8 888.0L580.1 889.0L581.4 889.8L582.7 889.8L584.0 890.3L585.2 891.2L586.5 893.0L587.8 893.8L589.1 894.7L590.3 895.3L591.6 896.2L592.9 895.9L594.2 896.3L595.4 897.5L596.7 898.1L598.0 899.8L599.2 900.5L600.5 901.3L601.8 901.6L603.0 902.5L604.3 903.4L605.6 904.1L606.8 904.7L608.1 905.8L609.4 908.0L610.6 908.9L611.9 909.1L613.2 910.3L614.4 910.1L615.7 910.9L616.9 912.5L618.2 912.5L619.5 913.6L620.7 914.3L622.0 914.9L623.3 916.3L624.5 917.3L625.8 917.5L627.1 918.6L628.3 919.2L629.6 919.9L630.9 922.4L632.1 923.2L633.4 924.1L634.7 924.9L635.9 925.6L637.2 925.4L638.5 926.4L639.7 927.3L641.0 929.1L642.3 929.7L643.5 929.9L644.8 930.3L646.1 931.7L647.4 932.5L648.6 933.5L649.9 934.6L651.2 935.6L652.5 936.4L653.7 937.1L655.0 938.0L656.3 937.8L657.6 938.6L658.9 939.5L660.1 940.1L661.4 940.5L662.7 942.5L664.0 943.5L665.3 944.3L666.6 945.1L667.9 945.8L669.2 946.0L670.5 946.2L671.7 946.5L673.0 947.6L674.3 949.0L675.6 949.6L676.9 949.9L678.2 950.3L679.5 951.0L680.9 951.6L682.2 953.2L683.5 953.2L684.8 954.1L686.1 954.5L687.4 955.7L688.7 956.4L690.0 957.6L691.4 957.7L692.7 958.1L694.0 959.0L695.3 960.4L696.7 960.9L698.0 961.7L699.3 961.9L700.7 962.1L702.0 962.5L703.3 964.2L704.7 964.2L706.0 964.9L707.4 965.8L708.7 966.5L710.1 966.7L711.4 967.6L712.8 969.0L714.1 968.2L715.5 969.1L716.8 969.3L718.2 969.9L719.6 970.7L720.9 972.4L722.3 972.8L723.7 972.1L725.0 972.6L726.4 973.5L727.8 974.6L729.2 975.0L730.5 976.2L731.9 977.0L733.3 977.3L734.7 976.6L736.1 977.7L737.4 978.0L738.8 978.7L740.2 979.5L741.6 980.2L743.0 980.4L744.4 981.2L745.8 981.9L747.2 981.9L748.6 982.7L750.0 982.3L751.4 982.6L752.8 983.2L754.2 983.6L755.6 984.4L757.0 984.8L758.4 985.1L759.8 985.6L761.2 986.3L762.6 986.6L764.1 987.3L765.5 987.7L766.9 988.1L768.3 988.7L769.7 989.0L771.1 989.7L772.6 990.8L774.0 991.3L775.4 991.0L776.8 991.7L778.3 992.1L779.7 992.4L781.1 993.3L782.6 993.6L784.0 994.3L785.4 994.4L786.9 994.8L788.3 995.1L789.8 996.0L791.2 996.4L792.6 996.7L794.1 997.1L795.5 997.4L797.0 998.3L798.4 998.3L799.9 999.3L801.3 999.2L802.8 999.6L804.2 1001.1L805.7 1001.1L807.1 1001.8L808.6 1001.5L810.0 1001.9L811.5 1002.6L812.9 1003.0L814.4 1003.5L815.9 1003.7L817.3 1004.6L818.8 1004.6L820.2 1005.0L821.7 1005.3L823.2 1006.4L824.6 1007.1L826.1 1006.4L827.6 1007.0L829.0 1007.2L830.5 1007.8L832.0 1009.0L833.4 1009.6L834.9 1009.9L836.4 1010.2L837.9 1009.4L839.3 1009.3L840.8 1009.4L842.3 1009.7L843.8 1009.9L845.2 1010.2L846.7 1010.5L848.2 1011.2L849.7 1012.3L851.2 1012.3L852.7 1012.5L854.1 1012.6L855.6 1012.3L857.1 1012.9L858.6 1012.6L860.1 1012.5L861.6 1013.0L863.0 1012.7L864.5 1013.4L866.0 1014.1L867.5 1013.8L869.0 1014.3L870.5 1013.2L872.0 1013.7L873.5 1015.1L875.0 1014.6L876.5 1015.4L878.0 1015.1L879.5 1015.2L880.9 1015.3L882.4 1014.6L883.9 1015.4L885.4 1014.6L886.9 1014.8L888.4 1014.9L889.9 1015.4L891.4 1015.3L892.9 1016.2L894.4 1016.9L895.9 1016.1L897.4 1017.2L898.9 1017.2L900.4 1017.6L901.9 1017.4L903.4 1016.6L904.9 1016.4L906.4 1017.0L907.9 1017.1L909.4 1017.5L910.9 1017.0L912.4 1016.9L913.9 1017.1L915.4 1017.7L917.0 1017.4L918.5 1017.9L920.0 1018.1L921.5 1018.4L923.0 1018.1L924.5 1017.8L926.0 1018.2L927.5 1018.0L929.0 1018.5L930.5 1019.4L932.0 1019.5L933.5 1019.0L935.0 1020.0L936.5 1020.0L938.0 1019.6L939.5 1020.1L941.1 1019.1L942.6 1019.4L944.1 1019.2L945.6 1019.8L947.1 1020.4L948.6 1020.7L950.1 1021.1L951.6 1021.1L953.1 1021.3L954.6 1020.7L956.1 1019.9L957.6 1020.1L959.1 1020.5L960.7 1020.5L962.2 1020.2L963.7 1021.2L965.2 1020.4L966.7 1022.0L968.2 1022.1L969.7 1022.2L971.2 1021.8L972.7 1020.9L974.2 1021.1L975.7 1020.9L977.2 1021.1L978.7 1022.1L980.2 1021.2L981.7 1022.3L983.2 1022.7L984.8 1021.6L986.3 1023.0L987.8 1022.0L989.3 1021.8L990.8 1022.2L992.3 1022.5L993.8 1022.0L995.3 1022.2L996.8 1022.1L998.3 1022.7L999.8 1022.2L1001.3 1022.4L1002.8 1022.2L1004.3 1022.6L1005.8 1022.3L1007.3 1022.6L1008.8 1022.6L1010.3 1022.7L1011.8 1023.3L1013.3 1023.5L1014.8 1023.9L1016.3 1023.6L1017.8 1023.2L1019.3 1023.9L1020.8 1023.3L1022.3 1024.0L1023.8 1024.3L1025.3 1023.2L1026.8 1023.3L1028.2 1024.0L1029.7 1024.2L1031.2 1023.8L1032.7 1024.2L1034.2 1023.6L1035.7 1024.8L1037.2 1024.0L1038.7 1024.3L1040.2 1025.3L1041.7 1024.8L1043.1 1024.8L1044.6 1024.3L1046.1 1024.4L1047.6 1024.2L1049.1 1024.4L1050.6 1024.4L1052.1 1025.0L1053.5 1025.4L1055.0 1025.9L1056.5 1024.3L1058.0 1024.7L1059.5 1024.8L1060.9 1025.3L1062.4 1025.6L1063.9 1025.7L1065.4 1026.3L1066.8 1026.1L1068.3 1025.8L1069.8 1025.8L1071.2 1025.0L1072.7 1025.5L1074.2 1025.4L1075.7 1025.0" stroke="#0073c2" stroke-width="12.5" fill="none" stroke-linejoin="round" stroke-linecap="butt"/>
<path d="M181.5 148.2L181.6 149.6L181.7 151.1L181.7 152.6L181.8 154.1L181.8 155.6L181.9 157.1L181.9 158.6L182.0 160.1L182.0 161.6L182.1 163.1L182.1 164.6L182.1 166.1L182.2 167.6L182.2 169.1L182.3 170.6L182.3 172.1L182.3 173.5L182.3 175.0L182.4 176.5L182.4 178.0L182.4 179.5L182.5 181.0L182.5 182.5L182.5 184.0L182.5 185.5L182.6 187.0L182.6 188.5L182.6 190.0L182.6 191.5L182.7 193.0L182.7 194.5L182.7 196.0L182.7 197.5L182.8 199.0L182.8 200.5L182.8 202.0L182.8 203.5L182.9 205.0L182.9 206.4L182.9 207.9L183.0 209.4L183.0 210.9L183.0 212.4L183.1 213.9L183.1 215.4L183.1 216.9L183.2 218.4L183.2 219.9L183.2 221.4L183.3 222.9L183.3 224.4L183.4 225.9L183.4 227.4L183.5 228.9L183.5 230.4L183.6 231.9L183.6 233.4L183.7 234.9L183.8 236.4L183.8 237.9L183.9 239.4L184.0 240.9L184.1 242.4L184.1 243.9L184.2 245.4L184.3 246.9L184.4 248.4L184.5 249.9L184.6 251.4L184.7 252.9L184.8 254.4L184.9 255.9L185.0 257.4L185.1 258.9L185.2 260.4L185.4 261.9L185.5 263.4L185.6 264.9L185.7 266.4L185.9 267.9L186.0 269.4L186.1 270.9L186.3 272.4L186.4 273.9L186.5 275.4L186.7 276.8L186.8 278.3L186.9 279.8L187.0 281.3L187.2 282.8L187.3 284.3L187.4 285.8L187.5 287.3L187.7 288.8L187.8 290.3L187.9 291.8L188.0 293.3L188.1 294.8L188.2 296.3L188.4 297.8L188.5 299.3L188.6 300.8L188.7 302.3L188.8 303.8L188.9 305.3L189.0 306.8L189.1 308.3L189.2 309.8L189.3 311.3L189.4 312.8L189.5 314.3L189.6 315.8L189.7 317.3L189.8 318.8L189.9 320.3L190.0 321.8L190.1 323.3L190.2 324.8L190.3 326.3L190.4 327.8L190.5 329.3L190.6 330.8L190.7 332.3L190.8 333.8L190.9 335.3L191.0 336.8L191.1 338.3L191.1 339.8L191.2 341.4L191.3 342.9L191.4 344.4L191.5 345.9L191.6 347.4L191.7 348.9L191.8 350.4L191.8 351.9L191.9 353.4L192.0 354.9L192.1 356.4L192.2 357.9L192.3 359.4L192.3 360.9L192.4 362.4L192.5 363.9L192.6 365.4L192.7 366.9L192.7 368.4L192.8 369.9L192.9 371.4L193.0 372.9L193.1 374.4L193.1 375.9L193.2 377.4L193.3 378.9L193.4 380.4L193.5 381.9L193.5 383.4L193.6 384.9L193.7 386.4L193.8 387.9L193.9 389.4L193.9 390.9L194.0 392.4L194.1 393.9L194.2 395.4L194.2 396.9L194.3 398.4L194.4 399.9L194.5 401.4L194.6 402.9L194.6 404.4L194.7 405.9L194.8 407.4L194.9 408.9L195.0 410.4L195.0 411.9L195.1 413.4L195.2 414.9L195.3 416.4L195.4 417.9L195.4 419.4L195.5 420.9L195.6 422.4L195.7 423.9L195.8 425.4L195.8 426.9L195.9 428.4L196.0 429.9L196.1 431.4L196.2 432.9L196.3 434.4L196.3 435.9L196.4 437.4L196.5 438.9L196.6 440.4L196.7 441.9L196.8 443.4L196.8 444.9L196.9 446.4L197.0 447.9L197.1 449.4L197.2 450.9L197.3 452.4L197.4 453.9L197.4 455.4L197.5 456.9L197.6 458.4L197.7 459.9L197.8 461.4L197.9 462.9L198.0 464.4L198.0 465.9L198.1 467.4L198.2 468.9L198.3 470.4L198.4 471.9L198.5 473.4L198.6 474.9L198.7 476.4L198.7 477.9L198.8 479.4L198.9 480.9L199.0 482.4L199.1 483.9L199.2 485.4L199.3 486.9L199.4 488.4L199.5 489.9L199.5 491.4L199.6 492.9L199.7 494.4L199.8 495.9L199.9 497.4L200.0 498.9L200.1 500.4L200.2 501.9L200.3 503.4L200.3 504.9L200.4 506.4L200.5 507.9L200.6 509.4L200.7 510.9L200.8 512.4L200.9 513.9L201.0 515.4L201.1 516.9L201.2 518.4L201.3 519.9L201.3 521.4L201.4 522.9L201.5 524.4L201.6 525.9L201.7 527.4L201.8 528.9L201.9 530.4L202.0 531.9L202.1 533.4L202.2 534.9L202.3 536.4L202.4 537.9L202.5 539.4L202.5 540.9L202.6 542.4L202.7 543.9L202.8 545.4L202.9 546.9L203.0 548.4L203.1 549.9L203.2 551.4L203.3 552.9L203.4 554.4L203.5 555.9L203.6 557.4L203.7 558.9L203.8 560.3L203.9 561.8L203.9 563.3L204.0 564.8L204.1 566.3L204.2 567.8L204.3 569.3L204.4 570.8L204.5 572.3L204.6 573.8L204.7 575.3L204.8 576.8L204.9 578.3L205.0 579.8L205.1 581.3L205.2 582.8L205.3 584.3L205.4 585.8L205.5 587.3L205.5 588.8L205.6 590.3L205.7 591.8L205.8 593.3L205.9 594.8L206.0 596.3L206.1 597.8L206.2 599.2L206.3 600.7L206.4 602.2L206.5 603.7L206.6 605.2L206.7 606.7L206.8 608.2L206.9 609.7L207.0 611.2L207.1 612.7L207.2 614.2L207.3 615.7L207.4 617.2L207.5 618.7L207.5 620.2L207.6 621.7L207.7 623.2L207.8 624.7L207.9 626.1L208.0 627.6L208.1 629.1L208.2 630.6L208.3 632.1L208.4 633.6L208.5 635.1L208.6 636.6L208.7 638.1L208.8 639.6L208.9 641.1L209.0 642.6L209.1 644.1L209.2 645.6L209.3 647.0L209.4 648.5L209.5 650.0L209.6 651.5L209.6 653.0L209.7 654.5L209.8 656.0L209.9 657.5L210.0 659.0L210.1 660.5L210.2 662.0L210.3 663.5L210.4 665.0L210.5 666.4L210.6 667.9L210.7 669.4L210.8 670.9L210.9 672.4L211.0 673.9L211.2 675.4L211.3 676.9L211.4 678.4L211.5 679.9L211.6 681.4L211.7 682.9L211.8 684.4L211.9 685.9L212.0 687.3L212.1 688.8L212.3 690.3L212.4 691.8L212.5 693.3L212.6 694.8L212.7 696.3L212.9 697.8L213.0 699.3L213.1 700.8L213.2 702.3L213.4 703.8L213.5 705.3L213.6 706.8L213.8 708.3L213.9 709.8L214.0 711.3L214.2 712.8L214.3 714.3L214.5 715.8L214.6 717.3L214.8 718.8L214.9 720.3L215.1 721.8L215.2 723.3L215.4 724.8L215.5 726.3L215.7 727.8L215.9 729.3L216.0 730.8L216.2 732.3L216.4 733.8L216.5 735.3L216.7 736.8L216.9 738.3L217.1 739.8L217.2 741.3L217.4 742.8L217.6 744.3L217.8 745.8L218.0 747.3L218.2 748.8L218.4 750.3L218.6 751.8L218.8 753.4L219.0 754.9L219.2 756.4L219.4 757.9L219.7 759.4L219.9 760.9L220.1 762.4L220.3 763.9L220.6 765.4L220.8 767.0L221.0 768.5L221.3 770.0L221.5 771.5L221.7 773.0L222.0 774.5L222.3 776.1L222.5 777.6L222.8 779.1L223.0 780.6L223.3 782.1L223.6 783.6L223.9 785.1L224.2 786.6L224.5 788.1L224.9 789.6L225.2 791.2L225.6 792.7L226.0 794.3L226.4 795.9L226.8 797.4L227.2 798.8L227.7 800.4L228.2 801.8L228.7 803.5L229.2 804.7L229.8 805.9L230.3 807.2L231.0 809.0L231.6 810.4L232.3 811.8L233.0 812.7L233.7 814.4L234.5 815.2L235.3 816.7L236.2 818.6L237.1 819.5L238.0 820.7L238.9 821.5L239.9 823.4L241.0 824.5L242.0 825.1L243.1 825.5L244.3 827.3L245.4 828.3L246.6 829.3L247.8 830.0L249.1 829.8L250.3 830.4L251.6 831.1L252.9 831.7L254.3 832.3L255.7 834.0L257.0 834.8L258.5 835.4L259.9 834.9L261.3 835.4L262.8 836.4L264.3 836.4L265.7 835.4L267.2 836.7L268.7 836.5L270.3 836.5L271.8 837.4L273.3 837.4L274.9 837.2L276.4 836.6L277.9 837.1L279.5 838.1L281.0 838.2L282.5 838.1L284.1 838.2L285.6 837.7L287.1 838.5L288.6 838.7L290.2 838.8L291.7 838.3L293.2 838.9L294.7 838.5L296.2 839.0L297.8 839.0L299.3 839.0L300.8 838.9L302.3 838.9L303.8 838.9L305.3 838.5L306.8 838.2L308.3 838.2L309.8 838.3L311.3 838.4L312.8 839.7L314.4 840.1L315.9 840.0L317.4 839.6L318.9 839.8L320.3 840.1L321.8 840.6L323.3 840.7L324.8 839.8L326.3 840.8L327.8 840.6L329.3 840.0L330.8 839.6L332.3 840.0L333.8 840.4L335.3 840.9L336.8 841.3L338.3 841.4L339.8 841.5L341.2 841.3L342.7 841.4L344.2 841.3L345.7 841.9L347.2 841.9L348.7 842.1L350.2 842.1L351.7 842.3L353.2 841.7L354.6 841.3L356.1 841.8L357.6 841.5L359.1 841.4L360.6 842.4L362.1 842.6L363.6 842.1L365.1 841.6L366.5 841.4L368.0 841.8L369.5 842.7L371.0 843.1L372.5 842.3L374.0 843.1L375.5 842.7L377.0 842.0L378.5 841.9L380.0 842.0L381.5 842.5L383.0 843.0L384.5 843.3L386.0 843.3L387.5 842.9L389.0 842.8L390.5 843.8L392.0 843.7L393.5 843.8L395.0 843.3L396.5 843.8L398.0 842.6L399.5 842.7L401.0 842.7L402.5 842.7L404.0 844.1L405.5 844.0L407.0 844.0L408.6 843.7L410.1 844.1L411.6 844.4L413.1 843.8L414.6 844.5L416.2 844.4L417.7 844.4L419.2 843.5L420.7 844.7L422.2 844.3L423.8 843.5L425.3 843.4L426.8 843.6L428.3 844.2L429.9 844.7L431.4 843.6L432.9 843.7L434.4 844.6L436.0 845.3L437.5 844.8L439.0 845.2L440.5 845.2L442.1 845.3L443.6 845.0L445.1 844.5L446.6 844.7L448.1 845.9L449.6 845.7L451.2 845.8L452.7 846.0L454.2 845.5L455.7 846.2L457.2 845.7L458.7 846.1L460.2 846.4L461.7 846.4L463.2 846.2L464.7 847.1L466.2 847.1L467.7 846.6L469.2 847.0L470.7 847.5L472.2 846.5L473.7 846.7L475.2 848.1L476.6 848.2L478.1 847.4L479.6 847.9L481.1 848.4L482.5 848.8L484.0 849.1L485.5 849.1L486.9 850.1L488.4 850.2L489.8 850.1L491.3 850.6L492.7 850.5L494.2 850.9L495.6 851.2L497.0 851.4L498.4 851.8L499.9 852.2L501.3 853.3L502.7 853.6L504.1 853.8L505.5 854.0L506.9 854.4L508.3 855.7L509.7 856.5L511.1 856.8L512.5 857.9L513.9 857.7L515.3 858.5L516.7 859.3L518.1 859.7L519.4 860.3L520.8 860.9L522.2 860.5L523.5 861.0L524.9 862.3L526.3 862.7L527.6 864.0L529.0 864.6L530.3 865.5L531.7 865.0L533.0 866.6L534.4 866.5L535.7 866.8L537.0 867.0L538.4 868.5L539.7 869.5L541.0 870.6L542.4 870.8L543.7 871.8L545.0 872.2L546.3 872.6L547.7 873.9L549.0 874.7L550.3 875.1L551.6 875.2L552.9 876.4L554.2 877.7L555.5 878.4L556.9 879.1L558.2 878.9L559.5 880.2L560.8 880.4L562.1 881.3L563.4 882.4L564.7 882.4L566.0 884.5L567.3 884.3L568.5 884.5L569.8 885.2L571.1 886.7L572.4 888.1L573.7 889.0L575.0 888.4L576.3 889.3L577.6 890.4L578.8 891.9L580.1 892.4L581.4 893.2L582.7 893.3L584.0 894.5L585.2 895.0L586.5 895.8L587.8 897.6L589.1 898.1L590.3 898.6L591.6 900.3L592.9 901.2L594.2 902.3L595.4 902.0L596.7 903.5L598.0 903.9L599.2 904.6L600.5 905.2L601.8 906.3L603.0 907.5L604.3 908.4L605.6 908.8L606.8 910.2L608.1 910.7L609.4 911.7L610.6 911.8L611.9 913.6L613.2 914.2L614.4 915.6L615.7 915.9L616.9 917.4L618.2 917.1L619.5 918.2L620.7 919.7L622.0 919.8L623.3 921.4L624.5 922.1L625.8 923.1L627.1 923.5L628.3 924.6L629.6 924.2L630.9 925.6L632.1 926.9L633.4 927.4L634.7 929.1L635.9 929.9L637.2 930.7L638.5 930.7L639.7 932.0L641.0 931.7L642.3 932.6L643.5 933.7L644.8 935.3L646.1 935.5L647.4 936.6L648.6 937.7L649.9 938.5L651.2 938.7L652.5 939.5L653.7 941.0L655.0 942.1L656.3 942.4L657.6 943.1L658.9 944.6L660.1 945.3L661.4 945.8L662.7 947.0L664.0 947.3L665.3 948.6L666.6 949.0L667.9 949.8L669.2 950.9L670.5 951.1L671.7 951.3L673.0 951.7L674.3 953.8L675.6 954.6L676.9 955.4L678.2 955.1L679.5 955.2L680.9 955.9L682.2 956.8L683.5 957.8L684.8 959.5L686.1 959.7L687.4 961.1L688.7 961.5L690.0 961.9L691.4 962.9L692.7 963.1L694.0 963.2L695.3 964.5L696.7 965.5L698.0 966.3L699.3 966.4L700.7 967.7L702.0 968.4L703.3 968.5L704.7 969.3L706.0 969.9L707.4 970.1L708.7 971.5L710.1 972.0L711.4 971.8L712.8 973.0L714.1 973.8L715.5 973.7L716.8 973.5L718.2 974.0L719.6 974.6L720.9 976.3L722.3 976.7L723.7 977.3L725.0 977.9L726.4 978.7L727.8 978.4L729.2 978.5L730.5 979.1L731.9 979.6L733.3 981.0L734.7 982.4L736.1 982.1L737.4 983.2L738.8 984.0L740.2 983.7L741.6 983.9L743.0 984.7L744.4 985.6L745.8 986.4L747.2 986.9L748.6 987.3L750.0 987.1L751.4 988.2L752.8 988.4L754.2 988.3L755.6 988.5L757.0 990.1L758.4 990.3L759.8 991.1L761.2 991.5L762.6 992.1L764.1 992.0L765.5 992.5L766.9 993.8L768.3 993.5L769.7 994.7L771.1 994.8L772.6 995.8L774.0 995.2L775.4 995.6L776.8 997.3L778.3 997.5L779.7 998.1L781.1 998.2L782.6 998.1L784.0 998.8L785.4 999.7L786.9 999.6L788.3 999.6L789.8 1000.3L791.2 1001.4L792.6 1001.2L794.1 1002.4L795.5 1002.4L797.0 1002.3L798.4 1002.5L799.9 1004.0L801.3 1003.7L802.8 1005.0L804.2 1004.9L805.7 1005.3L807.1 1006.8L808.6 1006.7L810.0 1006.2L811.5 1007.1L812.9 1007.9L814.4 1008.5L815.9 1008.0L817.3 1009.3L818.8 1009.3L820.2 1010.0L821.7 1010.8L823.2 1011.2L824.6 1011.5L826.1 1011.8L827.6 1012.2L829.0 1012.7L830.5 1012.8L832.0 1013.5L833.4 1012.9L834.9 1013.0L836.4 1014.3L837.9 1014.1L839.3 1014.5L840.8 1014.7L842.3 1014.5L843.8 1015.2L845.2 1015.3L846.7 1015.7L848.2 1015.5L849.7 1016.2L851.2 1016.0L852.7 1016.8L854.1 1016.4L855.6 1016.8L857.1 1017.4L858.6 1017.9L860.1 1017.9L861.6 1018.0L863.0 1017.7L864.5 1018.3L866.0 1018.6L867.5 1018.6L869.0 1018.9L870.5 1018.7L872.0 1018.9L873.5 1019.4L875.0 1019.4L876.5 1019.3L878.0 1019.1L879.5 1018.9L880.9 1019.0L882.4 1019.2L883.9 1020.1L885.4 1019.7L886.9 1019.3L888.4 1019.6L889.9 1020.7L891.4 1019.4L892.9 1020.0L894.4 1019.7L895.9 1021.5L897.4 1021.3L898.9 1021.6L900.4 1021.8L901.9 1021.7L903.4 1021.7L904.9 1021.6L906.4 1021.7L907.9 1022.2L909.4 1022.3L910.9 1022.0L912.4 1022.8L913.9 1022.9L915.4 1022.9L917.0 1023.2L918.5 1022.3L920.0 1022.9L921.5 1023.1L923.0 1023.4L924.5 1023.3L926.0 1023.2L927.5 1023.9L929.0 1023.5L930.5 1023.7L932.0 1023.9L933.5 1023.5L935.0 1022.8L936.5 1022.9L938.0 1023.8L939.5 1023.2L941.1 1024.0L942.6 1024.9L944.1 1024.4L945.6 1023.7L947.1 1024.5L948.6 1025.3L950.1 1025.3L951.6 1025.4L953.1 1024.5L954.6 1024.0L956.1 1024.3L957.6 1025.2L959.1 1025.3L960.7 1024.9L962.2 1025.9L963.7 1025.7L965.2 1025.2L966.7 1025.3L968.2 1025.7L969.7 1025.9L971.2 1026.2L972.7 1026.2L974.2 1025.4L975.7 1025.2L977.2 1026.1L978.7 1026.8L980.2 1026.9L981.7 1027.0L983.2 1026.3L984.8 1026.1L986.3 1026.0L987.8 1027.1L989.3 1027.3L990.8 1026.8L992.3 1026.9L993.8 1027.7L995.3 1027.3L996.8 1026.9L998.3 1027.0L999.8 1026.4L1001.3 1026.4L1002.8 1026.4L1004.3 1028.0L1005.8 1027.0L1007.3 1027.5L1008.8 1027.1L1010.3 1028.2L1011.8 1028.1L1013.3 1027.3L1014.8 1027.2L1016.3 1027.0L1017.8 1027.1L1019.3 1028.7L1020.8 1028.7L1022.3 1027.5L1023.8 1027.3L1025.3 1028.5L1026.8 1027.6L1028.2 1027.5L1029.7 1027.6L1031.2 1027.6L1032.7 1028.7L1034.2 1027.8L1035.7 1027.8L1037.2 1027.9L1038.7 1028.3L1040.2 1029.2L1041.7 1029.7L1043.1 1028.4L1044.6 1029.8L1046.1 1029.2L1047.6 1029.4L1049.1 1029.6L1050.6 1028.7L1052.1 1030.0L1053.5 1030.2L1055.0 1029.7L1056.5 1030.0L1058.0 1028.7L1059.5 1028.7L1060.9 1028.8L1062.4 1028.8L1063.9 1030.2L1065.4 1030.3L1066.8 1029.5L1068.3 1030.2L1069.8 1030.6L1071.2 1030.4L1072.7 1030.5L1074.2 1030.9L1075.7 1030.7" stroke="#0073c2" stroke-width="12.5" fill="none" stroke-linejoin="round" stroke-linecap="butt"/>
<path d="M1076 1030V160L1078.5 112" stroke="#0073c2" stroke-width="12.5" fill="none" stroke-linejoin="miter"/>
<path d="M1078.5 112.0L1078.5 113.5L1078.6 115.0L1078.7 116.5L1078.7 118.0L1078.8 119.5L1078.8 121.0L1078.9 122.5L1078.9 124.0L1079.0 125.5L1079.1 127.0L1079.1 128.5L1079.2 130.0L1079.2 131.5L1079.3 133.0L1079.3 134.5L1079.4 136.0L1079.5 137.5L1079.5 139.0L1079.6 140.5L1079.6 142.0L1079.7 143.5L1079.7 145.0L1079.8 146.5L1079.8 148.0L1079.9 149.5L1080.0 151.0L1080.0 152.5L1080.1 154.0L1080.1 155.5L1080.2 157.0L1080.2 158.5L1080.3 160.0L1080.3 161.5L1080.4 163.0L1080.4 164.5L1080.5 166.0L1080.6 167.5L1080.6 169.0L1080.7 170.6L1080.7 172.1L1080.8 173.6L1080.8 175.1L1080.9 176.6L1080.9 178.1L1081.0 179.6L1081.0 181.1L1081.1 182.6L1081.1 184.1L1081.2 185.6L1081.3 187.1L1081.3 188.6L1081.4 190.1L1081.4 191.6L1081.5 193.1L1081.5 194.6L1081.6 196.1L1081.6 197.6L1081.7 199.1L1081.7 200.6L1081.8 202.1L1081.8 203.6L1081.9 205.1L1081.9 206.6L1082.0 208.1L1082.0 209.6L1082.1 211.1L1082.2 212.6L1082.2 214.1L1082.3 215.6L1082.3 217.1L1082.4 218.6L1082.4 220.1L1082.5 221.6L1082.5 223.1L1082.6 224.6L1082.6 226.1L1082.7 227.6L1082.7 229.1L1082.8 230.6L1082.8 232.1L1082.9 233.6L1082.9 235.1L1083.0 236.6L1083.1 238.1L1083.1 239.6L1083.2 241.1L1083.2 242.6L1083.3 244.1L1083.3 245.6L1083.4 247.1L1083.4 248.6L1083.5 250.1L1083.5 251.6L1083.6 253.1L1083.6 254.6L1083.7 256.1L1083.8 257.6L1083.8 259.1L1083.9 260.6L1083.9 262.1L1084.0 263.6L1084.0 265.1L1084.1 266.6L1084.1 268.1L1084.2 269.6L1084.3 271.1L1084.3 272.6L1084.4 274.1L1084.4 275.6L1084.5 277.1L1084.5 278.6L1084.6 280.1L1084.6 281.6L1084.7 283.1L1084.8 284.6L1084.8 286.1L1084.9 287.6L1084.9 289.1L1085.0 290.6L1085.0 292.2L1085.1 293.7L1085.2 295.2L1085.2 296.7L1085.3 298.2L1085.3 299.7L1085.4 301.2L1085.4 302.7L1085.5 304.2L1085.6 305.7L1085.6 307.2L1085.7 308.7L1085.7 310.2L1085.8 311.7L1085.9 313.2L1085.9 314.7L1086.0 316.2L1086.0 317.7L1086.1 319.2L1086.2 320.7L1086.2 322.2L1086.3 323.7L1086.4 325.2L1086.4 326.7L1086.5 328.2L1086.5 329.7L1086.6 331.2L1086.7 332.7L1086.7 334.2L1086.8 335.7L1086.9 337.2L1086.9 338.7L1087.0 340.2L1087.1 341.7L1087.1 343.2L1087.2 344.7L1087.2 346.2L1087.3 347.7L1087.4 349.2L1087.4 350.7L1087.5 352.2L1087.6 353.7L1087.6 355.2L1087.7 356.7L1087.8 358.2L1087.8 359.7L1087.9 361.2L1088.0 362.7L1088.1 364.2L1088.1 365.7L1088.2 367.2L1088.3 368.7L1088.3 370.2L1088.4 371.7L1088.5 373.2L1088.5 374.7L1088.6 376.2L1088.7 377.7L1088.8 379.2L1088.8 380.7L1088.9 382.2L1089.0 383.7L1089.0 385.2L1089.1 386.7L1089.2 388.2L1089.3 389.7L1089.3 391.2L1089.4 392.7L1089.5 394.2L1089.6 395.7L1089.6 397.2L1089.7 398.7L1089.8 400.2L1089.9 401.7L1090.0 403.2L1090.0 404.7L1090.1 406.2L1090.2 407.7L1090.3 409.2L1090.3 410.7L1090.4 412.2L1090.5 413.7L1090.6 415.2L1090.7 416.7L1090.8 418.2L1090.8 419.7L1090.9 421.2L1091.0 422.7L1091.1 424.2L1091.2 425.7L1091.3 427.2L1091.3 428.7L1091.4 430.2L1091.5 431.7L1091.6 433.2L1091.7 434.7L1091.8 436.2L1091.9 437.7L1091.9 439.2L1092.0 440.7L1092.1 442.2L1092.2 443.7L1092.3 445.2L1092.4 446.7L1092.5 448.2L1092.6 449.7L1092.7 451.2L1092.7 452.7L1092.8 454.2L1092.9 455.7L1093.0 457.2L1093.1 458.7L1093.2 460.2L1093.3 461.7L1093.4 463.2L1093.5 464.7L1093.6 466.2L1093.7 467.7L1093.8 469.2L1093.9 470.7L1094.0 472.2L1094.1 473.7L1094.2 475.2L1094.3 476.7L1094.4 478.2L1094.5 479.7L1094.6 481.2L1094.6 482.7L1094.7 484.2L1094.8 485.7L1094.9 487.2L1095.0 488.7L1095.1 490.2L1095.2 491.7L1095.3 493.2L1095.4 494.7L1095.5 496.2L1095.6 497.7L1095.7 499.2L1095.8 500.7L1095.9 502.2L1096.1 503.7L1096.2 505.2L1096.3 506.7L1096.4 508.2L1096.5 509.7L1096.6 511.2L1096.7 512.7L1096.8 514.2L1096.9 515.7L1097.0 517.2L1097.1 518.7L1097.2 520.2L1097.3 521.7L1097.4 523.2L1097.5 524.7L1097.6 526.2L1097.7 527.7L1097.8 529.2L1097.9 530.7L1098.0 532.2L1098.1 533.7L1098.2 535.2L1098.3 536.7L1098.5 538.2L1098.6 539.7L1098.7 541.2L1098.8 542.7L1098.9 544.2L1099.0 545.7L1099.1 547.2L1099.2 548.7L1099.3 550.2L1099.4 551.7L1099.5 553.2L1099.6 554.7L1099.7 556.2L1099.8 557.7L1100.0 559.2L1100.1 560.7L1100.2 562.2L1100.3 563.7L1100.4 565.2L1100.5 566.7L1100.6 568.2L1100.7 569.7L1100.8 571.2L1100.9 572.7L1101.0 574.2L1101.1 575.7L1101.3 577.2L1101.4 578.7L1101.5 580.2L1101.6 581.6L1101.7 583.1L1101.8 584.6L1101.9 586.1L1102.0 587.6L1102.1 589.1L1102.2 590.6L1102.3 592.1L1102.5 593.6L1102.6 595.1L1102.7 596.6L1102.8 598.1L1102.9 599.6L1103.0 601.1L1103.1 602.6L1103.2 604.1L1103.3 605.6L1103.4 607.1L1103.5 608.6L1103.7 610.1L1103.8 611.6L1103.9 613.1L1104.0 614.6L1104.1 616.1L1104.2 617.6L1104.3 619.1L1104.4 620.6L1104.5 622.1L1104.6 623.6L1104.7 625.1L1104.8 626.6L1104.9 628.1L1105.1 629.6L1105.2 631.1L1105.3 632.6L1105.4 634.1L1105.5 635.6L1105.6 637.1L1105.7 638.6L1105.8 640.1L1105.9 641.5L1106.0 643.0L1106.1 644.5L1106.2 646.0L1106.3 647.5L1106.4 649.0L1106.5 650.5L1106.6 652.0L1106.8 653.5L1106.9 655.0L1107.0 656.5L1107.1 658.0L1107.2 659.5L1107.3 661.0L1107.4 662.5L1107.5 664.0L1107.6 665.5L1107.7 667.0L1107.8 668.5L1107.9 670.0L1108.0 671.5L1108.1 673.0L1108.2 674.5L1108.3 676.0L1108.4 677.5L1108.5 679.0L1108.6 680.5L1108.7 682.0L1108.8 683.4L1108.9 684.9L1109.0 686.4L1109.1 687.9L1109.2 689.4L1109.3 690.9L1109.4 692.4L1109.5 693.9L1109.6 695.4L1109.7 696.9L1109.8 698.4L1109.9 699.9L1110.0 701.4L1110.1 702.9L1110.2 704.4L1110.3 705.9L1110.4 707.4L1110.5 708.9L1110.6 710.4L1110.7 711.9L1110.8 713.4L1110.9 714.9L1111.0 716.4L1111.1 717.8L1111.3 719.3L1111.4 720.8L1111.5 722.3L1111.6 723.8L1111.7 725.3L1111.9 726.8L1112.0 728.3L1112.1 729.8L1112.3 731.3L1112.4 732.8L1112.5 734.3L1112.7 735.8L1112.8 737.3L1113.0 738.8L1113.2 740.3L1113.3 741.8L1113.5 743.2L1113.7 744.7L1113.8 746.2L1114.0 747.7L1114.2 749.2L1114.4 750.7L1114.6 752.2L1114.8 753.7L1115.0 755.2L1115.2 756.7L1115.4 758.2L1115.7 759.7L1115.9 761.2L1116.1 762.7L1116.4 764.1L1116.6 765.6L1116.9 767.1L1117.1 768.6L1117.4 770.1L1117.7 771.6L1118.0 773.1L1118.3 774.6L1118.6 776.1L1118.9 777.6L1119.2 779.1L1119.5 780.5L1119.9 782.0L1120.2 783.5L1120.6 785.0L1120.9 786.5L1121.3 788.0L1121.7 789.5L1122.1 790.9L1122.5 792.3L1122.9 793.7L1123.3 795.1L1123.7 796.6L1124.2 797.9L1124.6 799.4L1125.1 800.7L1125.6 802.2L1126.2 803.7L1126.7 804.9L1127.3 805.8L1127.9 807.5L1128.5 809.1L1129.2 810.4L1129.9 811.6L1130.6 812.9L1131.4 813.9L1132.2 815.2L1133.0 815.8L1133.9 817.3L1134.8 818.6L1135.8 819.6L1136.8 820.6L1137.9 821.4L1138.9 821.7L1140.0 822.5L1141.2 824.2L1142.3 825.1L1143.5 825.8L1144.8 826.6L1146.0 826.0L1147.3 826.4L1148.6 827.1L1150.0 827.6L1151.3 828.5L1152.7 829.1L1154.1 829.7L1155.5 831.0L1156.9 831.1L1158.4 830.5L1159.8 830.4L1161.3 831.3L1162.8 831.6L1164.3 831.9L1165.8 832.1L1167.3 832.0L1168.8 831.5L1170.3 832.9L1171.8 831.9L1173.3 832.6L1174.9 832.5L1176.4 832.8L1177.9 832.3L1179.4 833.6L1181.0 832.5L1182.5 833.1L1184.0 833.3L1185.5 833.6L1187.0 833.3L1188.5 833.5L1190.1 834.2L1191.6 833.7L1193.1 833.5L1194.6 833.5L1196.1 833.7L1197.6 834.2L1199.1 834.2L1200.6 835.1L1202.1 835.5L1203.6 835.5L1205.1 834.6L1206.6 835.3L1208.1 835.6L1209.6 835.3L1211.1 835.3L1212.6 834.9L1214.1 834.8L1215.6 835.1L1217.1 835.4L1218.6 836.6L1220.1 836.3L1221.6 836.8L1223.1 836.8L1224.6 836.2L1226.1 835.9L1227.6 835.6L1229.1 835.5L1230.6 835.7L1232.1 836.1L1233.6 836.1L1235.1 836.8L1236.6 837.2L1238.1 837.1L1239.5 837.7L1241.0 837.2L1242.5 836.5L1244.0 837.6L1245.5 837.6L1247.0 837.8L1248.5 838.2L1250.0 837.9L1251.5 837.9L1253.0 837.8L1254.5 837.7L1256.0 837.6L1257.5 837.3L1258.9 837.6L1260.4 837.2L1261.9 837.7L1263.4 838.6L1264.9 838.4L1266.4 838.3L1267.9 837.5L1269.4 838.1L1270.9 838.5L1272.4 839.2L1273.9 838.8L1275.4 838.3L1276.9 839.1L1278.4 838.6L1279.9 839.5L1281.4 839.5L1282.9 839.0L1284.4 839.0L1285.9 838.1L1287.4 838.5L1288.9 838.4L1290.4 838.8L1291.9 838.3L1293.4 838.7L1294.9 838.3L1296.5 838.4L1298.0 838.5L1299.5 838.9L1301.0 838.6L1302.5 839.2L1304.0 840.2L1305.5 838.9L1307.1 839.0L1308.6 838.6L1310.1 839.7L1311.6 839.2L1313.2 839.0L1314.7 840.0L1316.2 839.6L1317.7 839.5L1319.2 839.9L1320.8 839.4L1322.3 840.0L1323.8 840.2L1325.3 839.9L1326.9 839.7L1328.4 839.8L1329.9 839.8L1331.4 839.6L1333.0 840.5L1334.5 840.3L1336.0 840.9L1337.5 841.1L1339.0 840.8L1340.6 840.0L1342.1 840.4L1343.6 840.7L1345.1 840.8L1346.6 840.4L1348.1 840.8L1349.7 840.7L1351.2 840.7L1352.7 841.2L1354.2 841.6L1355.7 841.8L1357.2 841.7L1358.7 841.0L1360.2 841.6L1361.7 841.5L1363.2 842.3L1364.7 842.0L1366.2 842.0L1367.7 842.2L1369.1 842.6L1370.6 843.3L1372.1 843.5L1373.6 843.6L1375.1 844.0L1376.5 844.0L1378.0 844.0L1379.5 844.3L1380.9 844.6L1382.4 844.6L1383.9 844.9L1385.3 845.3L1386.8 845.5L1388.2 845.9L1389.6 846.3L1391.1 847.3L1392.5 848.3L1393.9 848.9L1395.4 849.3L1396.8 849.3L1398.2 849.1L1399.6 849.5L1401.0 849.5L1402.4 850.1L1403.8 850.5L1405.2 851.0L1406.6 851.5L1408.0 851.9L1409.4 852.5L1410.8 853.6L1412.2 854.2L1413.6 854.5L1415.0 854.8L1416.3 855.3L1417.7 856.0L1419.1 857.2L1420.4 858.3L1421.8 858.9L1423.2 859.5L1424.5 859.9L1425.9 859.7L1427.2 860.2L1428.6 860.5L1429.9 861.3L1431.3 861.7L1432.6 862.4L1433.9 863.6L1435.3 864.1L1436.6 864.6L1437.9 865.5L1439.3 865.6L1440.6 866.8L1441.9 867.1L1443.2 867.9L1444.6 869.1L1445.9 869.2L1447.2 870.1L1448.5 871.4L1449.8 871.6L1451.1 873.2L1452.4 873.7L1453.7 874.3L1455.1 875.2L1456.4 876.4L1457.7 877.4L1459.0 878.1L1460.3 878.9L1461.6 878.2L1462.9 878.9L1464.1 879.7L1465.4 880.5L1466.7 881.3L1468.0 882.1L1469.3 883.3L1470.6 883.5L1471.9 885.1L1473.2 885.2L1474.5 887.3L1475.7 887.6L1477.0 889.0L1478.3 889.0L1479.6 889.1L1480.9 890.1L1482.1 890.9L1483.4 892.5L1484.7 893.0L1486.0 893.9L1487.2 894.6L1488.5 895.1L1489.8 896.5L1491.1 896.8L1492.3 897.9L1493.6 899.2L1494.9 900.7L1496.1 901.5L1497.4 901.9L1498.7 901.6L1499.9 904.0L1501.2 904.7L1502.5 905.7L1503.7 906.5L1505.0 907.1L1506.3 908.2L1507.5 907.6L1508.8 908.3L1510.1 909.7L1511.3 910.4L1512.6 911.5L1513.9 911.8L1515.1 913.3L1516.4 914.2L1517.7 914.5L1518.9 915.5L1520.2 916.8L1521.4 917.6L1522.7 918.7L1524.0 918.8L1525.2 919.2L1526.5 921.0L1527.8 921.8L1529.0 921.9L1530.3 923.0L1531.6 924.1L1532.8 924.3L1534.1 925.1L1535.4 926.1L1536.6 927.4L1537.9 929.2L1539.2 930.1L1540.5 930.9L1541.7 931.7L1543.0 932.5L1544.3 933.3L1545.6 934.2L1546.8 934.7L1548.1 934.5L1549.4 935.0L1550.7 936.0L1551.9 937.2L1553.2 939.0L1554.5 939.3L1555.8 940.6L1557.1 941.4L1558.4 941.1L1559.6 942.5L1560.9 942.1L1562.2 943.3L1563.5 944.4L1564.8 944.7L1566.1 945.7L1567.4 946.4L1568.7 947.1L1570.0 948.3L1571.3 949.0L1572.6 949.2L1573.9 950.0L1575.2 951.1L1576.5 951.2L1577.8 952.0L1579.1 953.6L1580.4 954.9L1581.7 955.6L1583.0 956.3L1584.3 955.9L1585.7 956.2L1587.0 956.8L1588.3 958.0L1589.6 959.3L1591.0 959.7L1592.3 960.8L1593.6 961.3L1594.9 961.4L1596.3 962.2L1597.6 962.6L1599.0 963.0L1600.3 963.7L1601.6 964.2L1603.0 964.5L1604.3 965.9L1605.7 967.0L1607.0 967.2L1608.4 967.9L1609.7 968.3L1611.1 968.3L1612.4 968.9L1613.8 970.5L1615.2 970.8L1616.5 971.0L1617.9 971.4L1619.2 972.3L1620.6 973.3L1622.0 973.8L1623.4 975.0L1624.7 975.1L1626.1 974.9L1627.5 975.2L1628.9 975.5L1630.2 976.2L1631.6 977.0L1633.0 977.2L1634.4 977.8L1635.8 978.6L1637.2 978.9L1638.5 979.7L1639.9 980.7L1641.3 980.6L1642.7 981.4L1644.1 982.8L1645.5 983.4L1646.9 983.3L1648.3 982.9L1649.7 984.8L1651.1 985.4L1652.5 985.9L1653.9 986.4L1655.4 986.9L1656.8 987.4L1658.2 986.8L1659.6 987.6L1661.0 988.2L1662.4 988.3L1663.8 988.7L1665.3 988.6L1666.7 989.3L1668.1 989.6L1669.5 991.3L1670.9 991.9L1672.4 992.3L1673.8 991.6L1675.2 993.5L1676.7 994.0L1678.1 994.5L1679.5 994.9L1680.9 994.7L1682.4 994.4L1683.8 994.8L1685.3 995.2L1686.7 995.9L1688.1 996.0L1689.6 996.7L1691.0 997.1L1692.5 997.9L1693.9 998.0L1695.4 998.6L1696.8 1000.0L1698.2 999.9L1699.7 1000.1L1701.1 1000.8L1702.6 1002.1L1704.1 1001.2L1705.5 1001.8L1707.0 1002.2L1708.4 1003.5L1709.9 1004.3L1711.3 1004.2L1712.8 1005.1L1714.3 1004.9L1715.7 1005.5L1717.2 1006.2L1718.6 1006.4L1720.1 1006.4L1721.6 1006.3L1723.0 1006.8L1724.5 1006.9L1726.0 1007.5L1727.4 1008.3L1728.9 1008.1L1730.4 1008.2L1731.9 1009.5L1733.3 1010.3L1734.8 1010.5L1736.3 1010.8L1737.8 1011.1L1739.2 1010.0L1740.7 1010.2L1742.2 1010.3L1743.7 1010.7L1745.1 1010.8L1746.6 1011.6L1748.1 1011.5L1749.6 1011.5L1751.1 1011.8L1752.6 1011.6L1754.0 1011.8L1755.5 1012.0L1757.0 1013.0L1758.5 1012.8L1760.0 1012.5L1761.5 1012.5L1763.0 1013.8L1764.5 1013.5L1765.9 1013.3L1767.4 1013.2L1768.9 1014.1L1770.4 1013.6L1771.9 1013.9L1773.4 1014.7L1774.9 1015.5L1776.4 1015.7L1777.9 1015.4L1779.4 1015.2L1780.9 1014.5L1782.4 1014.6L1783.9 1015.4L1785.4 1015.3L1786.9 1015.5L1788.4 1015.1L1789.9 1015.7L1791.4 1015.5L1792.9 1015.7L1794.4 1015.8L1795.9 1016.1L1797.4 1016.7L1798.9 1017.1L1800.4 1016.5L1801.9 1016.4L1803.4 1016.6L1804.9 1016.9L1806.4 1017.1L1807.9 1016.8L1809.4 1017.5L1810.9 1018.0L1812.4 1018.4L1813.9 1018.2L1815.4 1018.3L1816.9 1017.9L1818.4 1018.3L1819.9 1018.7L1821.4 1018.1L1822.9 1018.5L1824.4 1018.1L1825.9 1018.7L1827.4 1018.3L1829.0 1018.4L1830.5 1018.6L1832.0 1018.7L1833.5 1018.7L1835.0 1019.4L1836.5 1019.3L1838.0 1019.1L1839.5 1019.8L1841.0 1019.5L1842.5 1019.9L1844.0 1019.7L1845.5 1020.0L1847.0 1020.0L1848.6 1021.1L1850.1 1021.4L1851.6 1020.9L1853.1 1020.5L1854.6 1020.5L1856.1 1020.6L1857.6 1021.1L1859.1 1021.4L1860.6 1021.3L1862.1 1020.5L1863.6 1020.6L1865.1 1020.6L1866.7 1021.4L1868.2 1021.9L1869.7 1021.2L1871.2 1021.0L1872.7 1021.3L1874.2 1021.2L1875.7 1021.6L1877.2 1021.2L1878.7 1021.7L1880.2 1021.7L1881.7 1021.5L1883.2 1022.3L1884.7 1022.2L1886.2 1022.4L1887.7 1021.8L1889.3 1022.1L1890.8 1023.2L1892.3 1022.3L1893.8 1023.5L1895.3 1023.5L1896.8 1022.4L1898.3 1022.9L1899.8 1023.0L1901.3 1022.5L1902.8 1022.7L1904.3 1023.5L1905.8 1024.2L1907.3 1024.2L1908.8 1024.3L1910.3 1023.4L1911.8 1023.1L1913.3 1024.3L1914.8 1024.5L1916.3 1024.6L1917.8 1024.6L1919.3 1024.7L1920.8 1024.7L1922.3 1023.9L1923.8 1024.1L1925.3 1023.9L1926.8 1024.2L1928.2 1024.0L1929.7 1023.7L1931.2 1024.0L1932.7 1024.4L1934.2 1023.9L1935.7 1023.8L1937.2 1024.0L1938.7 1024.8L1940.2 1024.6L1941.7 1024.9L1943.2 1024.7L1944.6 1023.9L1946.1 1024.1L1947.6 1024.3L1949.1 1024.0L1950.6 1024.9L1952.1 1024.5L1953.5 1025.0L1955.0 1024.7L1956.5 1024.6L1958.0 1024.5L1959.5 1024.4L1960.9 1024.4L1962.4 1024.6L1963.9 1024.5L1965.4 1024.7L1966.9 1024.8L1968.3 1025.5L1969.8 1026.1L1971.3 1026.1L1972.7 1025.6L1974.2 1024.9L1975.7 1024.8L1977.2 1024.8L1978.6 1025.0" stroke="#0073c2" stroke-width="12.5" fill="none" stroke-linejoin="round" stroke-linecap="butt"/>
<path d="M1078.5 112.0L1078.5 113.5L1078.6 115.0L1078.7 116.5L1078.7 118.0L1078.8 119.5L1078.8 121.0L1078.9 122.5L1078.9 124.0L1079.0 125.5L1079.1 127.0L1079.1 128.5L1079.2 130.0L1079.2 131.5L1079.3 133.0L1079.3 134.5L1079.4 136.0L1079.5 137.5L1079.5 139.0L1079.6 140.5L1079.6 142.0L1079.7 143.5L1079.7 145.0L1079.8 146.5L1079.8 148.0L1079.9 149.5L1080.0 151.0L1080.0 152.5L1080.1 154.0L1080.1 155.5L1080.2 157.0L1080.2 158.5L1080.3 160.0L1080.3 161.5L1080.4 163.0L1080.4 164.5L1080.5 166.0L1080.6 167.5L1080.6 169.0L1080.7 170.6L1080.7 172.1L1080.8 173.6L1080.8 175.1L1080.9 176.6L1080.9 178.1L1081.0 179.6L1081.0 181.1L1081.1 182.6L1081.1 184.1L1081.2 185.6L1081.3 187.1L1081.3 188.6L1081.4 190.1L1081.4 191.6L1081.5 193.1L1081.5 194.6L1081.6 196.1L1081.6 197.6L1081.7 199.1L1081.7 200.6L1081.8 202.1L1081.8 203.6L1081.9 205.1L1081.9 206.6L1082.0 208.1L1082.0 209.6L1082.1 211.1L1082.2 212.6L1082.2 214.1L1082.3 215.6L1082.3 217.1L1082.4 218.6L1082.4 220.1L1082.5 221.6L1082.5 223.1L1082.6 224.6L1082.6 226.1L1082.7 227.6L1082.7 229.1L1082.8 230.6L1082.8 232.1L1082.9 233.6L1082.9 235.1L1083.0 236.6L1083.1 238.1L1083.1 239.6L1083.2 241.1L1083.2 242.6L1083.3 244.1L1083.3 245.6L1083.4 247.1L1083.4 248.6L1083.5 250.1L1083.5 251.6L1083.6 253.1L1083.6 254.6L1083.7 256.1L1083.8 257.6L1083.8 259.1L1083.9 260.6L1083.9 262.1L1084.0 263.6L1084.0 265.1L1084.1 266.6L1084.1 268.1L1084.2 269.6L1084.3 271.1L1084.3 272.6L1084.4 274.1L1084.4 275.6L1084.5 277.1L1084.5 278.6L1084.6 280.1L1084.6 281.6L1084.7 283.1L1084.8 284.6L1084.8 286.1L1084.9 287.6L1084.9 289.1L1085.0 290.6L1085.0 292.2L1085.1 293.7L1085.2 295.2L1085.2 296.7L1085.3 298.2L1085.3 299.7L1085.4 301.2L1085.4 302.7L1085.5 304.2L1085.6 305.7L1085.6 307.2L1085.7 308.7L1085.7 310.2L1085.8 311.7L1085.9 313.2L1085.9 314.7L1086.0 316.2L1086.0 317.7L1086.1 319.2L1086.2 320.7L1086.2 322.2L1086.3 323.7L1086.4 325.2L1086.4 326.7L1086.5 328.2L1086.5 329.7L1086.6 331.2L1086.7 332.7L1086.7 334.2L1086.8 335.7L1086.9 337.2L1086.9 338.7L1087.0 340.2L1087.1 341.7L1087.1 343.2L1087.2 344.7L1087.2 346.2L1087.3 347.7L1087.4 349.2L1087.4 350.7L1087.5 352.2L1087.6 353.7L1087.6 355.2L1087.7 356.7L1087.8 358.2L1087.8 359.7L1087.9 361.2L1088.0 362.7L1088.1 364.2L1088.1 365.7L1088.2 367.2L1088.3 368.7L1088.3 370.2L1088.4 371.7L1088.5 373.2L1088.5 374.7L1088.6 376.2L1088.7 377.7L1088.8 379.2L1088.8 380.7L1088.9 382.2L1089.0 383.7L1089.0 385.2L1089.1 386.7L1089.2 388.2L1089.3 389.7L1089.3 391.2L1089.4 392.7L1089.5 394.2L1089.6 395.7L1089.6 397.2L1089.7 398.7L1089.8 400.2L1089.9 401.7L1090.0 403.2L1090.0 404.7L1090.1 406.2L1090.2 407.7L1090.3 409.2L1090.3 410.7L1090.4 412.2L1090.5 413.7L1090.6 415.2L1090.7 416.7L1090.8 418.2L1090.8 419.7L1090.9 421.2L1091.0 422.7L1091.1 424.2L1091.2 425.7L1091.3 427.2L1091.3 428.7L1091.4 430.2L1091.5 431.7L1091.6 433.2L1091.7 434.7L1091.8 436.2L1091.9 437.7L1091.9 439.2L1092.0 440.7L1092.1 442.2L1092.2 443.7L1092.3 445.2L1092.4 446.7L1092.5 448.2L1092.6 449.7L1092.7 451.2L1092.7 452.7L1092.8 454.2L1092.9 455.7L1093.0 457.2L1093.1 458.7L1093.2 460.2L1093.3 461.7L1093.4 463.2L1093.5 464.7L1093.6 466.2L1093.7 467.7L1093.8 469.2L1093.9 470.7L1094.0 472.2L1094.1 473.7L1094.2 475.2L1094.3 476.7L1094.4 478.2L1094.5 479.7L1094.6 481.2L1094.6 482.7L1094.7 484.2L1094.8 485.7L1094.9 487.2L1095.0 488.7L1095.1 490.2L1095.2 491.7L1095.3 493.2L1095.4 494.7L1095.5 496.2L1095.6 497.7L1095.7 499.2L1095.8 500.7L1095.9 502.2L1096.1 503.7L1096.2 505.2L1096.3 506.7L1096.4 508.2L1096.5 509.7L1096.6 511.2L1096.7 512.7L1096.8 514.2L1096.9 515.7L1097.0 517.2L1097.1 518.7L1097.2 520.2L1097.3 521.7L1097.4 523.2L1097.5 524.7L1097.6 526.2L1097.7 527.7L1097.8 529.2L1097.9 530.7L1098.0 532.2L1098.1 533.7L1098.2 535.2L1098.3 536.7L1098.5 538.2L1098.6 539.7L1098.7 541.2L1098.8 542.7L1098.9 544.2L1099.0 545.7L1099.1 547.2L1099.2 548.7L1099.3 550.2L1099.4 551.7L1099.5 553.2L1099.6 554.7L1099.7 556.2L1099.8 557.7L1100.0 559.2L1100.1 560.7L1100.2 562.2L1100.3 563.7L1100.4 565.2L1100.5 566.7L1100.6 568.2L1100.7 569.7L1100.8 571.2L1100.9 572.7L1101.0 574.2L1101.1 575.7L1101.3 577.2L1101.4 578.7L1101.5 580.2L1101.6 581.6L1101.7 583.1L1101.8 584.6L1101.9 586.1L1102.0 587.6L1102.1 589.1L1102.2 590.6L1102.3 592.1L1102.5 593.6L1102.6 595.1L1102.7 596.6L1102.8 598.1L1102.9 599.6L1103.0 601.1L1103.1 602.6L1103.2 604.1L1103.3 605.6L1103.4 607.1L1103.5 608.6L1103.7 610.1L1103.8 611.6L1103.9 613.1L1104.0 614.6L1104.1 616.1L1104.2 617.6L1104.3 619.1L1104.4 620.6L1104.5 622.1L1104.6 623.6L1104.7 625.1L1104.8 626.6L1104.9 628.1L1105.1 629.6L1105.2 631.1L1105.3 632.6L1105.4 634.1L1105.5 635.6L1105.6 637.1L1105.7 638.6L1105.8 640.1L1105.9 641.5L1106.0 643.0L1106.1 644.5L1106.2 646.0L1106.3 647.5L1106.4 649.0L1106.5 650.5L1106.6 652.0L1106.8 653.5L1106.9 655.0L1107.0 656.5L1107.1 658.0L1107.2 659.5L1107.3 661.0L1107.4 662.5L1107.5 664.0L1107.6 665.5L1107.7 667.0L1107.8 668.5L1107.9 670.0L1108.0 671.5L1108.1 673.0L1108.2 674.5L1108.3 676.0L1108.4 677.5L1108.5 679.0L1108.6 680.5L1108.7 682.0L1108.8 683.4L1108.9 684.9L1109.0 686.4L1109.1 687.9L1109.2 689.4L1109.3 690.9L1109.4 692.4L1109.5 693.9L1109.6 695.4L1109.7 696.9L1109.8 698.4L1109.9 699.9L1110.0 701.4L1110.1 702.9L1110.2 704.4L1110.3 705.9L1110.4 707.4L1110.5 708.9L1110.6 710.4L1110.7 711.9L1110.8 713.4L1110.9 714.9L1111.0 716.4L1111.1 717.8L1111.3 719.3L1111.4 720.8L1111.5 722.3L1111.6 723.8L1111.7 725.3L1111.9 726.8L1112.0 728.3L1112.1 729.8L1112.3 731.3L1112.4 732.8L1112.5 734.3L1112.7 735.8L1112.8 737.3L1113.0 738.8L1113.2 740.3L1113.3 741.8L1113.5 743.2L1113.7 744.7L1113.8 746.2L1114.0 747.7L1114.2 749.2L1114.4 750.7L1114.6 752.2L1114.8 753.7L1115.0 755.2L1115.2 756.7L1115.4 758.2L1115.7 759.7L1115.9 761.2L1116.1 762.7L1116.4 764.1L1116.6 765.6L1116.9 767.1L1117.1 768.6L1117.4 770.1L1117.7 771.6L1118.0 773.1L1118.3 774.6L1118.6 776.1L1118.9 777.6L1119.2 779.1L1119.5 780.5L1119.9 782.0L1120.2 783.5L1120.6 785.0L1120.9 786.5L1121.3 788.0L1121.7 789.5L1122.1 791.0L1122.5 792.6L1122.9 794.2L1123.3 795.8L1123.7 797.4L1124.2 798.9L1124.6 800.5L1125.1 802.1L1125.6 803.6L1126.2 805.1L1126.7 806.6L1127.3 808.1L1127.9 809.4L1128.5 811.0L1129.2 812.2L1129.9 813.9L1130.6 815.3L1131.4 816.5L1132.2 817.2L1133.0 819.0L1133.9 820.0L1134.8 821.3L1135.8 822.8L1136.8 823.7L1137.9 825.0L1138.9 825.2L1140.0 825.7L1141.2 826.6L1142.3 827.9L1143.5 829.7L1144.8 830.4L1146.0 831.3L1147.3 831.6L1148.6 832.6L1150.0 833.2L1151.3 833.7L1152.7 834.0L1154.1 833.9L1155.5 834.4L1156.9 834.0L1158.4 834.3L1159.8 834.6L1161.3 835.8L1162.8 836.0L1164.3 836.9L1165.8 837.0L1167.3 836.1L1168.8 836.5L1170.3 837.4L1171.8 836.8L1173.3 837.0L1174.9 837.9L1176.4 837.9L1177.9 837.6L1179.4 837.4L1181.0 838.0L1182.5 837.5L1184.0 838.7L1185.5 838.6L1187.0 838.6L1188.5 838.0L1190.1 838.6L1191.6 838.2L1193.1 838.6L1194.6 837.7L1196.1 837.8L1197.6 838.3L1199.1 838.8L1200.6 839.4L1202.1 839.0L1203.6 839.2L1205.1 839.6L1206.6 840.0L1208.1 839.2L1209.6 839.5L1211.1 839.4L1212.6 839.7L1214.1 839.6L1215.6 840.3L1217.1 840.7L1218.6 840.4L1220.1 840.3L1221.6 840.9L1223.1 840.3L1224.6 841.0L1226.1 840.6L1227.6 840.2L1229.1 840.3L1230.6 841.0L1232.1 841.5L1233.6 841.6L1235.1 841.7L1236.6 840.2L1238.1 840.3L1239.5 840.6L1241.0 842.0L1242.5 840.5L1244.0 841.0L1245.5 840.7L1247.0 841.5L1248.5 841.3L1250.0 840.9L1251.5 841.0L1253.0 841.1L1254.5 842.0L1256.0 842.4L1257.5 842.3L1258.9 842.0L1260.4 842.6L1261.9 841.4L1263.4 841.5L1264.9 841.6L1266.4 841.6L1267.9 843.2L1269.4 842.6L1270.9 842.4L1272.4 842.5L1273.9 843.0L1275.4 843.4L1276.9 843.1L1278.4 842.7L1279.9 842.7L1281.4 843.6L1282.9 843.7L1284.4 843.9L1285.9 844.0L1287.4 843.3L1288.9 843.7L1290.4 843.9L1291.9 844.1L1293.4 844.2L1294.9 844.1L1296.5 844.2L1298.0 843.4L1299.5 844.2L1301.0 844.2L1302.5 844.2L1304.0 843.2L1305.5 844.2L1307.1 842.9L1308.6 843.4L1310.1 844.3L1311.6 844.5L1313.2 844.6L1314.7 844.2L1316.2 844.7L1317.7 844.0L1319.2 844.6L1320.8 844.1L1322.3 844.8L1323.8 843.9L1325.3 844.7L1326.9 844.8L1328.4 844.5L1329.9 844.9L1331.4 843.8L1333.0 844.1L1334.5 843.6L1336.0 844.1L1337.5 844.7L1339.0 845.4L1340.6 845.1L1342.1 844.8L1343.6 844.6L1345.1 844.2L1346.6 844.3L1348.1 844.8L1349.7 846.1L1351.2 846.1L1352.7 845.8L1354.2 845.4L1355.7 846.4L1357.2 846.1L1358.7 845.7L1360.2 845.5L1361.7 845.8L1363.2 846.5L1364.7 846.5L1366.2 847.8L1367.7 847.5L1369.1 848.2L1370.6 848.4L1372.1 848.1L1373.6 848.7L1375.1 848.7L1376.5 847.7L1378.0 848.0L1379.5 848.2L1380.9 848.5L1382.4 849.3L1383.9 850.0L1385.3 850.1L1386.8 850.6L1388.2 851.3L1389.6 852.0L1391.1 852.1L1392.5 852.3L1393.9 852.7L1395.4 853.6L1396.8 853.7L1398.2 853.1L1399.6 853.8L1401.0 854.3L1402.4 855.6L1403.8 855.2L1405.2 855.1L1406.6 855.5L1408.0 856.0L1409.4 856.7L1410.8 858.3L1412.2 859.2L1413.6 859.6L1415.0 859.4L1416.3 860.0L1417.7 861.1L1419.1 861.1L1420.4 861.9L1421.8 862.2L1423.2 862.7L1424.5 863.5L1425.9 864.5L1427.2 864.7L1428.6 865.8L1429.9 865.2L1431.3 865.9L1432.6 867.2L1433.9 868.4L1435.3 867.9L1436.6 868.6L1437.9 869.5L1439.3 871.5L1440.6 871.9L1441.9 872.6L1443.2 873.4L1444.6 873.2L1445.9 874.0L1447.2 874.6L1448.5 875.4L1449.8 875.6L1451.1 876.3L1452.4 877.6L1453.7 878.3L1455.1 879.7L1456.4 880.3L1457.7 881.2L1459.0 881.2L1460.3 882.9L1461.6 883.6L1462.9 884.5L1464.1 884.0L1465.4 886.0L1466.7 887.0L1468.0 887.0L1469.3 887.0L1470.6 887.9L1471.9 888.8L1473.2 891.0L1474.5 891.6L1475.7 892.1L1477.0 891.9L1478.3 892.9L1479.6 894.3L1480.9 895.1L1482.1 896.1L1483.4 897.1L1484.7 897.5L1486.0 898.7L1487.2 899.9L1488.5 900.4L1489.8 901.4L1491.1 902.1L1492.3 902.8L1493.6 903.5L1494.9 904.6L1496.1 905.4L1497.4 905.8L1498.7 906.5L1499.9 907.1L1501.2 908.9L1502.5 910.0L1503.7 910.0L1505.0 911.3L1506.3 912.0L1507.5 912.4L1508.8 912.6L1510.1 913.8L1511.3 914.4L1512.6 916.2L1513.9 916.9L1515.1 917.3L1516.4 917.9L1517.7 918.5L1518.9 919.3L1520.2 920.2L1521.4 922.2L1522.7 923.5L1524.0 924.2L1525.2 924.2L1526.5 925.4L1527.8 926.1L1529.0 927.4L1530.3 928.0L1531.6 927.7L1532.8 928.6L1534.1 929.4L1535.4 930.2L1536.6 931.1L1537.9 932.2L1539.2 933.4L1540.5 934.4L1541.7 934.7L1543.0 935.4L1544.3 936.0L1545.6 936.8L1546.8 938.9L1548.1 939.6L1549.4 940.4L1550.7 941.6L1551.9 942.5L1553.2 943.2L1554.5 944.1L1555.8 944.2L1557.1 945.4L1558.4 945.9L1559.6 947.1L1560.9 947.4L1562.2 948.7L1563.5 948.6L1564.8 950.2L1566.1 950.3L1567.4 950.9L1568.7 951.4L1570.0 952.8L1571.3 954.0L1572.6 954.6L1573.9 954.5L1575.2 956.3L1576.5 956.1L1577.8 957.5L1579.1 957.6L1580.4 958.8L1581.7 959.8L1583.0 960.2L1584.3 960.1L1585.7 961.4L1587.0 962.1L1588.3 962.7L1589.6 963.8L1591.0 964.6L1592.3 964.5L1593.6 965.5L1594.9 966.6L1596.3 967.0L1597.6 966.3L1599.0 967.8L1600.3 968.5L1601.6 969.9L1603.0 970.3L1604.3 970.5L1605.7 970.5L1607.0 971.4L1608.4 971.2L1609.7 971.9L1611.1 973.0L1612.4 974.1L1613.8 974.5L1615.2 975.0L1616.5 975.0L1617.9 975.3L1619.2 976.3L1620.6 976.5L1622.0 977.3L1623.4 977.7L1624.7 978.1L1626.1 979.3L1627.5 979.9L1628.9 981.4L1630.2 981.3L1631.6 981.6L1633.0 983.0L1634.4 983.5L1635.8 983.5L1637.2 984.2L1638.5 984.7L1639.9 985.4L1641.3 986.1L1642.7 986.5L1644.1 986.5L1645.5 987.7L1646.9 987.9L1648.3 988.4L1649.7 988.3L1651.1 989.5L1652.5 989.8L1653.9 989.1L1655.4 989.6L1656.8 990.2L1658.2 990.7L1659.6 991.7L1661.0 991.4L1662.4 991.9L1663.8 992.5L1665.3 993.5L1666.7 993.6L1668.1 994.8L1669.5 994.3L1670.9 995.3L1672.4 996.7L1673.8 996.9L1675.2 997.6L1676.7 997.4L1678.1 998.8L1679.5 999.2L1680.9 999.0L1682.4 999.5L1683.8 1000.3L1685.3 1000.0L1686.7 1000.8L1688.1 1000.6L1689.6 1001.9L1691.0 1002.4L1692.5 1003.0L1693.9 1002.9L1695.4 1003.4L1696.8 1004.1L1698.2 1004.0L1699.7 1005.4L1701.1 1005.5L1702.6 1006.1L1704.1 1006.9L1705.5 1007.2L1707.0 1007.2L1708.4 1006.7L1709.9 1007.7L1711.3 1007.6L1712.8 1008.0L1714.3 1010.0L1715.7 1010.5L1717.2 1010.2L1718.6 1009.9L1720.1 1010.9L1721.6 1011.2L1723.0 1010.9L1724.5 1012.2L1726.0 1011.7L1727.4 1012.5L1728.9 1013.4L1730.4 1013.1L1731.9 1014.2L1733.3 1014.3L1734.8 1014.8L1736.3 1014.7L1737.8 1015.3L1739.2 1015.0L1740.7 1015.8L1742.2 1015.9L1743.7 1016.1L1745.1 1016.3L1746.6 1016.3L1748.1 1016.4L1749.6 1017.0L1751.1 1017.3L1752.6 1017.3L1754.0 1017.2L1755.5 1017.6L1757.0 1017.6L1758.5 1017.4L1760.0 1016.7L1761.5 1017.3L1763.0 1018.4L1764.5 1018.4L1765.9 1018.4L1767.4 1019.1L1768.9 1018.9L1770.4 1018.8L1771.9 1018.6L1773.4 1019.6L1774.9 1019.8L1776.4 1020.0L1777.9 1019.8L1779.4 1019.7L1780.9 1020.2L1782.4 1020.2L1783.9 1020.0L1785.4 1020.0L1786.9 1020.1L1788.4 1020.8L1789.9 1020.9L1791.4 1020.9L1792.9 1021.3L1794.4 1021.1L1795.9 1020.1L1797.4 1021.0L1798.9 1021.6L1800.4 1021.9L1801.9 1020.6L1803.4 1021.0L1804.9 1020.8L1806.4 1020.9L1807.9 1021.1L1809.4 1021.2L1810.9 1021.9L1812.4 1022.4L1813.9 1021.8L1815.4 1023.0L1816.9 1022.7L1818.4 1022.0L1819.9 1023.3L1821.4 1023.8L1822.9 1023.6L1824.4 1022.6L1825.9 1022.7L1827.4 1023.5L1829.0 1023.1L1830.5 1023.6L1832.0 1023.1L1833.5 1022.9L1835.0 1023.0L1836.5 1023.1L1838.0 1023.3L1839.5 1023.9L1841.0 1023.7L1842.5 1025.0L1844.0 1024.4L1845.5 1024.5L1847.0 1025.4L1848.6 1025.3L1850.1 1025.5L1851.6 1025.5L1853.1 1025.1L1854.6 1025.5L1856.1 1025.4L1857.6 1025.6L1859.1 1025.6L1860.6 1025.6L1862.1 1025.4L1863.6 1026.1L1865.1 1026.5L1866.7 1026.3L1868.2 1026.0L1869.7 1025.7L1871.2 1026.1L1872.7 1026.1L1874.2 1026.4L1875.7 1026.6L1877.2 1026.2L1878.7 1026.5L1880.2 1027.0L1881.7 1027.4L1883.2 1027.5L1884.7 1027.2L1886.2 1026.9L1887.7 1026.7L1889.3 1026.6L1890.8 1026.9L1892.3 1027.2L1893.8 1027.1L1895.3 1027.4L1896.8 1026.7L1898.3 1027.0L1899.8 1027.1L1901.3 1026.9L1902.8 1028.1L1904.3 1026.7L1905.8 1027.6L1907.3 1028.1L1908.8 1028.3L1910.3 1027.0L1911.8 1027.0L1913.3 1027.1L1914.8 1027.1L1916.3 1027.9L1917.8 1028.5L1919.3 1028.6L1920.8 1028.3L1922.3 1029.0L1923.8 1028.1L1925.3 1027.6L1926.8 1028.2L1928.2 1028.5L1929.7 1028.9L1931.2 1027.8L1932.7 1027.9L1934.2 1027.8L1935.7 1028.0L1937.2 1028.5L1938.7 1028.6L1940.2 1028.4L1941.7 1028.8L1943.2 1029.3L1944.6 1029.1L1946.1 1028.9L1947.6 1029.0L1949.1 1029.6L1950.6 1029.7L1952.1 1029.7L1953.5 1029.6L1955.0 1029.7L1956.5 1029.9L1958.0 1028.5L1959.5 1028.5L1960.9 1028.5L1962.4 1028.6L1963.9 1028.6L1965.4 1029.6L1966.9 1030.1L1968.3 1030.0L1969.8 1030.2L1971.3 1030.4L1972.7 1030.2L1974.2 1030.2L1975.7 1030.5L1977.2 1029.8L1978.6 1029.3" stroke="#0073c2" stroke-width="12.5" fill="none" stroke-linejoin="round" stroke-linecap="butt"/>
<path d="M182.7 1181.0L182.7 1250.0L183.0 1313.9L184.5 1313.8L186.0 1313.7L187.5 1313.6L189.0 1313.6L190.5 1313.5L192.0 1313.4L193.5 1313.3L195.0 1313.2L196.5 1313.2L198.0 1313.1L199.5 1313.0L201.0 1313.0L202.5 1312.9L204.0 1312.9L205.5 1312.8L207.0 1312.8L208.5 1312.7L210.0 1312.7L211.5 1312.6L213.0 1312.6L214.5 1312.5L216.0 1312.5L217.5 1312.5L219.0 1312.4L220.5 1312.4L222.0 1312.4L223.5 1312.3L225.0 1312.3L226.5 1312.3L228.0 1312.3L229.5 1312.2L231.0 1312.2L232.5 1312.2L234.0 1312.2L235.5 1312.2L237.0 1312.2L238.5 1312.1L240.0 1312.1L241.5 1312.1L243.0 1312.1L244.6 1312.1L246.1 1312.1L247.6 1312.1L249.1 1312.1L250.6 1312.1L252.1 1312.1L253.6 1312.1L255.1 1312.1L256.6 1312.1L258.1 1312.1L259.6 1312.1L261.1 1312.1L262.6 1312.1L264.1 1312.1L265.6 1312.1L267.1 1312.1L268.6 1312.1L270.1 1312.1L271.6 1312.1L273.1 1312.1L274.6 1312.1L276.1 1312.1L277.6 1312.1L279.1 1312.1L280.6 1312.1L282.1 1312.1L283.6 1312.1L285.2 1312.1L286.7 1312.1L288.2 1312.1L289.7 1312.1L291.2 1312.1L292.7 1312.1L294.2 1312.1L295.7 1312.1L297.2 1312.1L298.7 1312.1L300.2 1312.1L301.7 1312.1L303.2 1312.1L304.7 1312.1L306.2 1312.1L307.7 1312.1L309.2 1312.1L310.7 1312.0L312.3 1312.0L313.8 1312.0L315.3 1312.0L316.8 1312.0L318.3 1312.0L319.8 1311.9L321.3 1311.9L322.8 1311.9L324.3 1311.8L325.8 1311.8L327.3 1311.8L328.8 1311.7L330.3 1311.7L331.8 1311.7L333.3 1311.6L334.9 1311.6L336.4 1311.5L337.9 1311.5L339.4 1311.4L340.9 1311.4L342.4 1311.3L343.9 1311.3L345.4 1311.2L346.9 1311.2L348.4 1311.1L349.9 1311.0L351.4 1310.9L353.0 1310.9L354.5 1310.8L356.0 1310.7L357.5 1310.6L359.0 1310.5L360.5 1310.4L362.0 1310.3L363.5 1310.3L365.0 1310.2L366.5 1310.0L368.0 1309.9L369.5 1309.8L371.1 1309.7L372.6 1309.6L374.1 1309.5L375.6 1309.3L377.1 1309.2L378.6 1309.1L380.1 1308.9L381.6 1308.8L383.1 1308.7L384.6 1308.5L386.1 1308.3L387.7 1308.2L389.2 1308.0L390.7 1307.9L392.2 1307.7L393.7 1307.5L395.2 1307.3L396.7 1307.1L398.2 1307.0L399.7 1306.8L401.2 1306.6L402.7 1306.4L404.3 1306.1L405.8 1305.9L407.3 1305.7L408.8 1305.5L410.3 1305.3L411.8 1305.0L413.3 1304.8L414.8 1304.5L416.3 1304.3L417.8 1304.0L419.3 1303.8L420.8 1303.5L422.3 1303.2L423.8 1302.9L425.3 1302.6L426.8 1302.3L428.3 1302.0L429.8 1301.7L431.2 1301.4L432.7 1301.1L434.2 1300.8L435.7 1300.4L437.2 1300.1L438.6 1299.8L440.1 1299.4L441.6 1299.0L443.0 1298.7L444.5 1298.3L445.9 1297.9L447.4 1297.5L448.9 1297.1L450.3 1296.7L451.7 1296.3L453.2 1295.9L454.6 1295.5L456.1 1295.0L457.5 1294.6L458.9 1294.1L460.3 1293.7L461.7 1293.2L463.2 1292.7L464.6 1292.2L466.0 1291.7L467.4 1291.2L468.8 1290.7L470.1 1290.2L471.5 1289.7L472.9 1289.1L474.3 1288.6L475.6 1288.0L477.0 1287.5L478.4 1286.9L479.7 1286.3L481.1 1285.7L482.4 1285.1L483.7 1284.5L485.1 1283.9L486.4 1283.3L487.7 1282.6L489.1 1282.0L490.4 1281.3L491.7 1280.7L493.0 1280.0L494.3 1279.4L495.6 1278.7L496.9 1278.0L498.2 1277.3L499.5 1276.6L500.8 1275.9L502.1 1275.2L503.4 1274.5L504.7 1273.8L505.9 1273.1L507.2 1272.4L508.5 1271.6L509.8 1270.9L511.1 1270.2L512.3 1269.4L513.6 1268.7L514.9 1267.9L516.1 1267.1L517.4 1266.4L518.7 1265.6L519.9 1264.8L521.2 1264.1L522.5 1263.3L523.7 1262.5L525.0 1261.7L526.3 1260.9L527.5 1260.2L528.8 1259.4L530.1 1258.6L531.3 1257.8L532.6 1257.0L533.9 1256.2L535.1 1255.4L536.4 1254.6L537.7 1253.8L538.9 1253.0L540.2 1252.2L541.5 1251.3L542.7 1250.5L544.0 1249.7L545.3 1248.9L546.6 1248.1L547.9 1247.3L549.1 1246.5L550.4 1245.7L551.7 1244.9L553.0 1244.0L554.3 1243.2L555.6 1242.4L556.9 1241.6L558.2 1240.8L559.5 1240.0L560.8 1239.2L562.1 1238.4L563.4 1237.6L564.7 1236.8L566.0 1236.0L567.4 1235.2L568.7 1234.4L570.0 1233.6L571.3 1232.8L572.6 1232.0L574.0 1231.3L575.3 1230.5L576.6 1229.7L578.0 1228.9L579.3 1228.2L580.6 1227.4L582.0 1226.6L583.3 1225.9L584.7 1225.1L586.0 1224.4L587.4 1223.6L588.7 1222.9L590.1 1222.1L591.4 1221.4L592.8 1220.7L594.1 1220.0L595.5 1219.3L596.9 1218.5L598.2 1217.8L599.6 1217.1L601.0 1216.5L602.3 1215.8L603.7 1215.1L605.1 1214.4L606.5 1213.7L607.8 1213.1L609.2 1212.4L610.6 1211.8L612.0 1211.2L613.4 1210.5L614.8 1209.9L616.1 1209.3L617.5 1208.7L618.9 1208.1L620.3 1207.5L621.7 1206.9L623.1 1206.3L624.5 1205.8L625.9 1205.2L627.3 1204.7L628.7 1204.1L630.1 1203.6L631.5 1203.1L632.9 1202.6L634.3 1202.1L635.8 1201.6L637.2 1201.1L638.6 1200.6L640.0 1200.2L641.4 1199.7L642.8 1199.3L644.3 1198.8L645.7 1198.4L647.1 1198.0L648.5 1197.6L649.9 1197.2L651.4 1196.8L652.8 1196.4L654.2 1196.0L655.7 1195.6L657.1 1195.3L658.5 1194.9L660.0 1194.5L661.4 1194.2L662.8 1193.9L664.3 1193.5L665.7 1193.2L667.2 1192.9L668.6 1192.6L670.1 1192.3L671.5 1192.0L672.9 1191.7L674.4 1191.4L675.8 1191.1L677.3 1190.9L678.7 1190.6L680.2 1190.3L681.6 1190.1L683.1 1189.8L684.6 1189.6L686.0 1189.4L687.5 1189.1L688.9 1188.9L690.4 1188.7L691.9 1188.5L693.3 1188.3L694.8 1188.1L696.2 1187.9L697.7 1187.7L699.2 1187.5L700.6 1187.2L702.1 1187.0L703.6 1186.9L705.0 1186.9L706.5 1186.3L708.0 1186.2L709.5 1186.1L710.9 1186.7L712.4 1186.5L713.9 1186.2L715.4 1186.0L716.8 1185.3L718.3 1185.8L719.8 1185.5L721.3 1185.0L722.7 1184.9L724.2 1184.2L725.7 1184.2L727.2 1184.0L728.7 1183.8L730.1 1184.0L731.6 1184.3L733.1 1184.5L734.6 1184.6L736.1 1184.6L737.6 1184.2L739.1 1183.9L740.6 1183.7L742.0 1183.4L743.5 1183.8L745.0 1183.9L746.5 1183.9L748.0 1184.0L749.5 1183.2L751.0 1183.0L752.5 1182.9L754.0 1182.8L755.5 1183.2L757.0 1183.6L758.5 1183.7L760.0 1183.7L761.5 1184.0L763.0 1183.4L764.5 1183.3L766.0 1183.1L767.5 1182.6L769.0 1182.9L770.5 1183.0L772.0 1183.2L773.5 1183.6L775.0 1183.3L776.5 1183.4L778.0 1183.3L779.5 1183.2L781.0 1183.0L782.5 1182.6L784.0 1182.2L785.5 1182.4L787.0 1182.8L788.5 1182.8L790.0 1182.8L791.5 1182.5L793.0 1182.6L794.6 1183.0L796.1 1183.4L797.6 1183.9L799.1 1183.7L800.6 1183.3L802.1 1183.1L803.6 1182.9L805.1 1183.0L806.6 1182.7L808.2 1182.8L809.7 1182.5L811.2 1182.0L812.7 1182.3L814.2 1182.3L815.7 1182.6L817.2 1183.0L818.8 1183.2L820.3 1183.2L821.8 1182.9L823.3 1183.3L824.8 1183.6L826.3 1183.5L827.9 1183.5L829.4 1182.9L830.9 1182.6L832.4 1182.8L833.9 1182.9L835.5 1183.2L837.0 1183.2L838.5 1183.3L840.0 1183.5L841.5 1183.4L843.1 1183.4L844.6 1183.0L846.1 1182.9L847.6 1182.7L849.1 1182.8L850.7 1183.2L852.2 1183.3L853.7 1183.6L855.2 1184.0L856.7 1184.2L858.3 1184.4L859.8 1184.5L861.3 1184.4L862.8 1184.1L864.4 1184.0L865.9 1183.7L867.4 1183.6L868.9 1183.4L870.4 1183.2L872.0 1183.6L873.5 1183.8L875.0 1184.1L876.5 1184.0L878.1 1184.0L879.6 1183.9L881.1 1184.0L882.6 1184.1L884.2 1184.1L885.7 1183.7L887.2 1183.7L888.7 1183.6L890.3 1183.7L891.8 1183.7L893.3 1183.9L894.8 1184.4L896.3 1184.2L897.9 1184.1L899.4 1184.0L900.9 1183.6L902.4 1183.6L904.0 1183.9L905.5 1183.9L907.0 1184.0L908.5 1183.7L910.1 1183.6L911.6 1183.3L913.1 1183.3L914.6 1183.1L916.1 1182.9L917.7 1182.9L919.2 1182.5L920.7 1183.0L922.2 1183.3L923.8 1183.5L925.3 1183.8L926.8 1183.6L928.3 1183.7L929.8 1183.4L931.4 1183.7L932.9 1184.0L934.4 1183.7L935.9 1184.0L937.4 1183.9L939.0 1183.4L940.5 1183.5L942.0 1183.1L943.5 1182.8L945.0 1183.5L946.6 1183.7L948.1 1184.2L949.6 1184.4L951.1 1184.0L952.6 1183.6L954.1 1183.3L955.7 1183.2L957.2 1183.1L958.7 1183.2L960.2 1183.2L961.7 1183.1L963.2 1183.4L964.7 1183.4L966.3 1183.3L967.8 1183.4L969.3 1183.4L970.8 1183.4L972.3 1183.2L973.8 1183.2L975.3 1182.6L976.8 1182.9L978.4 1183.2L979.9 1183.2L981.4 1183.2L982.9 1182.5L984.4 1182.0L985.9 1181.8L987.4 1181.6L988.9 1182.2L990.4 1182.7L991.9 1182.6L993.4 1182.6L994.9 1182.5L996.4 1182.5L998.0 1182.5L999.5 1182.5L1001.0 1182.6L1002.5 1182.0L1004.0 1181.8L1005.5 1182.0L1007.0 1181.6L1008.5 1181.8L1010.0 1182.0L1011.5 1181.7L1013.0 1182.0L1014.5 1182.4L1016.0 1182.5L1017.5 1182.6L1019.0 1182.4L1020.5 1182.1L1021.9 1181.9L1023.4 1182.0L1024.9 1181.9L1026.4 1181.8L1027.9 1181.9L1029.4 1181.9L1030.9 1182.2L1032.4 1182.3L1033.9 1182.5L1035.4 1182.6L1036.9 1182.6L1038.3 1182.5L1039.8 1182.2L1041.3 1182.3L1042.8 1181.9L1044.3 1181.9L1045.8 1181.9L1047.3 1181.8L1048.7 1182.4L1050.2 1182.5L1051.7 1183.0L1053.2 1182.4L1054.7 1182.3L1056.1 1182.1L1057.6 1182.0L1059.1 1182.4L1060.6 1182.3L1062.0 1182.3L1063.5 1182.0L1065.0 1181.8L1066.5 1181.8L1067.9 1181.8L1069.4 1181.8L1070.9 1182.5L1072.3 1182.3L1073.8 1182.6L1075.3 1182.3L1076.8 1182.4L1078.2 1182.4" stroke="#505050" stroke-width="12.2" fill="none" stroke-linejoin="miter" stroke-linecap="butt"/>
<path d="M1078.7 1182.4L1078.7 1250.0L1079.3 1313.4L1080.7 1313.3L1082.1 1313.3L1083.6 1313.2L1085.0 1313.2L1086.4 1313.1L1087.9 1313.1L1089.3 1313.0L1090.7 1313.0L1092.2 1312.9L1093.6 1312.9L1095.1 1312.8L1096.5 1312.8L1098.0 1312.8L1099.4 1312.7L1100.9 1312.7L1102.3 1312.7L1103.8 1312.6L1105.3 1312.6L1106.7 1312.6L1108.2 1312.6L1109.7 1312.6L1111.1 1312.5L1112.6 1312.5L1114.1 1312.5L1115.6 1312.5L1117.0 1312.5L1118.5 1312.5L1120.0 1312.5L1121.5 1312.5L1123.0 1312.5L1124.4 1312.5L1125.9 1312.5L1127.4 1312.5L1128.9 1312.5L1130.4 1312.5L1131.9 1312.5L1133.4 1312.5L1134.9 1312.5L1136.4 1312.5L1137.9 1312.5L1139.4 1312.5L1140.9 1312.5L1142.4 1312.5L1143.9 1312.6L1145.4 1312.6L1146.9 1312.6L1148.4 1312.6L1149.9 1312.6L1151.4 1312.6L1152.9 1312.6L1154.4 1312.6L1156.0 1312.7L1157.5 1312.7L1159.0 1312.7L1160.5 1312.7L1162.0 1312.7L1163.5 1312.7L1165.0 1312.7L1166.6 1312.8L1168.1 1312.8L1169.6 1312.8L1171.1 1312.8L1172.7 1312.8L1174.2 1312.8L1175.7 1312.8L1177.2 1312.8L1178.8 1312.8L1180.3 1312.9L1181.8 1312.9L1183.3 1312.9L1184.9 1312.9L1186.4 1312.9L1187.9 1312.9L1189.4 1312.9L1191.0 1312.9L1192.5 1312.9L1194.0 1312.9L1195.6 1312.9L1197.1 1312.9L1198.6 1312.9L1200.2 1312.9L1201.7 1312.9L1203.2 1312.9L1204.8 1312.9L1206.3 1312.8L1207.8 1312.8L1209.4 1312.8L1210.9 1312.8L1212.4 1312.8L1213.9 1312.8L1215.5 1312.7L1217.0 1312.7L1218.5 1312.7L1220.1 1312.6L1221.6 1312.6L1223.1 1312.6L1224.7 1312.5L1226.2 1312.5L1227.7 1312.5L1229.3 1312.4L1230.8 1312.4L1232.3 1312.3L1233.8 1312.3L1235.4 1312.2L1236.9 1312.1L1238.4 1312.1L1240.0 1312.0L1241.5 1311.9L1243.0 1311.9L1244.5 1311.8L1246.1 1311.7L1247.6 1311.6L1249.1 1311.6L1250.6 1311.5L1252.2 1311.4L1253.7 1311.3L1255.2 1311.2L1256.7 1311.1L1258.2 1311.0L1259.8 1310.9L1261.3 1310.8L1262.8 1310.6L1264.3 1310.5L1265.8 1310.4L1267.3 1310.3L1268.8 1310.1L1270.3 1310.0L1271.9 1309.9L1273.4 1309.7L1274.9 1309.6L1276.4 1309.4L1277.9 1309.3L1279.4 1309.1L1280.9 1308.9L1282.4 1308.7L1283.9 1308.6L1285.4 1308.4L1286.9 1308.2L1288.4 1308.0L1289.9 1307.8L1291.4 1307.6L1292.9 1307.4L1294.4 1307.2L1295.8 1307.0L1297.3 1306.8L1298.8 1306.5L1300.3 1306.3L1301.8 1306.1L1303.3 1305.8L1304.7 1305.6L1306.2 1305.3L1307.7 1305.1L1309.2 1304.8L1310.6 1304.5L1312.1 1304.3L1313.6 1304.0L1315.0 1303.7L1316.5 1303.4L1318.0 1303.1L1319.4 1302.8L1320.9 1302.5L1322.3 1302.2L1323.8 1301.8L1325.2 1301.5L1326.7 1301.2L1328.1 1300.8L1329.6 1300.5L1331.0 1300.1L1332.5 1299.8L1333.9 1299.4L1335.3 1299.0L1336.8 1298.6L1338.2 1298.3L1339.6 1297.9L1341.0 1297.5L1342.5 1297.1L1343.9 1296.6L1345.3 1296.2L1346.7 1295.8L1348.1 1295.3L1349.5 1294.9L1351.0 1294.5L1352.4 1294.0L1353.8 1293.5L1355.2 1293.1L1356.6 1292.6L1357.9 1292.1L1359.3 1291.6L1360.7 1291.1L1362.1 1290.6L1363.5 1290.1L1364.9 1289.5L1366.2 1289.0L1367.6 1288.5L1369.0 1287.9L1370.3 1287.4L1371.7 1286.8L1373.1 1286.2L1374.4 1285.6L1375.8 1285.0L1377.1 1284.4L1378.5 1283.8L1379.8 1283.2L1381.2 1282.6L1382.5 1282.0L1383.8 1281.3L1385.2 1280.7L1386.5 1280.0L1387.8 1279.4L1389.1 1278.7L1390.4 1278.0L1391.7 1277.3L1393.0 1276.6L1394.3 1275.9L1395.6 1275.2L1396.9 1274.5L1398.2 1273.7L1399.5 1273.0L1400.8 1272.3L1402.1 1271.5L1403.4 1270.7L1404.6 1270.0L1405.9 1269.2L1407.2 1268.4L1408.4 1267.6L1409.7 1266.8L1411.0 1266.0L1412.2 1265.2L1413.5 1264.3L1414.7 1263.5L1416.0 1262.7L1417.2 1261.9L1418.5 1261.0L1419.7 1260.2L1421.0 1259.3L1422.2 1258.5L1423.5 1257.6L1424.7 1256.8L1426.0 1255.9L1427.2 1255.1L1428.4 1254.2L1429.7 1253.3L1430.9 1252.5L1432.2 1251.6L1433.4 1250.7L1434.7 1249.9L1435.9 1249.0L1437.2 1248.1L1438.4 1247.3L1439.7 1246.4L1440.9 1245.5L1442.2 1244.7L1443.4 1243.8L1444.7 1242.9L1445.9 1242.1L1447.2 1241.2L1448.4 1240.3L1449.7 1239.5L1451.0 1238.6L1452.2 1237.8L1453.5 1237.0L1454.8 1236.1L1456.1 1235.3L1457.4 1234.4L1458.6 1233.6L1459.9 1232.8L1461.2 1232.0L1462.5 1231.2L1463.8 1230.4L1465.1 1229.6L1466.4 1228.8L1467.7 1228.0L1469.0 1227.2L1470.3 1226.4L1471.7 1225.6L1473.0 1224.9L1474.3 1224.1L1475.6 1223.3L1477.0 1222.6L1478.3 1221.8L1479.6 1221.1L1481.0 1220.4L1482.3 1219.7L1483.7 1218.9L1485.0 1218.2L1486.4 1217.5L1487.7 1216.8L1489.1 1216.1L1490.4 1215.5L1491.8 1214.8L1493.1 1214.1L1494.5 1213.4L1495.9 1212.8L1497.2 1212.1L1498.6 1211.5L1500.0 1210.9L1501.4 1210.3L1502.8 1209.6L1504.1 1209.0L1505.5 1208.4L1506.9 1207.9L1508.3 1207.3L1509.7 1206.7L1511.1 1206.1L1512.5 1205.6L1513.9 1205.0L1515.3 1204.5L1516.7 1204.0L1518.1 1203.5L1519.5 1203.0L1520.9 1202.5L1522.4 1202.0L1523.8 1201.5L1525.2 1201.0L1526.6 1200.6L1528.0 1200.1L1529.5 1199.7L1530.9 1199.3L1532.3 1198.8L1533.7 1198.4L1535.2 1198.0L1536.6 1197.6L1538.0 1197.3L1539.5 1196.9L1540.9 1196.5L1542.4 1196.2L1543.8 1195.8L1545.2 1195.5L1546.7 1195.2L1548.1 1194.9L1549.6 1194.6L1551.0 1194.3L1552.5 1194.0L1553.9 1193.7L1555.4 1193.4L1556.9 1193.1L1558.3 1192.9L1559.8 1192.6L1561.2 1192.5L1562.7 1192.3L1564.2 1192.2L1565.6 1192.0L1567.1 1191.3L1568.6 1191.1L1570.0 1191.2L1571.5 1190.8L1573.0 1190.7L1574.5 1190.5L1575.9 1189.8L1577.4 1190.0L1578.9 1189.8L1580.4 1189.1L1581.8 1189.3L1583.3 1188.7L1584.8 1188.4L1586.3 1188.4L1587.8 1188.3L1589.2 1188.4L1590.7 1188.2L1592.2 1188.3L1593.7 1187.9L1595.2 1187.7L1596.7 1188.0L1598.2 1188.0L1599.7 1188.3L1601.1 1188.1L1602.6 1187.8L1604.1 1187.8L1605.6 1187.3L1607.1 1187.3L1608.6 1186.9L1610.1 1186.4L1611.6 1186.8L1613.1 1186.8L1614.6 1187.0L1616.1 1187.2L1617.6 1186.7L1619.1 1186.8L1620.6 1186.8L1622.1 1186.5L1623.6 1186.8L1625.0 1186.7L1626.5 1186.5L1628.0 1186.5L1629.5 1186.4L1631.0 1186.6L1632.5 1186.5L1634.0 1186.6L1635.5 1186.2L1637.0 1185.6L1638.5 1185.7L1640.0 1185.6L1641.5 1186.0L1643.0 1186.0L1644.5 1185.7L1646.0 1185.2L1647.5 1184.5L1649.0 1184.7L1650.5 1185.0L1652.0 1185.7L1653.5 1186.1L1655.0 1185.9L1656.5 1185.8L1658.0 1185.7L1659.5 1185.2L1661.0 1184.8L1662.6 1184.7L1664.1 1184.4L1665.6 1184.3L1667.1 1184.6L1668.6 1184.2L1670.1 1184.2L1671.6 1184.7L1673.1 1185.0L1674.6 1185.4L1676.1 1185.2L1677.6 1184.8L1679.1 1184.8L1680.6 1184.4L1682.1 1184.4L1683.6 1184.6L1685.1 1184.2L1686.6 1183.8L1688.1 1184.0L1689.6 1183.8L1691.1 1184.2L1692.6 1184.7L1694.1 1184.1L1695.7 1184.1L1697.2 1183.8L1698.7 1183.6L1700.2 1183.8L1701.7 1183.7L1703.2 1183.9L1704.7 1183.7L1706.2 1183.9L1707.7 1184.3L1709.2 1184.2L1710.7 1184.6L1712.2 1184.4L1713.7 1183.9L1715.2 1183.8L1716.8 1183.7L1718.3 1183.7L1719.8 1183.6L1721.3 1183.9L1722.8 1183.6L1724.3 1183.7L1725.8 1183.4L1727.3 1183.1L1728.8 1183.0L1730.3 1183.1L1731.8 1183.5L1733.3 1183.7L1734.9 1183.6L1736.4 1183.7L1737.9 1183.6L1739.4 1183.5L1740.9 1183.3L1742.4 1183.2L1743.9 1183.4L1745.4 1183.6L1746.9 1183.8L1748.4 1183.9L1749.9 1183.7L1751.5 1183.1L1753.0 1183.3L1754.5 1182.9L1756.0 1182.9L1757.5 1183.1L1759.0 1182.8L1760.5 1182.8L1762.0 1183.2L1763.5 1183.3L1765.0 1183.4L1766.5 1183.2L1768.1 1182.4L1769.6 1182.3L1771.1 1182.6L1772.6 1182.5L1774.1 1182.7L1775.6 1182.7L1777.1 1182.7L1778.6 1182.9L1780.1 1183.0L1781.6 1183.5L1783.2 1183.6L1784.7 1183.8L1786.2 1183.7L1787.7 1183.3L1789.2 1182.6L1790.7 1182.1L1792.2 1182.1L1793.7 1182.0L1795.2 1182.5L1796.7 1182.8L1798.3 1182.7L1799.8 1182.6L1801.3 1182.5L1802.8 1182.7L1804.3 1183.2L1805.8 1183.3L1807.3 1183.6L1808.8 1183.6L1810.3 1183.4L1811.8 1183.5L1813.3 1183.3L1814.9 1182.9L1816.4 1183.0L1817.9 1182.9L1819.4 1182.7L1820.9 1183.2L1822.4 1182.8L1823.9 1183.1L1825.4 1182.8L1826.9 1182.7L1828.4 1182.8L1829.9 1182.3L1831.4 1182.9L1833.0 1182.9L1834.5 1183.3L1836.0 1183.6L1837.5 1183.2L1839.0 1183.0L1840.5 1182.8L1842.0 1182.6L1843.5 1182.4L1845.0 1182.6L1846.5 1182.8L1848.0 1182.9L1849.5 1183.4L1851.0 1183.0L1852.5 1182.8L1854.1 1182.5L1855.6 1182.0L1857.1 1182.0L1858.6 1182.1L1860.1 1182.3L1861.6 1182.4L1863.1 1183.0L1864.6 1182.9L1866.1 1182.9L1867.6 1183.1L1869.1 1182.4L1870.6 1182.6L1872.1 1182.2L1873.6 1182.0L1875.1 1182.2L1876.6 1182.0L1878.1 1182.4L1879.6 1182.8L1881.1 1183.0L1882.6 1183.2L1884.2 1183.0L1885.7 1182.5L1887.2 1182.5L1888.7 1182.2L1890.2 1182.3L1891.7 1182.7L1893.2 1182.9L1894.7 1183.4L1896.2 1183.1L1897.7 1183.0L1899.2 1182.8L1900.7 1182.5L1902.2 1182.5L1903.7 1182.4L1905.2 1182.6L1906.7 1182.6L1908.2 1182.8L1909.7 1183.1L1911.2 1182.8L1912.7 1182.7L1914.2 1183.1L1915.7 1183.2L1917.2 1183.2L1918.7 1183.1L1920.2 1182.7L1921.7 1182.2L1923.2 1182.0L1924.7 1182.2L1926.2 1182.6L1927.7 1182.6L1929.2 1182.6L1930.7 1182.5L1932.1 1182.2L1933.6 1182.2L1935.1 1181.9L1936.6 1181.5L1938.1 1181.5L1939.6 1181.6L1941.1 1181.9L1942.6 1182.3L1944.1 1182.2L1945.6 1182.0L1947.1 1181.6L1948.6 1181.7L1950.1 1181.5L1951.6 1181.7L1953.1 1182.4L1954.6 1182.1L1956.1 1182.4L1957.5 1182.3L1959.0 1182.0L1960.5 1181.9L1962.0 1181.5L1963.5 1181.4L1965.0 1180.9L1966.5 1181.0L1968.0 1181.3L1969.5 1181.5L1971.0 1181.6L1972.4 1181.3L1973.9 1181.2L1975.4 1180.9L1976.9 1180.9" stroke="#505050" stroke-width="12.2" fill="none" stroke-linejoin="miter" stroke-linecap="butt"/>
<path d="M349 1170.5L475.5 1289" stroke="#787878" stroke-width="3.5" fill="none"/>
<rect x="1368" y="84.5" width="581.5" height="235.0" fill="#fff" stroke="#262626" stroke-width="2.4"/>
<path d="M1379 131.3H1460.5" stroke="#ffb100" stroke-width="9.4"/>
<path d="M1379 215H1460.5" stroke="#fa5005" stroke-width="9.4"/>
<path d="M1377 287.8H1460.5" stroke="#0073c2" stroke-width="12.4"/>
<text x="1461" y="137.8" font-size="48.5" text-anchor="start" fill="#000" stroke="#000" stroke-width="0.75" font-family="'Liberation Sans', Arial, Helvetica, sans-serif" >MISO Filter #1, K</text>
<text x="1836.5" y="161" font-size="31" text-anchor="start" fill="#000" stroke="#000" stroke-width="0.75" font-family="'Liberation Sans', Arial, Helvetica, sans-serif" >1</text>
<text x="1461" y="224.1" font-size="48.5" text-anchor="start" fill="#000" stroke="#000" stroke-width="0.75" font-family="'Liberation Sans', Arial, Helvetica, sans-serif" >MISO Filter #2, K</text>
<text x="1835.5" y="244.5" font-size="31" text-anchor="start" fill="#000" stroke="#000" stroke-width="0.75" font-family="'Liberation Sans', Arial, Helvetica, sans-serif" >2</text>
<text x="1461" y="304" font-size="48.5" text-anchor="start" fill="#000" stroke="#000" stroke-width="0.75" font-family="'Liberation Sans', Arial, Helvetica, sans-serif" >Combined MISO Filter</text>
<text x="165" y="80.0" font-size="48.5" text-anchor="end" fill="#000" stroke="#000" stroke-width="0.75" font-family="'Liberation Sans', Arial, Helvetica, sans-serif" >-5</text>
<text x="165" y="219.4" font-size="48.5" text-anchor="end" fill="#000" stroke="#000" stroke-width="0.75" font-family="'Liberation Sans', Arial, Helvetica, sans-serif" >-10</text>
<text x="165" y="358.8" font-size="48.5" text-anchor="end" fill="#000" stroke="#000" stroke-width="0.75" font-family="'Liberation Sans', Arial, Helvetica, sans-serif" >-15</text>
<text x="165" y="498.2" font-size="48.5" text-anchor="end" fill="#000" stroke="#000" stroke-width="0.75" font-family="'Liberation Sans', Arial, Helvetica, sans-serif" >-20</text>
<text x="165" y="637.6" font-size="48.5" text-anchor="end" fill="#000" stroke="#000" stroke-width="0.75" font-family="'Liberation Sans', Arial, Helvetica, sans-serif" >-25</text>
<text x="165" y="777.0" font-size="48.5" text-anchor="end" fill="#000" stroke="#000" stroke-width="0.75" font-family="'Liberation Sans', Arial, Helvetica, sans-serif" >-30</text>
<text x="165" y="916.4" font-size="48.5" text-anchor="end" fill="#000" stroke="#000" stroke-width="0.75" font-family="'Liberation Sans', Arial, Helvetica, sans-serif" >-35</text>
<text x="165" y="1055.8" font-size="48.5" text-anchor="end" fill="#000" stroke="#000" stroke-width="0.75" font-family="'Liberation Sans', Arial, Helvetica, sans-serif" >-40</text>
<text x="158.5" y="1195" font-size="48.5" text-anchor="end" fill="#000" stroke="#000" stroke-width="0.75" font-family="'Liberation Sans', Arial, Helvetica, sans-serif" >1</text>
<text x="164.2" y="1335.5" font-size="48.5" text-anchor="end" fill="#000" stroke="#000" stroke-width="0.75" font-family="'Liberation Sans', Arial, Helvetica, sans-serif" >0</text>
<text x="166.7" y="1379" font-size="46.5" text-anchor="start" fill="#000" stroke="#000" stroke-width="0.75" font-family="'Liberation Sans', Arial, Helvetica, sans-serif" >0</text>
<text x="353.7" y="1379" font-size="46.5" text-anchor="start" fill="#000" stroke="#000" stroke-width="0.75" font-family="'Liberation Sans', Arial, Helvetica, sans-serif" >3000</text>
<text x="573.1" y="1379" font-size="46.5" text-anchor="start" fill="#000" stroke="#000" stroke-width="0.75" font-family="'Liberation Sans', Arial, Helvetica, sans-serif" >6000</text>
<text x="799.0" y="1379" font-size="46.5" text-anchor="start" fill="#000" stroke="#000" stroke-width="0.75" font-family="'Liberation Sans', Arial, Helvetica, sans-serif" >9000</text>
<text x="986.5" y="1379" font-size="46.5" text-anchor="start" fill="#000" stroke="#000" stroke-width="0.75" font-family="'Liberation Sans', Arial, Helvetica, sans-serif" >12,000</text>
<text x="1230.7" y="1379" font-size="46.5" text-anchor="start" fill="#000" stroke="#000" stroke-width="0.75" font-family="'Liberation Sans', Arial, Helvetica, sans-serif" >15,000</text>
<text x="1454.5" y="1379" font-size="46.5" text-anchor="start" fill="#000" stroke="#000" stroke-width="0.75" font-family="'Liberation Sans', Arial, Helvetica, sans-serif" >18,000</text>
<text x="1686.7" y="1379" font-size="46.5" text-anchor="start" fill="#000" stroke="#000" stroke-width="0.75" font-family="'Liberation Sans', Arial, Helvetica, sans-serif" >21,000</text>
<text x="1900.6" y="1375.8" font-size="46.5" text-anchor="start" fill="#000" stroke="#000" stroke-width="0.75" font-family="'Liberation Sans', Arial, Helvetica, sans-serif" >24,000</text>
<text x="1077" y="1443.5" font-size="48" text-anchor="middle" fill="#000" stroke="#000" stroke-width="0.75" font-family="'Liberation Sans', Arial, Helvetica, sans-serif" >Samples</text>
<text transform="translate(76.5 687.5) rotate(-90)" font-size="48.5" text-anchor="middle" fill="#000" stroke="#000" stroke-width="0.75" font-family="'Liberation Sans', Arial, Helvetica, sans-serif">EMSE [dB]</text>
<text x="357.5" y="1159.3" font-size="44" text-anchor="middle" fill="#555" stroke="#555" stroke-width="0.75" font-family="'Liberation Sans', Arial, Helvetica, sans-serif" >Mixing</text>
<text x="357.5" y="1215.7" font-size="44" text-anchor="middle" fill="#555" stroke="#555" stroke-width="0.75" font-family="'Liberation Sans', Arial, Helvetica, sans-serif" >parameter</text>
</svg>
</div></body></html>
